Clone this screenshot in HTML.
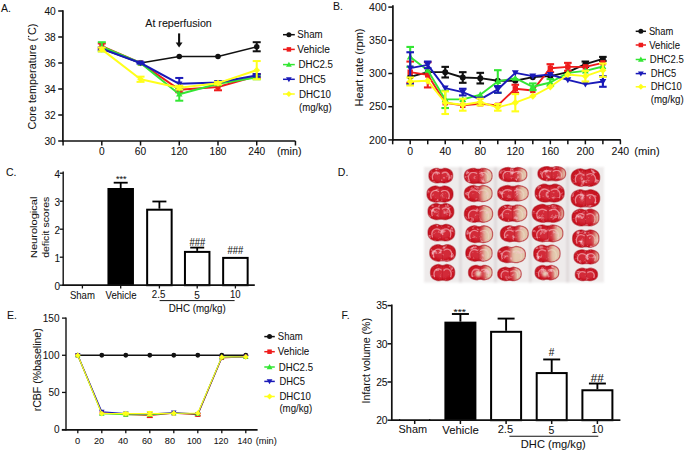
<!DOCTYPE html>
<html><head><meta charset="utf-8"><style>
html,body{margin:0;padding:0;background:#fff;}
body{width:685px;height:452px;overflow:hidden;}
svg{display:block;font-family:"Liberation Sans", sans-serif;}
text{stroke:#1a1a1a;stroke-width:0.06px;}
</style></head><body>
<svg width="685" height="452" viewBox="0 0 685 452">
<rect width="685" height="452" fill="#fff"/>
<text x="1.00" y="12.00" font-size="10.5" text-anchor="start" fill="#111">A.</text>
<line x1="62.90" y1="10.30" x2="62.90" y2="141.80" stroke="#111" stroke-width="1.7" stroke-linecap="butt"/>
<line x1="62.10" y1="141.00" x2="295.50" y2="141.00" stroke="#111" stroke-width="1.7" stroke-linecap="butt"/>
<line x1="58.20" y1="11.00" x2="62.90" y2="11.00" stroke="#111" stroke-width="1.5" stroke-linecap="butt"/>
<text x="55.80" y="14.70" font-size="10.2" text-anchor="end" fill="#111">40</text>
<line x1="58.20" y1="37.00" x2="62.90" y2="37.00" stroke="#111" stroke-width="1.5" stroke-linecap="butt"/>
<text x="55.80" y="40.70" font-size="10.2" text-anchor="end" fill="#111">38</text>
<line x1="58.20" y1="63.00" x2="62.90" y2="63.00" stroke="#111" stroke-width="1.5" stroke-linecap="butt"/>
<text x="55.80" y="66.70" font-size="10.2" text-anchor="end" fill="#111">36</text>
<line x1="58.20" y1="89.00" x2="62.90" y2="89.00" stroke="#111" stroke-width="1.5" stroke-linecap="butt"/>
<text x="55.80" y="92.70" font-size="10.2" text-anchor="end" fill="#111">34</text>
<line x1="58.20" y1="115.00" x2="62.90" y2="115.00" stroke="#111" stroke-width="1.5" stroke-linecap="butt"/>
<text x="55.80" y="118.70" font-size="10.2" text-anchor="end" fill="#111">32</text>
<line x1="58.20" y1="141.00" x2="62.90" y2="141.00" stroke="#111" stroke-width="1.5" stroke-linecap="butt"/>
<text x="55.80" y="144.70" font-size="10.2" text-anchor="end" fill="#111">30</text>
<line x1="63.07" y1="141.00" x2="63.07" y2="145.50" stroke="#111" stroke-width="1.5" stroke-linecap="butt"/>
<line x1="101.80" y1="141.00" x2="101.80" y2="145.50" stroke="#111" stroke-width="1.5" stroke-linecap="butt"/>
<line x1="140.53" y1="141.00" x2="140.53" y2="145.50" stroke="#111" stroke-width="1.5" stroke-linecap="butt"/>
<line x1="179.26" y1="141.00" x2="179.26" y2="145.50" stroke="#111" stroke-width="1.5" stroke-linecap="butt"/>
<line x1="217.99" y1="141.00" x2="217.99" y2="145.50" stroke="#111" stroke-width="1.5" stroke-linecap="butt"/>
<line x1="256.72" y1="141.00" x2="256.72" y2="145.50" stroke="#111" stroke-width="1.5" stroke-linecap="butt"/>
<line x1="295.45" y1="141.00" x2="295.45" y2="145.50" stroke="#111" stroke-width="1.5" stroke-linecap="butt"/>
<text x="101.80" y="155.30" font-size="10.2" text-anchor="middle" fill="#111">0</text>
<text x="140.53" y="155.30" font-size="10.2" text-anchor="middle" fill="#111">60</text>
<text x="179.26" y="155.30" font-size="10.2" text-anchor="middle" fill="#111">120</text>
<text x="217.99" y="155.30" font-size="10.2" text-anchor="middle" fill="#111">180</text>
<text x="256.72" y="155.30" font-size="10.2" text-anchor="middle" fill="#111">240</text>
<text x="277.00" y="155.00" font-size="10.2" text-anchor="start" fill="#111" textLength="24.50" lengthAdjust="spacingAndGlyphs">(min)</text>
<text x="36.20" y="129.50" font-size="10.5" text-anchor="start" fill="#111" textLength="106.00" lengthAdjust="spacingAndGlyphs" transform="rotate(-90 36.20 129.50)">Core temperature ( C)</text>
<circle cx="28.6" cy="36.4" r="0.75" fill="#222"/>
<text x="145.30" y="26.60" font-size="10.5" text-anchor="start" fill="#111" textLength="66.50" lengthAdjust="spacingAndGlyphs">At reperfusion</text>
<line x1="179.10" y1="33.40" x2="179.10" y2="43.50" stroke="#111" stroke-width="2.1" stroke-linecap="butt"/>
<polygon points="175.7,42.6 182.5,42.6 179.1,47.4" fill="#111"/>
<polyline points="101.80,48.70 140.53,63.00 179.26,56.50 217.99,56.50 256.72,46.75" fill="none" stroke="#111" stroke-width="1.5" stroke-linejoin="round"/>
<line x1="256.72" y1="42.20" x2="256.72" y2="51.30" stroke="#111" stroke-width="2.0" stroke-linecap="butt"/>
<line x1="252.72" y1="42.20" x2="260.72" y2="42.20" stroke="#111" stroke-width="2.0" stroke-linecap="butt"/>
<line x1="252.72" y1="51.30" x2="260.72" y2="51.30" stroke="#111" stroke-width="2.0" stroke-linecap="butt"/>
<circle cx="101.80" cy="48.70" r="2.8" fill="#111"/>
<circle cx="140.53" cy="63.00" r="2.8" fill="#111"/>
<circle cx="179.26" cy="56.50" r="2.8" fill="#111"/>
<circle cx="217.99" cy="56.50" r="2.8" fill="#111"/>
<circle cx="256.72" cy="46.75" r="2.8" fill="#111"/>
<polyline points="101.80,46.10 140.53,63.00 179.26,89.65 217.99,87.05 256.72,76.00" fill="none" stroke="#ee1c1c" stroke-width="2.0" stroke-linejoin="round"/>
<line x1="101.80" y1="43.50" x2="101.80" y2="48.70" stroke="#ee1c1c" stroke-width="2.0" stroke-linecap="butt"/>
<line x1="97.80" y1="43.50" x2="105.80" y2="43.50" stroke="#ee1c1c" stroke-width="2.0" stroke-linecap="butt"/>
<line x1="97.80" y1="48.70" x2="105.80" y2="48.70" stroke="#ee1c1c" stroke-width="2.0" stroke-linecap="butt"/>
<line x1="179.26" y1="87.05" x2="179.26" y2="92.25" stroke="#ee1c1c" stroke-width="2.0" stroke-linecap="butt"/>
<line x1="175.26" y1="87.05" x2="183.26" y2="87.05" stroke="#ee1c1c" stroke-width="2.0" stroke-linecap="butt"/>
<line x1="175.26" y1="92.25" x2="183.26" y2="92.25" stroke="#ee1c1c" stroke-width="2.0" stroke-linecap="butt"/>
<line x1="217.99" y1="83.80" x2="217.99" y2="90.30" stroke="#ee1c1c" stroke-width="2.0" stroke-linecap="butt"/>
<line x1="213.99" y1="83.80" x2="221.99" y2="83.80" stroke="#ee1c1c" stroke-width="2.0" stroke-linecap="butt"/>
<line x1="213.99" y1="90.30" x2="221.99" y2="90.30" stroke="#ee1c1c" stroke-width="2.0" stroke-linecap="butt"/>
<line x1="256.72" y1="74.05" x2="256.72" y2="77.95" stroke="#ee1c1c" stroke-width="2.0" stroke-linecap="butt"/>
<line x1="252.72" y1="74.05" x2="260.72" y2="74.05" stroke="#ee1c1c" stroke-width="2.0" stroke-linecap="butt"/>
<line x1="252.72" y1="77.95" x2="260.72" y2="77.95" stroke="#ee1c1c" stroke-width="2.0" stroke-linecap="butt"/>
<rect x="99.28" y="43.58" width="5.04" height="5.04" fill="#ee1c1c"/>
<rect x="138.01" y="60.48" width="5.04" height="5.04" fill="#ee1c1c"/>
<rect x="176.74" y="87.13" width="5.04" height="5.04" fill="#ee1c1c"/>
<rect x="215.47" y="84.53" width="5.04" height="5.04" fill="#ee1c1c"/>
<rect x="254.20" y="73.48" width="5.04" height="5.04" fill="#ee1c1c"/>
<polyline points="101.80,46.75 140.53,63.00 179.26,94.20 217.99,83.80 256.72,77.30" fill="none" stroke="#33e633" stroke-width="2.0" stroke-linejoin="round"/>
<line x1="101.80" y1="42.20" x2="101.80" y2="51.30" stroke="#33e633" stroke-width="2.0" stroke-linecap="butt"/>
<line x1="97.80" y1="42.20" x2="105.80" y2="42.20" stroke="#33e633" stroke-width="2.0" stroke-linecap="butt"/>
<line x1="97.80" y1="51.30" x2="105.80" y2="51.30" stroke="#33e633" stroke-width="2.0" stroke-linecap="butt"/>
<line x1="179.26" y1="87.70" x2="179.26" y2="100.70" stroke="#33e633" stroke-width="2.0" stroke-linecap="butt"/>
<line x1="175.26" y1="87.70" x2="183.26" y2="87.70" stroke="#33e633" stroke-width="2.0" stroke-linecap="butt"/>
<line x1="175.26" y1="100.70" x2="183.26" y2="100.70" stroke="#33e633" stroke-width="2.0" stroke-linecap="butt"/>
<line x1="217.99" y1="82.50" x2="217.99" y2="85.10" stroke="#33e633" stroke-width="2.0" stroke-linecap="butt"/>
<line x1="213.99" y1="82.50" x2="221.99" y2="82.50" stroke="#33e633" stroke-width="2.0" stroke-linecap="butt"/>
<line x1="213.99" y1="85.10" x2="221.99" y2="85.10" stroke="#33e633" stroke-width="2.0" stroke-linecap="butt"/>
<line x1="256.72" y1="75.35" x2="256.72" y2="79.25" stroke="#33e633" stroke-width="2.0" stroke-linecap="butt"/>
<line x1="252.72" y1="75.35" x2="260.72" y2="75.35" stroke="#33e633" stroke-width="2.0" stroke-linecap="butt"/>
<line x1="252.72" y1="79.25" x2="260.72" y2="79.25" stroke="#33e633" stroke-width="2.0" stroke-linecap="butt"/>
<polygon points="101.80,43.53 105.02,49.16 98.58,49.16" fill="#33e633"/>
<polygon points="140.53,59.78 143.75,65.42 137.31,65.42" fill="#33e633"/>
<polygon points="179.26,90.98 182.48,96.61 176.04,96.61" fill="#33e633"/>
<polygon points="217.99,80.58 221.21,86.22 214.77,86.22" fill="#33e633"/>
<polygon points="256.72,74.08 259.94,79.72 253.50,79.72" fill="#33e633"/>
<polyline points="101.80,48.70 140.53,63.00 179.26,83.80 217.99,82.50 256.72,75.35" fill="none" stroke="#1a1ab8" stroke-width="2.0" stroke-linejoin="round"/>
<line x1="101.80" y1="47.40" x2="101.80" y2="50.00" stroke="#1a1ab8" stroke-width="2.0" stroke-linecap="butt"/>
<line x1="97.80" y1="47.40" x2="105.80" y2="47.40" stroke="#1a1ab8" stroke-width="2.0" stroke-linecap="butt"/>
<line x1="97.80" y1="50.00" x2="105.80" y2="50.00" stroke="#1a1ab8" stroke-width="2.0" stroke-linecap="butt"/>
<line x1="140.53" y1="62.35" x2="140.53" y2="63.65" stroke="#1a1ab8" stroke-width="2.0" stroke-linecap="butt"/>
<line x1="136.53" y1="62.35" x2="144.53" y2="62.35" stroke="#1a1ab8" stroke-width="2.0" stroke-linecap="butt"/>
<line x1="136.53" y1="63.65" x2="144.53" y2="63.65" stroke="#1a1ab8" stroke-width="2.0" stroke-linecap="butt"/>
<line x1="179.26" y1="77.95" x2="179.26" y2="89.65" stroke="#1a1ab8" stroke-width="2.0" stroke-linecap="butt"/>
<line x1="175.26" y1="77.95" x2="183.26" y2="77.95" stroke="#1a1ab8" stroke-width="2.0" stroke-linecap="butt"/>
<line x1="175.26" y1="89.65" x2="183.26" y2="89.65" stroke="#1a1ab8" stroke-width="2.0" stroke-linecap="butt"/>
<line x1="217.99" y1="81.20" x2="217.99" y2="83.80" stroke="#1a1ab8" stroke-width="2.0" stroke-linecap="butt"/>
<line x1="213.99" y1="81.20" x2="221.99" y2="81.20" stroke="#1a1ab8" stroke-width="2.0" stroke-linecap="butt"/>
<line x1="213.99" y1="83.80" x2="221.99" y2="83.80" stroke="#1a1ab8" stroke-width="2.0" stroke-linecap="butt"/>
<line x1="256.72" y1="74.05" x2="256.72" y2="76.65" stroke="#1a1ab8" stroke-width="2.0" stroke-linecap="butt"/>
<line x1="252.72" y1="74.05" x2="260.72" y2="74.05" stroke="#1a1ab8" stroke-width="2.0" stroke-linecap="butt"/>
<line x1="252.72" y1="76.65" x2="260.72" y2="76.65" stroke="#1a1ab8" stroke-width="2.0" stroke-linecap="butt"/>
<polygon points="101.80,51.92 105.02,46.28 98.58,46.28" fill="#1a1ab8"/>
<polygon points="140.53,66.22 143.75,60.59 137.31,60.59" fill="#1a1ab8"/>
<polygon points="179.26,87.02 182.48,81.39 176.04,81.39" fill="#1a1ab8"/>
<polygon points="217.99,85.72 221.21,80.08 214.77,80.08" fill="#1a1ab8"/>
<polygon points="256.72,78.57 259.94,72.94 253.50,72.94" fill="#1a1ab8"/>
<polyline points="101.80,49.35 140.53,79.25 179.26,87.70 217.99,83.15 256.72,70.15" fill="none" stroke="#ffff1a" stroke-width="2.0" stroke-linejoin="round"/>
<line x1="101.80" y1="47.40" x2="101.80" y2="51.30" stroke="#ffff1a" stroke-width="2.0" stroke-linecap="butt"/>
<line x1="97.80" y1="47.40" x2="105.80" y2="47.40" stroke="#ffff1a" stroke-width="2.0" stroke-linecap="butt"/>
<line x1="97.80" y1="51.30" x2="105.80" y2="51.30" stroke="#ffff1a" stroke-width="2.0" stroke-linecap="butt"/>
<line x1="140.53" y1="76.65" x2="140.53" y2="81.85" stroke="#ffff1a" stroke-width="2.0" stroke-linecap="butt"/>
<line x1="136.53" y1="76.65" x2="144.53" y2="76.65" stroke="#ffff1a" stroke-width="2.0" stroke-linecap="butt"/>
<line x1="136.53" y1="81.85" x2="144.53" y2="81.85" stroke="#ffff1a" stroke-width="2.0" stroke-linecap="butt"/>
<line x1="179.26" y1="85.75" x2="179.26" y2="89.65" stroke="#ffff1a" stroke-width="2.0" stroke-linecap="butt"/>
<line x1="175.26" y1="85.75" x2="183.26" y2="85.75" stroke="#ffff1a" stroke-width="2.0" stroke-linecap="butt"/>
<line x1="175.26" y1="89.65" x2="183.26" y2="89.65" stroke="#ffff1a" stroke-width="2.0" stroke-linecap="butt"/>
<line x1="217.99" y1="81.85" x2="217.99" y2="84.45" stroke="#ffff1a" stroke-width="2.0" stroke-linecap="butt"/>
<line x1="213.99" y1="81.85" x2="221.99" y2="81.85" stroke="#ffff1a" stroke-width="2.0" stroke-linecap="butt"/>
<line x1="213.99" y1="84.45" x2="221.99" y2="84.45" stroke="#ffff1a" stroke-width="2.0" stroke-linecap="butt"/>
<line x1="256.72" y1="61.05" x2="256.72" y2="79.25" stroke="#ffff1a" stroke-width="2.0" stroke-linecap="butt"/>
<line x1="252.72" y1="61.05" x2="260.72" y2="61.05" stroke="#ffff1a" stroke-width="2.0" stroke-linecap="butt"/>
<line x1="252.72" y1="79.25" x2="260.72" y2="79.25" stroke="#ffff1a" stroke-width="2.0" stroke-linecap="butt"/>
<polygon points="101.80,45.99 105.16,49.35 101.80,52.71 98.44,49.35" fill="#ffff1a"/>
<polygon points="140.53,75.89 143.89,79.25 140.53,82.61 137.17,79.25" fill="#ffff1a"/>
<polygon points="179.26,84.34 182.62,87.70 179.26,91.06 175.90,87.70" fill="#ffff1a"/>
<polygon points="217.99,79.79 221.35,83.15 217.99,86.51 214.63,83.15" fill="#ffff1a"/>
<polygon points="256.72,66.79 260.08,70.15 256.72,73.51 253.36,70.15" fill="#ffff1a"/>
<line x1="283.00" y1="34.70" x2="294.80" y2="34.70" stroke="#111" stroke-width="1.5" stroke-linecap="butt"/>
<circle cx="288.90" cy="34.70" r="2.5" fill="#111"/>
<text x="297.30" y="38.20" font-size="10" text-anchor="start" fill="#111" textLength="25.30" lengthAdjust="spacingAndGlyphs">Sham</text>
<line x1="283.00" y1="49.40" x2="294.80" y2="49.40" stroke="#ee1c1c" stroke-width="1.5" stroke-linecap="butt"/>
<rect x="286.65" y="47.15" width="4.50" height="4.50" fill="#ee1c1c"/>
<text x="297.30" y="52.90" font-size="10" text-anchor="start" fill="#111" textLength="32.60" lengthAdjust="spacingAndGlyphs">Vehicle</text>
<line x1="283.00" y1="64.60" x2="294.80" y2="64.60" stroke="#33e633" stroke-width="1.5" stroke-linecap="butt"/>
<polygon points="288.90,61.72 291.77,66.76 286.02,66.76" fill="#33e633"/>
<text x="298.40" y="68.10" font-size="10" text-anchor="start" fill="#111" textLength="34.60" lengthAdjust="spacingAndGlyphs">DHC2.5</text>
<line x1="283.00" y1="79.30" x2="294.80" y2="79.30" stroke="#1a1ab8" stroke-width="1.5" stroke-linecap="butt"/>
<polygon points="288.90,82.17 291.77,77.14 286.02,77.14" fill="#1a1ab8"/>
<text x="299.00" y="82.80" font-size="10" text-anchor="start" fill="#111" textLength="26.70" lengthAdjust="spacingAndGlyphs">DHC5</text>
<line x1="283.00" y1="94.00" x2="294.80" y2="94.00" stroke="#ffff1a" stroke-width="1.5" stroke-linecap="butt"/>
<polygon points="288.90,91.00 291.90,94.00 288.90,97.00 285.90,94.00" fill="#ffff1a"/>
<text x="299.00" y="97.50" font-size="10" text-anchor="start" fill="#111" textLength="32.00" lengthAdjust="spacingAndGlyphs">DHC10</text>
<text x="299.00" y="110.50" font-size="10" text-anchor="start" fill="#111" textLength="32.60" lengthAdjust="spacingAndGlyphs">(mg/kg)</text>
<text x="333.00" y="10.00" font-size="10.5" text-anchor="start" fill="#111">B.</text>
<line x1="392.90" y1="5.30" x2="392.90" y2="140.70" stroke="#111" stroke-width="1.7" stroke-linecap="butt"/>
<line x1="392.10" y1="139.90" x2="620.80" y2="139.90" stroke="#111" stroke-width="1.7" stroke-linecap="butt"/>
<line x1="388.30" y1="7.10" x2="392.90" y2="7.10" stroke="#111" stroke-width="1.5" stroke-linecap="butt"/>
<text x="386.60" y="10.80" font-size="10.5" text-anchor="end" fill="#111">400</text>
<line x1="388.30" y1="40.30" x2="392.90" y2="40.30" stroke="#111" stroke-width="1.5" stroke-linecap="butt"/>
<text x="386.60" y="44.00" font-size="10.5" text-anchor="end" fill="#111">350</text>
<line x1="388.30" y1="73.50" x2="392.90" y2="73.50" stroke="#111" stroke-width="1.5" stroke-linecap="butt"/>
<text x="386.60" y="77.20" font-size="10.5" text-anchor="end" fill="#111">300</text>
<line x1="388.30" y1="106.70" x2="392.90" y2="106.70" stroke="#111" stroke-width="1.5" stroke-linecap="butt"/>
<text x="386.60" y="110.40" font-size="10.5" text-anchor="end" fill="#111">250</text>
<line x1="388.30" y1="139.90" x2="392.90" y2="139.90" stroke="#111" stroke-width="1.5" stroke-linecap="butt"/>
<text x="386.60" y="143.60" font-size="10.5" text-anchor="end" fill="#111">200</text>
<line x1="392.68" y1="139.90" x2="392.68" y2="144.30" stroke="#111" stroke-width="1.5" stroke-linecap="butt"/>
<line x1="410.20" y1="139.90" x2="410.20" y2="144.30" stroke="#111" stroke-width="1.5" stroke-linecap="butt"/>
<line x1="427.72" y1="139.90" x2="427.72" y2="144.30" stroke="#111" stroke-width="1.5" stroke-linecap="butt"/>
<line x1="445.23" y1="139.90" x2="445.23" y2="144.30" stroke="#111" stroke-width="1.5" stroke-linecap="butt"/>
<line x1="462.75" y1="139.90" x2="462.75" y2="144.30" stroke="#111" stroke-width="1.5" stroke-linecap="butt"/>
<line x1="480.26" y1="139.90" x2="480.26" y2="144.30" stroke="#111" stroke-width="1.5" stroke-linecap="butt"/>
<line x1="497.78" y1="139.90" x2="497.78" y2="144.30" stroke="#111" stroke-width="1.5" stroke-linecap="butt"/>
<line x1="515.30" y1="139.90" x2="515.30" y2="144.30" stroke="#111" stroke-width="1.5" stroke-linecap="butt"/>
<line x1="532.81" y1="139.90" x2="532.81" y2="144.30" stroke="#111" stroke-width="1.5" stroke-linecap="butt"/>
<line x1="550.33" y1="139.90" x2="550.33" y2="144.30" stroke="#111" stroke-width="1.5" stroke-linecap="butt"/>
<line x1="567.84" y1="139.90" x2="567.84" y2="144.30" stroke="#111" stroke-width="1.5" stroke-linecap="butt"/>
<line x1="585.36" y1="139.90" x2="585.36" y2="144.30" stroke="#111" stroke-width="1.5" stroke-linecap="butt"/>
<line x1="602.88" y1="139.90" x2="602.88" y2="144.30" stroke="#111" stroke-width="1.5" stroke-linecap="butt"/>
<line x1="620.39" y1="139.90" x2="620.39" y2="144.30" stroke="#111" stroke-width="1.5" stroke-linecap="butt"/>
<text x="410.20" y="154.80" font-size="10.5" text-anchor="middle" fill="#111">0</text>
<text x="445.23" y="154.80" font-size="10.5" text-anchor="middle" fill="#111">40</text>
<text x="480.26" y="154.80" font-size="10.5" text-anchor="middle" fill="#111">80</text>
<text x="515.30" y="154.80" font-size="10.5" text-anchor="middle" fill="#111">120</text>
<text x="550.33" y="154.80" font-size="10.5" text-anchor="middle" fill="#111">160</text>
<text x="585.36" y="154.80" font-size="10.5" text-anchor="middle" fill="#111">200</text>
<text x="620.39" y="154.80" font-size="10.5" text-anchor="middle" fill="#111">240</text>
<text x="634.20" y="154.50" font-size="10.5" text-anchor="start" fill="#111" textLength="25.50" lengthAdjust="spacingAndGlyphs">(min)</text>
<text x="362.50" y="106.50" font-size="10.8" text-anchor="start" fill="#111" textLength="78.00" lengthAdjust="spacingAndGlyphs" transform="rotate(-90 362.50 106.50)">Heart rate (rpm)</text>
<polyline points="410.20,76.82 427.72,72.17 445.23,72.17 462.75,77.48 480.26,78.15 497.78,80.80 515.30,80.80 532.81,77.15 550.33,76.16 567.84,72.17 585.36,64.20 602.88,58.89" fill="none" stroke="#111" stroke-width="1.9" stroke-linejoin="round"/>
<line x1="445.23" y1="66.86" x2="445.23" y2="77.48" stroke="#111" stroke-width="2.1" stroke-linecap="butt"/>
<line x1="441.43" y1="66.86" x2="449.03" y2="66.86" stroke="#111" stroke-width="2.1" stroke-linecap="butt"/>
<line x1="441.43" y1="77.48" x2="449.03" y2="77.48" stroke="#111" stroke-width="2.1" stroke-linecap="butt"/>
<line x1="462.75" y1="72.17" x2="462.75" y2="82.80" stroke="#111" stroke-width="2.1" stroke-linecap="butt"/>
<line x1="458.95" y1="72.17" x2="466.55" y2="72.17" stroke="#111" stroke-width="2.1" stroke-linecap="butt"/>
<line x1="458.95" y1="82.80" x2="466.55" y2="82.80" stroke="#111" stroke-width="2.1" stroke-linecap="butt"/>
<line x1="480.26" y1="72.84" x2="480.26" y2="83.46" stroke="#111" stroke-width="2.1" stroke-linecap="butt"/>
<line x1="476.46" y1="72.84" x2="484.06" y2="72.84" stroke="#111" stroke-width="2.1" stroke-linecap="butt"/>
<line x1="476.46" y1="83.46" x2="484.06" y2="83.46" stroke="#111" stroke-width="2.1" stroke-linecap="butt"/>
<line x1="585.36" y1="61.55" x2="585.36" y2="66.86" stroke="#111" stroke-width="2.1" stroke-linecap="butt"/>
<line x1="581.56" y1="61.55" x2="589.16" y2="61.55" stroke="#111" stroke-width="2.1" stroke-linecap="butt"/>
<line x1="581.56" y1="66.86" x2="589.16" y2="66.86" stroke="#111" stroke-width="2.1" stroke-linecap="butt"/>
<line x1="602.88" y1="56.90" x2="602.88" y2="60.88" stroke="#111" stroke-width="2.1" stroke-linecap="butt"/>
<line x1="599.08" y1="56.90" x2="606.68" y2="56.90" stroke="#111" stroke-width="2.1" stroke-linecap="butt"/>
<line x1="599.08" y1="60.88" x2="606.68" y2="60.88" stroke="#111" stroke-width="2.1" stroke-linecap="butt"/>
<circle cx="410.20" cy="76.82" r="3.0" fill="#111"/>
<circle cx="427.72" cy="72.17" r="3.0" fill="#111"/>
<circle cx="445.23" cy="72.17" r="3.0" fill="#111"/>
<circle cx="462.75" cy="77.48" r="3.0" fill="#111"/>
<circle cx="480.26" cy="78.15" r="3.0" fill="#111"/>
<circle cx="497.78" cy="80.80" r="3.0" fill="#111"/>
<circle cx="515.30" cy="80.80" r="3.0" fill="#111"/>
<circle cx="532.81" cy="77.15" r="3.0" fill="#111"/>
<circle cx="550.33" cy="76.16" r="3.0" fill="#111"/>
<circle cx="567.84" cy="72.17" r="3.0" fill="#111"/>
<circle cx="585.36" cy="64.20" r="3.0" fill="#111"/>
<circle cx="602.88" cy="58.89" r="3.0" fill="#111"/>
<polyline points="410.20,72.17 427.72,74.83 445.23,102.72 462.75,105.37 480.26,103.71 497.78,105.37 515.30,88.77 532.81,90.43 550.33,68.19 567.84,66.86 585.36,66.86 602.88,62.88" fill="none" stroke="#ee1c1c" stroke-width="1.9" stroke-linejoin="round"/>
<line x1="410.20" y1="61.55" x2="410.20" y2="82.80" stroke="#ee1c1c" stroke-width="2.1" stroke-linecap="butt"/>
<line x1="406.40" y1="61.55" x2="414.00" y2="61.55" stroke="#ee1c1c" stroke-width="2.1" stroke-linecap="butt"/>
<line x1="406.40" y1="82.80" x2="414.00" y2="82.80" stroke="#ee1c1c" stroke-width="2.1" stroke-linecap="butt"/>
<line x1="427.72" y1="62.21" x2="427.72" y2="87.44" stroke="#ee1c1c" stroke-width="2.1" stroke-linecap="butt"/>
<line x1="423.92" y1="62.21" x2="431.52" y2="62.21" stroke="#ee1c1c" stroke-width="2.1" stroke-linecap="butt"/>
<line x1="423.92" y1="87.44" x2="431.52" y2="87.44" stroke="#ee1c1c" stroke-width="2.1" stroke-linecap="butt"/>
<line x1="515.30" y1="84.79" x2="515.30" y2="92.76" stroke="#ee1c1c" stroke-width="2.1" stroke-linecap="butt"/>
<line x1="511.50" y1="84.79" x2="519.10" y2="84.79" stroke="#ee1c1c" stroke-width="2.1" stroke-linecap="butt"/>
<line x1="511.50" y1="92.76" x2="519.10" y2="92.76" stroke="#ee1c1c" stroke-width="2.1" stroke-linecap="butt"/>
<line x1="550.33" y1="64.20" x2="550.33" y2="72.17" stroke="#ee1c1c" stroke-width="2.1" stroke-linecap="butt"/>
<line x1="546.53" y1="64.20" x2="554.13" y2="64.20" stroke="#ee1c1c" stroke-width="2.1" stroke-linecap="butt"/>
<line x1="546.53" y1="72.17" x2="554.13" y2="72.17" stroke="#ee1c1c" stroke-width="2.1" stroke-linecap="butt"/>
<line x1="567.84" y1="62.88" x2="567.84" y2="70.84" stroke="#ee1c1c" stroke-width="2.1" stroke-linecap="butt"/>
<line x1="564.04" y1="62.88" x2="571.64" y2="62.88" stroke="#ee1c1c" stroke-width="2.1" stroke-linecap="butt"/>
<line x1="564.04" y1="70.84" x2="571.64" y2="70.84" stroke="#ee1c1c" stroke-width="2.1" stroke-linecap="butt"/>
<rect x="407.50" y="69.47" width="5.40" height="5.40" fill="#ee1c1c"/>
<rect x="425.02" y="72.13" width="5.40" height="5.40" fill="#ee1c1c"/>
<rect x="442.53" y="100.02" width="5.40" height="5.40" fill="#ee1c1c"/>
<rect x="460.05" y="102.67" width="5.40" height="5.40" fill="#ee1c1c"/>
<rect x="477.56" y="101.01" width="5.40" height="5.40" fill="#ee1c1c"/>
<rect x="495.08" y="102.67" width="5.40" height="5.40" fill="#ee1c1c"/>
<rect x="512.60" y="86.07" width="5.40" height="5.40" fill="#ee1c1c"/>
<rect x="530.11" y="87.73" width="5.40" height="5.40" fill="#ee1c1c"/>
<rect x="547.63" y="65.49" width="5.40" height="5.40" fill="#ee1c1c"/>
<rect x="565.14" y="64.16" width="5.40" height="5.40" fill="#ee1c1c"/>
<rect x="582.66" y="64.16" width="5.40" height="5.40" fill="#ee1c1c"/>
<rect x="600.18" y="60.18" width="5.40" height="5.40" fill="#ee1c1c"/>
<polyline points="410.20,56.90 427.72,70.18 445.23,99.40 462.75,99.40 480.26,94.75 497.78,81.47 515.30,78.15 532.81,86.78 550.33,82.46 567.84,72.84 585.36,70.84 602.88,66.53" fill="none" stroke="#33e633" stroke-width="1.9" stroke-linejoin="round"/>
<line x1="410.20" y1="46.94" x2="410.20" y2="66.86" stroke="#33e633" stroke-width="2.1" stroke-linecap="butt"/>
<line x1="406.40" y1="46.94" x2="414.00" y2="46.94" stroke="#33e633" stroke-width="2.1" stroke-linecap="butt"/>
<line x1="406.40" y1="66.86" x2="414.00" y2="66.86" stroke="#33e633" stroke-width="2.1" stroke-linecap="butt"/>
<line x1="445.23" y1="90.76" x2="445.23" y2="108.03" stroke="#33e633" stroke-width="2.1" stroke-linecap="butt"/>
<line x1="441.43" y1="90.76" x2="449.03" y2="90.76" stroke="#33e633" stroke-width="2.1" stroke-linecap="butt"/>
<line x1="441.43" y1="108.03" x2="449.03" y2="108.03" stroke="#33e633" stroke-width="2.1" stroke-linecap="butt"/>
<line x1="497.78" y1="70.18" x2="497.78" y2="92.76" stroke="#33e633" stroke-width="2.1" stroke-linecap="butt"/>
<line x1="493.98" y1="70.18" x2="501.58" y2="70.18" stroke="#33e633" stroke-width="2.1" stroke-linecap="butt"/>
<line x1="493.98" y1="92.76" x2="501.58" y2="92.76" stroke="#33e633" stroke-width="2.1" stroke-linecap="butt"/>
<line x1="532.81" y1="83.46" x2="532.81" y2="90.10" stroke="#33e633" stroke-width="2.1" stroke-linecap="butt"/>
<line x1="529.01" y1="83.46" x2="536.61" y2="83.46" stroke="#33e633" stroke-width="2.1" stroke-linecap="butt"/>
<line x1="529.01" y1="90.10" x2="536.61" y2="90.10" stroke="#33e633" stroke-width="2.1" stroke-linecap="butt"/>
<line x1="550.33" y1="79.14" x2="550.33" y2="85.78" stroke="#33e633" stroke-width="2.1" stroke-linecap="butt"/>
<line x1="546.53" y1="79.14" x2="554.13" y2="79.14" stroke="#33e633" stroke-width="2.1" stroke-linecap="butt"/>
<line x1="546.53" y1="85.78" x2="554.13" y2="85.78" stroke="#33e633" stroke-width="2.1" stroke-linecap="butt"/>
<polygon points="410.20,53.45 413.65,59.49 406.75,59.49" fill="#33e633"/>
<polygon points="427.72,66.73 431.17,72.77 424.27,72.77" fill="#33e633"/>
<polygon points="445.23,95.95 448.68,101.98 441.78,101.98" fill="#33e633"/>
<polygon points="462.75,95.95 466.20,101.98 459.30,101.98" fill="#33e633"/>
<polygon points="480.26,91.30 483.71,97.34 476.81,97.34" fill="#33e633"/>
<polygon points="497.78,78.02 501.23,84.06 494.33,84.06" fill="#33e633"/>
<polygon points="515.30,74.70 518.75,80.74 511.85,80.74" fill="#33e633"/>
<polygon points="532.81,83.33 536.26,89.37 529.36,89.37" fill="#33e633"/>
<polygon points="550.33,79.01 553.78,85.05 546.88,85.05" fill="#33e633"/>
<polygon points="567.84,69.39 571.29,75.42 564.39,75.42" fill="#33e633"/>
<polygon points="585.36,67.39 588.81,73.43 581.91,73.43" fill="#33e633"/>
<polygon points="602.88,63.08 606.33,69.12 599.43,69.12" fill="#33e633"/>
<polyline points="410.20,68.19 427.72,64.87 445.23,88.11 462.75,92.09 480.26,99.40 497.78,89.44 515.30,72.84 532.81,76.16 550.33,74.50 567.84,79.81 585.36,84.12 602.88,81.47" fill="none" stroke="#1a1ab8" stroke-width="1.9" stroke-linejoin="round"/>
<line x1="410.20" y1="52.25" x2="410.20" y2="84.12" stroke="#1a1ab8" stroke-width="2.1" stroke-linecap="butt"/>
<line x1="406.40" y1="52.25" x2="414.00" y2="52.25" stroke="#1a1ab8" stroke-width="2.1" stroke-linecap="butt"/>
<line x1="406.40" y1="84.12" x2="414.00" y2="84.12" stroke="#1a1ab8" stroke-width="2.1" stroke-linecap="butt"/>
<line x1="427.72" y1="61.55" x2="427.72" y2="68.19" stroke="#1a1ab8" stroke-width="2.1" stroke-linecap="butt"/>
<line x1="423.92" y1="61.55" x2="431.52" y2="61.55" stroke="#1a1ab8" stroke-width="2.1" stroke-linecap="butt"/>
<line x1="423.92" y1="68.19" x2="431.52" y2="68.19" stroke="#1a1ab8" stroke-width="2.1" stroke-linecap="butt"/>
<line x1="462.75" y1="88.77" x2="462.75" y2="95.41" stroke="#1a1ab8" stroke-width="2.1" stroke-linecap="butt"/>
<line x1="458.95" y1="88.77" x2="466.55" y2="88.77" stroke="#1a1ab8" stroke-width="2.1" stroke-linecap="butt"/>
<line x1="458.95" y1="95.41" x2="466.55" y2="95.41" stroke="#1a1ab8" stroke-width="2.1" stroke-linecap="butt"/>
<line x1="497.78" y1="86.12" x2="497.78" y2="92.76" stroke="#1a1ab8" stroke-width="2.1" stroke-linecap="butt"/>
<line x1="493.98" y1="86.12" x2="501.58" y2="86.12" stroke="#1a1ab8" stroke-width="2.1" stroke-linecap="butt"/>
<line x1="493.98" y1="92.76" x2="501.58" y2="92.76" stroke="#1a1ab8" stroke-width="2.1" stroke-linecap="butt"/>
<line x1="602.88" y1="76.16" x2="602.88" y2="86.78" stroke="#1a1ab8" stroke-width="2.1" stroke-linecap="butt"/>
<line x1="599.08" y1="76.16" x2="606.68" y2="76.16" stroke="#1a1ab8" stroke-width="2.1" stroke-linecap="butt"/>
<line x1="599.08" y1="86.78" x2="606.68" y2="86.78" stroke="#1a1ab8" stroke-width="2.1" stroke-linecap="butt"/>
<polygon points="410.20,71.64 413.65,65.60 406.75,65.60" fill="#1a1ab8"/>
<polygon points="427.72,68.32 431.17,62.28 424.27,62.28" fill="#1a1ab8"/>
<polygon points="445.23,91.56 448.68,85.52 441.78,85.52" fill="#1a1ab8"/>
<polygon points="462.75,95.54 466.20,89.50 459.30,89.50" fill="#1a1ab8"/>
<polygon points="480.26,102.85 483.71,96.81 476.81,96.81" fill="#1a1ab8"/>
<polygon points="497.78,92.89 501.23,86.85 494.33,86.85" fill="#1a1ab8"/>
<polygon points="515.30,76.29 518.75,70.25 511.85,70.25" fill="#1a1ab8"/>
<polygon points="532.81,79.61 536.26,73.57 529.36,73.57" fill="#1a1ab8"/>
<polygon points="550.33,77.95 553.78,71.91 546.88,71.91" fill="#1a1ab8"/>
<polygon points="567.84,83.26 571.29,77.22 564.39,77.22" fill="#1a1ab8"/>
<polygon points="585.36,87.57 588.81,81.54 581.91,81.54" fill="#1a1ab8"/>
<polygon points="602.88,84.92 606.33,78.88 599.43,78.88" fill="#1a1ab8"/>
<polyline points="410.20,81.47 427.72,80.80 445.23,102.72 462.75,104.71 480.26,102.05 497.78,107.36 515.30,102.72 532.81,96.08 550.33,86.78 567.84,74.50 585.36,76.16 602.88,70.18" fill="none" stroke="#ffff1a" stroke-width="1.9" stroke-linejoin="round"/>
<line x1="410.20" y1="77.48" x2="410.20" y2="85.45" stroke="#ffff1a" stroke-width="2.1" stroke-linecap="butt"/>
<line x1="406.40" y1="77.48" x2="414.00" y2="77.48" stroke="#ffff1a" stroke-width="2.1" stroke-linecap="butt"/>
<line x1="406.40" y1="85.45" x2="414.00" y2="85.45" stroke="#ffff1a" stroke-width="2.1" stroke-linecap="butt"/>
<line x1="445.23" y1="91.43" x2="445.23" y2="114.00" stroke="#ffff1a" stroke-width="2.1" stroke-linecap="butt"/>
<line x1="441.43" y1="91.43" x2="449.03" y2="91.43" stroke="#ffff1a" stroke-width="2.1" stroke-linecap="butt"/>
<line x1="441.43" y1="114.00" x2="449.03" y2="114.00" stroke="#ffff1a" stroke-width="2.1" stroke-linecap="butt"/>
<line x1="462.75" y1="98.73" x2="462.75" y2="110.68" stroke="#ffff1a" stroke-width="2.1" stroke-linecap="butt"/>
<line x1="458.95" y1="98.73" x2="466.55" y2="98.73" stroke="#ffff1a" stroke-width="2.1" stroke-linecap="butt"/>
<line x1="458.95" y1="110.68" x2="466.55" y2="110.68" stroke="#ffff1a" stroke-width="2.1" stroke-linecap="butt"/>
<line x1="480.26" y1="98.73" x2="480.26" y2="105.37" stroke="#ffff1a" stroke-width="2.1" stroke-linecap="butt"/>
<line x1="476.46" y1="98.73" x2="484.06" y2="98.73" stroke="#ffff1a" stroke-width="2.1" stroke-linecap="butt"/>
<line x1="476.46" y1="105.37" x2="484.06" y2="105.37" stroke="#ffff1a" stroke-width="2.1" stroke-linecap="butt"/>
<line x1="497.78" y1="104.04" x2="497.78" y2="110.68" stroke="#ffff1a" stroke-width="2.1" stroke-linecap="butt"/>
<line x1="493.98" y1="104.04" x2="501.58" y2="104.04" stroke="#ffff1a" stroke-width="2.1" stroke-linecap="butt"/>
<line x1="493.98" y1="110.68" x2="501.58" y2="110.68" stroke="#ffff1a" stroke-width="2.1" stroke-linecap="butt"/>
<line x1="515.30" y1="94.08" x2="515.30" y2="111.35" stroke="#ffff1a" stroke-width="2.1" stroke-linecap="butt"/>
<line x1="511.50" y1="94.08" x2="519.10" y2="94.08" stroke="#ffff1a" stroke-width="2.1" stroke-linecap="butt"/>
<line x1="511.50" y1="111.35" x2="519.10" y2="111.35" stroke="#ffff1a" stroke-width="2.1" stroke-linecap="butt"/>
<line x1="585.36" y1="70.84" x2="585.36" y2="81.47" stroke="#ffff1a" stroke-width="2.1" stroke-linecap="butt"/>
<line x1="581.56" y1="70.84" x2="589.16" y2="70.84" stroke="#ffff1a" stroke-width="2.1" stroke-linecap="butt"/>
<line x1="581.56" y1="81.47" x2="589.16" y2="81.47" stroke="#ffff1a" stroke-width="2.1" stroke-linecap="butt"/>
<line x1="602.88" y1="63.54" x2="602.88" y2="76.82" stroke="#ffff1a" stroke-width="2.1" stroke-linecap="butt"/>
<line x1="599.08" y1="63.54" x2="606.68" y2="63.54" stroke="#ffff1a" stroke-width="2.1" stroke-linecap="butt"/>
<line x1="599.08" y1="76.82" x2="606.68" y2="76.82" stroke="#ffff1a" stroke-width="2.1" stroke-linecap="butt"/>
<polygon points="410.20,77.87 413.80,81.47 410.20,85.07 406.60,81.47" fill="#ffff1a"/>
<polygon points="427.72,77.20 431.32,80.80 427.72,84.40 424.12,80.80" fill="#ffff1a"/>
<polygon points="445.23,99.12 448.83,102.72 445.23,106.32 441.63,102.72" fill="#ffff1a"/>
<polygon points="462.75,101.11 466.35,104.71 462.75,108.31 459.15,104.71" fill="#ffff1a"/>
<polygon points="480.26,98.45 483.86,102.05 480.26,105.65 476.66,102.05" fill="#ffff1a"/>
<polygon points="497.78,103.76 501.38,107.36 497.78,110.96 494.18,107.36" fill="#ffff1a"/>
<polygon points="515.30,99.12 518.90,102.72 515.30,106.32 511.70,102.72" fill="#ffff1a"/>
<polygon points="532.81,92.48 536.41,96.08 532.81,99.68 529.21,96.08" fill="#ffff1a"/>
<polygon points="550.33,83.18 553.93,86.78 550.33,90.38 546.73,86.78" fill="#ffff1a"/>
<polygon points="567.84,70.90 571.44,74.50 567.84,78.10 564.24,74.50" fill="#ffff1a"/>
<polygon points="585.36,72.56 588.96,76.16 585.36,79.76 581.76,76.16" fill="#ffff1a"/>
<polygon points="602.88,66.58 606.48,70.18 602.88,73.78 599.28,70.18" fill="#ffff1a"/>
<line x1="635.70" y1="31.30" x2="646.00" y2="31.30" stroke="#111" stroke-width="1.5" stroke-linecap="butt"/>
<circle cx="640.85" cy="31.30" r="2.5" fill="#111"/>
<text x="648.90" y="34.80" font-size="10" text-anchor="start" fill="#111" textLength="24.40" lengthAdjust="spacingAndGlyphs">Sham</text>
<line x1="635.70" y1="45.00" x2="646.00" y2="45.00" stroke="#ee1c1c" stroke-width="1.5" stroke-linecap="butt"/>
<rect x="638.60" y="42.75" width="4.50" height="4.50" fill="#ee1c1c"/>
<text x="649.30" y="48.50" font-size="10" text-anchor="start" fill="#111" textLength="30.70" lengthAdjust="spacingAndGlyphs">Vehicle</text>
<line x1="635.70" y1="59.50" x2="646.00" y2="59.50" stroke="#33e633" stroke-width="1.5" stroke-linecap="butt"/>
<polygon points="640.85,56.62 643.73,61.66 637.98,61.66" fill="#33e633"/>
<text x="649.80" y="63.00" font-size="10" text-anchor="start" fill="#111" textLength="33.90" lengthAdjust="spacingAndGlyphs">DHC2.5</text>
<line x1="635.70" y1="73.60" x2="646.00" y2="73.60" stroke="#1a1ab8" stroke-width="1.5" stroke-linecap="butt"/>
<polygon points="640.85,76.47 643.73,71.44 637.98,71.44" fill="#1a1ab8"/>
<text x="650.80" y="77.10" font-size="10" text-anchor="start" fill="#111" textLength="25.40" lengthAdjust="spacingAndGlyphs">DHC5</text>
<line x1="635.70" y1="86.80" x2="646.00" y2="86.80" stroke="#ffff1a" stroke-width="1.5" stroke-linecap="butt"/>
<polygon points="640.85,83.80 643.85,86.80 640.85,89.80 637.85,86.80" fill="#ffff1a"/>
<text x="650.80" y="90.30" font-size="10" text-anchor="start" fill="#111" textLength="31.00" lengthAdjust="spacingAndGlyphs">DHC10</text>
<text x="650.80" y="102.60" font-size="10" text-anchor="start" fill="#111" textLength="32.90" lengthAdjust="spacingAndGlyphs">(mg/kg)</text>
<text x="6.00" y="175.50" font-size="10.5" text-anchor="start" fill="#111">C.</text>
<rect x="107.45" y="188.00" width="26.50" height="97.20" fill="#000"/>
<line x1="120.70" y1="188.00" x2="120.70" y2="182.70" stroke="#000" stroke-width="1.8" stroke-linecap="butt"/>
<line x1="113.70" y1="182.70" x2="127.70" y2="182.70" stroke="#000" stroke-width="1.8" stroke-linecap="butt"/>
<rect x="147.15" y="209.70" width="24.50" height="75.50" fill="#fff" stroke="#000" stroke-width="2"/>
<line x1="159.40" y1="208.70" x2="159.40" y2="201.50" stroke="#000" stroke-width="1.8" stroke-linecap="butt"/>
<line x1="152.40" y1="201.50" x2="166.40" y2="201.50" stroke="#000" stroke-width="1.8" stroke-linecap="butt"/>
<rect x="184.95" y="251.90" width="24.50" height="33.30" fill="#fff" stroke="#000" stroke-width="2"/>
<line x1="197.20" y1="250.90" x2="197.20" y2="247.60" stroke="#000" stroke-width="1.8" stroke-linecap="butt"/>
<line x1="190.20" y1="247.60" x2="204.20" y2="247.60" stroke="#000" stroke-width="1.8" stroke-linecap="butt"/>
<rect x="223.15" y="257.90" width="24.50" height="27.30" fill="#fff" stroke="#000" stroke-width="2"/>
<line x1="63.20" y1="171.60" x2="63.20" y2="286.00" stroke="#111" stroke-width="1.4" stroke-linecap="butt"/>
<line x1="62.50" y1="285.20" x2="254.80" y2="285.20" stroke="#111" stroke-width="1.7" stroke-linecap="butt"/>
<line x1="59.80" y1="285.20" x2="63.20" y2="285.20" stroke="#111" stroke-width="1.3" stroke-linecap="butt"/>
<text x="60.00" y="289.50" font-size="10" text-anchor="end" fill="#111">0</text>
<line x1="59.80" y1="257.20" x2="63.20" y2="257.20" stroke="#111" stroke-width="1.3" stroke-linecap="butt"/>
<text x="60.00" y="261.50" font-size="10" text-anchor="end" fill="#111">1</text>
<line x1="59.80" y1="229.20" x2="63.20" y2="229.20" stroke="#111" stroke-width="1.3" stroke-linecap="butt"/>
<text x="60.00" y="233.50" font-size="10" text-anchor="end" fill="#111">2</text>
<line x1="59.80" y1="201.20" x2="63.20" y2="201.20" stroke="#111" stroke-width="1.3" stroke-linecap="butt"/>
<text x="60.00" y="205.50" font-size="10" text-anchor="end" fill="#111">3</text>
<line x1="59.80" y1="173.20" x2="63.20" y2="173.20" stroke="#111" stroke-width="1.3" stroke-linecap="butt"/>
<text x="60.00" y="177.50" font-size="10" text-anchor="end" fill="#111">4</text>
<line x1="82.40" y1="285.20" x2="82.40" y2="288.50" stroke="#111" stroke-width="1.3" stroke-linecap="butt"/>
<line x1="120.70" y1="285.20" x2="120.70" y2="288.50" stroke="#111" stroke-width="1.3" stroke-linecap="butt"/>
<line x1="159.40" y1="285.20" x2="159.40" y2="288.50" stroke="#111" stroke-width="1.3" stroke-linecap="butt"/>
<line x1="197.20" y1="285.20" x2="197.20" y2="288.50" stroke="#111" stroke-width="1.3" stroke-linecap="butt"/>
<line x1="235.40" y1="285.20" x2="235.40" y2="288.50" stroke="#111" stroke-width="1.3" stroke-linecap="butt"/>
<text x="82.40" y="298.60" font-size="10.3" text-anchor="middle" fill="#111" textLength="25.00" lengthAdjust="spacingAndGlyphs">Sham</text>
<text x="121.00" y="299.40" font-size="10.3" text-anchor="middle" fill="#111" textLength="31.00" lengthAdjust="spacingAndGlyphs">Vehicle</text>
<text x="158.60" y="298.40" font-size="10" text-anchor="middle" fill="#111" textLength="13.50" lengthAdjust="spacingAndGlyphs">2.5</text>
<text x="197.00" y="299.30" font-size="10" text-anchor="middle" fill="#111">5</text>
<text x="235.20" y="298.40" font-size="10" text-anchor="middle" fill="#111" textLength="10.60" lengthAdjust="spacingAndGlyphs">10</text>
<line x1="159.60" y1="300.60" x2="234.60" y2="300.60" stroke="#111" stroke-width="1.0" stroke-linecap="butt"/>
<text x="197.30" y="311.50" font-size="10.3" text-anchor="middle" fill="#111" textLength="57.00" lengthAdjust="spacingAndGlyphs">DHC (mg/kg)</text>
<text x="37.40" y="258.00" font-size="9.5" text-anchor="start" fill="#111" textLength="61.40" lengthAdjust="spacingAndGlyphs" transform="rotate(-90 37.40 258.00)">Neurological</text>
<text x="49.00" y="257.80" font-size="9.5" text-anchor="start" fill="#111" textLength="61.00" lengthAdjust="spacingAndGlyphs" transform="rotate(-90 49.00 257.80)">deficit scores</text>
<text x="121.30" y="182.00" font-size="8.5" text-anchor="middle" fill="#111" textLength="10.50" lengthAdjust="spacingAndGlyphs">***</text>
<text x="197.30" y="245.60" font-size="10" text-anchor="middle" fill="#111" textLength="15.80" lengthAdjust="spacingAndGlyphs">###</text>
<text x="235.40" y="254.20" font-size="10" text-anchor="middle" fill="#111" textLength="15.80" lengthAdjust="spacingAndGlyphs">###</text>
<text x="337.80" y="175.50" font-size="10.5" text-anchor="start" fill="#111">D.</text>
<defs><filter id="bl" x="-5%" y="-5%" width="110%" height="110%"><feGaussianBlur stdDeviation="0.5"/></filter><filter id="bl2" x="-50%" y="-50%" width="200%" height="200%"><feGaussianBlur stdDeviation="1.3"/></filter><filter id="bl4" x="-50%" y="-50%" width="200%" height="200%"><feGaussianBlur stdDeviation="2.0"/></filter><filter id="bl3" x="-5%" y="-5%" width="110%" height="110%"><feGaussianBlur stdDeviation="0.9"/></filter><filter id="tex" x="0" y="0" width="100%" height="100%" filterUnits="objectBoundingBox"><feTurbulence type="fractalNoise" baseFrequency="0.2" numOctaves="3" seed="11" result="n"/><feColorMatrix in="n" type="matrix" values="0 0 0 0 0.93  0 0 0 0 0.55  0 0 0 0 0.6  3.0 0 0 0 -1.7"/><feGaussianBlur stdDeviation="0.7"/></filter></defs>
<g filter="url(#bl3)">
<rect x="424" y="167" width="180" height="115.5" fill="#eeebeb"/>
<rect x="459.3" y="167" width="2.4" height="115.5" fill="#dcd6d7"/>
<rect x="494.3" y="167" width="2.4" height="115.5" fill="#dcd6d7"/>
<rect x="529.1" y="167" width="2.4" height="115.5" fill="#dcd6d7"/>
<rect x="566.4" y="167" width="2.4" height="115.5" fill="#dcd6d7"/>
</g>
<clipPath id="brains"><path d="M440.80,169.22 L442.49,168.93 L443.73,168.46 L444.84,168.29 L445.84,168.38 L446.77,168.58 L447.63,168.83 L448.43,169.12 L449.16,169.46 L449.82,169.84 L450.42,170.26 L450.94,170.73 L451.41,171.23 L451.80,171.78 L452.12,172.38 L452.37,173.02 L452.56,173.73 L452.66,174.52 L452.70,175.60 L452.66,176.68 L452.56,177.47 L452.37,178.18 L452.12,178.82 L451.80,179.42 L451.41,179.97 L450.94,180.47 L450.42,180.94 L449.82,181.36 L449.16,181.74 L448.43,182.08 L447.63,182.37 L446.77,182.62 L445.84,182.83 L444.84,182.97 L443.73,182.95 L442.49,182.66 L440.80,182.44 L439.11,182.66 L437.87,182.95 L436.76,182.97 L435.76,182.83 L434.83,182.62 L433.97,182.37 L433.17,182.08 L432.44,181.74 L431.78,181.36 L431.18,180.94 L430.66,180.47 L430.19,179.97 L429.80,179.42 L429.48,178.82 L429.23,178.18 L429.04,177.47 L428.94,176.68 L428.90,175.60 L428.94,174.52 L429.04,173.73 L429.23,173.02 L429.48,172.38 L429.80,171.78 L430.19,171.23 L430.66,170.73 L431.18,170.26 L431.78,169.84 L432.44,169.46 L433.17,169.12 L433.97,168.83 L434.83,168.58 L435.76,168.38 L436.76,168.29 L437.87,168.46 L439.11,168.93Z M440.00,187.04 L441.85,186.72 L443.20,186.21 L444.41,186.02 L445.51,186.12 L446.53,186.33 L447.47,186.61 L448.33,186.93 L449.13,187.30 L449.85,187.72 L450.50,188.19 L451.08,188.70 L451.59,189.25 L452.02,189.86 L452.37,190.51 L452.64,191.22 L452.84,191.99 L452.96,192.86 L453.00,194.05 L452.96,195.24 L452.84,196.11 L452.64,196.88 L452.37,197.59 L452.02,198.24 L451.59,198.85 L451.08,199.40 L450.50,199.91 L449.85,200.38 L449.13,200.80 L448.33,201.17 L447.47,201.49 L446.53,201.77 L445.51,201.99 L444.41,202.15 L443.20,202.12 L441.85,201.81 L440.00,201.57 L438.15,201.81 L436.80,202.12 L435.59,202.15 L434.49,201.99 L433.47,201.77 L432.53,201.49 L431.67,201.17 L430.87,200.80 L430.15,200.38 L429.50,199.91 L428.92,199.40 L428.41,198.85 L427.98,198.24 L427.63,197.59 L427.36,196.88 L427.16,196.11 L427.04,195.24 L427.00,194.05 L427.04,192.86 L427.16,191.99 L427.36,191.22 L427.63,190.51 L427.98,189.86 L428.41,189.25 L428.92,188.70 L429.50,188.19 L430.15,187.72 L430.87,187.30 L431.67,186.93 L432.53,186.61 L433.47,186.33 L434.49,186.12 L435.59,186.02 L436.80,186.21 L438.15,186.72Z M440.90,204.54 L442.73,204.22 L444.08,203.71 L445.28,203.52 L446.37,203.62 L447.38,203.83 L448.31,204.11 L449.17,204.43 L449.96,204.80 L450.68,205.22 L451.32,205.69 L451.90,206.20 L452.40,206.75 L452.82,207.36 L453.17,208.01 L453.45,208.72 L453.64,209.49 L453.76,210.36 L453.80,211.55 L453.76,212.74 L453.64,213.61 L453.45,214.38 L453.17,215.09 L452.82,215.74 L452.40,216.35 L451.90,216.90 L451.32,217.41 L450.68,217.88 L449.96,218.30 L449.17,218.67 L448.31,218.99 L447.38,219.27 L446.37,219.49 L445.28,219.65 L444.08,219.62 L442.73,219.31 L440.90,219.07 L439.07,219.31 L437.72,219.62 L436.52,219.65 L435.43,219.49 L434.42,219.27 L433.49,218.99 L432.63,218.67 L431.84,218.30 L431.12,217.88 L430.48,217.41 L429.90,216.90 L429.40,216.35 L428.98,215.74 L428.63,215.09 L428.35,214.38 L428.16,213.61 L428.04,212.74 L428.00,211.55 L428.04,210.36 L428.16,209.49 L428.35,208.72 L428.63,208.01 L428.98,207.36 L429.40,206.75 L429.90,206.20 L430.48,205.69 L431.12,205.22 L431.84,204.80 L432.63,204.43 L433.49,204.11 L434.42,203.83 L435.43,203.62 L436.52,203.52 L437.72,203.71 L439.07,204.22Z M441.35,225.38 L443.25,225.05 L444.64,224.52 L445.88,224.33 L447.01,224.43 L448.05,224.65 L449.02,224.93 L449.91,225.27 L450.72,225.65 L451.47,226.08 L452.14,226.56 L452.73,227.09 L453.25,227.66 L453.69,228.28 L454.05,228.95 L454.33,229.68 L454.54,230.48 L454.66,231.38 L454.70,232.60 L454.66,233.82 L454.54,234.72 L454.33,235.52 L454.05,236.25 L453.69,236.92 L453.25,237.54 L452.73,238.11 L452.14,238.64 L451.47,239.12 L450.72,239.55 L449.91,239.93 L449.02,240.27 L448.05,240.55 L447.01,240.78 L445.88,240.94 L444.64,240.91 L443.25,240.59 L441.35,240.34 L439.45,240.59 L438.06,240.91 L436.82,240.94 L435.69,240.78 L434.65,240.55 L433.68,240.27 L432.79,239.93 L431.98,239.55 L431.23,239.12 L430.56,238.64 L429.97,238.11 L429.45,237.54 L429.01,236.92 L428.65,236.25 L428.37,235.52 L428.16,234.72 L428.04,233.82 L428.00,232.60 L428.04,231.38 L428.16,230.48 L428.37,229.68 L428.65,228.95 L429.01,228.28 L429.45,227.66 L429.97,227.09 L430.56,226.56 L431.23,226.08 L431.98,225.65 L432.79,225.27 L433.68,224.93 L434.65,224.65 L435.69,224.43 L436.82,224.33 L438.06,224.52 L439.45,225.05Z M442.60,245.68 L444.43,245.35 L445.78,244.82 L446.98,244.63 L448.07,244.73 L449.08,244.95 L450.01,245.23 L450.87,245.57 L451.66,245.95 L452.38,246.38 L453.02,246.86 L453.60,247.39 L454.10,247.96 L454.52,248.58 L454.87,249.25 L455.15,249.98 L455.34,250.78 L455.46,251.68 L455.50,252.90 L455.46,254.12 L455.34,255.02 L455.15,255.82 L454.87,256.55 L454.52,257.22 L454.10,257.84 L453.60,258.41 L453.02,258.94 L452.38,259.42 L451.66,259.85 L450.87,260.23 L450.01,260.57 L449.08,260.85 L448.07,261.08 L446.98,261.24 L445.78,261.21 L444.43,260.89 L442.60,260.64 L440.77,260.89 L439.42,261.21 L438.22,261.24 L437.13,261.08 L436.12,260.85 L435.19,260.57 L434.33,260.23 L433.54,259.85 L432.82,259.42 L432.18,258.94 L431.60,258.41 L431.10,257.84 L430.68,257.22 L430.33,256.55 L430.05,255.82 L429.86,255.02 L429.74,254.12 L429.70,252.90 L429.74,251.68 L429.86,250.78 L430.05,249.98 L430.33,249.25 L430.68,248.58 L431.10,247.96 L431.60,247.39 L432.18,246.86 L432.82,246.38 L433.54,245.95 L434.33,245.57 L435.19,245.23 L436.12,244.95 L437.13,244.73 L438.22,244.63 L439.42,244.82 L440.77,245.35Z M442.60,265.54 L444.32,265.22 L445.58,264.71 L446.70,264.52 L447.73,264.62 L448.67,264.83 L449.55,265.11 L450.36,265.43 L451.10,265.80 L451.77,266.22 L452.38,266.69 L452.92,267.20 L453.38,267.75 L453.78,268.36 L454.11,269.01 L454.37,269.72 L454.55,270.49 L454.66,271.36 L454.70,272.55 L454.66,273.74 L454.55,274.61 L454.37,275.38 L454.11,276.09 L453.78,276.74 L453.38,277.35 L452.92,277.90 L452.38,278.41 L451.77,278.88 L451.10,279.30 L450.36,279.67 L449.55,279.99 L448.67,280.27 L447.73,280.49 L446.70,280.65 L445.58,280.62 L444.32,280.31 L442.60,280.06 L440.88,280.31 L439.62,280.62 L438.50,280.65 L437.47,280.49 L436.53,280.27 L435.65,279.99 L434.84,279.67 L434.10,279.30 L433.43,278.88 L432.82,278.41 L432.28,277.90 L431.82,277.35 L431.42,276.74 L431.09,276.09 L430.83,275.38 L430.65,274.61 L430.54,273.74 L430.50,272.55 L430.54,271.36 L430.65,270.49 L430.83,269.72 L431.09,269.01 L431.42,268.36 L431.82,267.75 L432.28,267.20 L432.82,266.69 L433.43,266.22 L434.10,265.80 L434.84,265.43 L435.65,265.11 L436.53,264.83 L437.47,264.62 L438.50,264.52 L439.62,264.71 L440.88,265.22Z M478.25,169.26 L480.22,168.96 L481.66,168.48 L482.95,168.30 L484.12,168.39 L485.20,168.60 L486.20,168.86 L487.13,169.17 L487.98,169.52 L488.75,169.91 L489.44,170.35 L490.06,170.84 L490.59,171.36 L491.05,171.93 L491.43,172.55 L491.72,173.22 L491.93,173.95 L492.06,174.78 L492.10,175.90 L492.06,177.02 L491.93,177.85 L491.72,178.58 L491.43,179.25 L491.05,179.87 L490.59,180.44 L490.06,180.96 L489.44,181.45 L488.75,181.89 L487.98,182.28 L487.13,182.63 L486.20,182.94 L485.20,183.20 L484.12,183.41 L482.95,183.56 L481.66,183.54 L480.22,183.24 L478.25,183.01 L476.28,183.24 L474.84,183.54 L473.55,183.56 L472.38,183.41 L471.30,183.20 L470.30,182.94 L469.37,182.63 L468.52,182.28 L467.75,181.89 L467.06,181.45 L466.44,180.96 L465.91,180.44 L465.45,179.87 L465.07,179.25 L464.78,178.58 L464.57,177.85 L464.44,177.02 L464.40,175.90 L464.44,174.78 L464.57,173.95 L464.78,173.22 L465.07,172.55 L465.45,171.93 L465.91,171.36 L466.44,170.84 L467.06,170.35 L467.75,169.91 L468.52,169.52 L469.37,169.17 L470.30,168.86 L471.30,168.60 L472.38,168.39 L473.55,168.30 L474.84,168.48 L476.28,168.96Z M478.25,186.53 L480.22,186.21 L481.66,185.71 L482.95,185.52 L484.12,185.61 L485.20,185.83 L486.20,186.10 L487.13,186.42 L487.98,186.79 L488.75,187.21 L489.44,187.67 L490.06,188.18 L490.59,188.73 L491.05,189.33 L491.43,189.98 L491.72,190.69 L491.93,191.45 L492.06,192.32 L492.10,193.50 L492.06,194.68 L491.93,195.55 L491.72,196.31 L491.43,197.02 L491.05,197.67 L490.59,198.27 L490.06,198.82 L489.44,199.33 L488.75,199.79 L487.98,200.21 L487.13,200.58 L486.20,200.90 L485.20,201.17 L484.12,201.40 L482.95,201.55 L481.66,201.52 L480.22,201.21 L478.25,200.97 L476.28,201.21 L474.84,201.52 L473.55,201.55 L472.38,201.40 L471.30,201.17 L470.30,200.90 L469.37,200.58 L468.52,200.21 L467.75,199.79 L467.06,199.33 L466.44,198.82 L465.91,198.27 L465.45,197.67 L465.07,197.02 L464.78,196.31 L464.57,195.55 L464.44,194.68 L464.40,193.50 L464.44,192.32 L464.57,191.45 L464.78,190.69 L465.07,189.98 L465.45,189.33 L465.91,188.73 L466.44,188.18 L467.06,187.67 L467.75,187.21 L468.52,186.79 L469.37,186.42 L470.30,186.10 L471.30,185.83 L472.38,185.61 L473.55,185.52 L474.84,185.71 L476.28,186.21Z M478.50,206.59 L480.50,206.26 L481.98,205.73 L483.28,205.53 L484.48,205.63 L485.58,205.86 L486.60,206.15 L487.54,206.48 L488.40,206.87 L489.19,207.31 L489.89,207.79 L490.52,208.32 L491.07,208.90 L491.53,209.53 L491.92,210.21 L492.21,210.95 L492.43,211.76 L492.56,212.66 L492.60,213.90 L492.56,215.14 L492.43,216.04 L492.21,216.85 L491.92,217.59 L491.53,218.27 L491.07,218.90 L490.52,219.48 L489.89,220.01 L489.19,220.49 L488.40,220.93 L487.54,221.32 L486.60,221.65 L485.58,221.94 L484.48,222.18 L483.28,222.34 L481.98,222.31 L480.50,221.98 L478.50,221.73 L476.50,221.98 L475.02,222.31 L473.72,222.34 L472.52,222.18 L471.42,221.94 L470.40,221.65 L469.46,221.32 L468.60,220.93 L467.81,220.49 L467.11,220.01 L466.48,219.48 L465.93,218.90 L465.47,218.27 L465.08,217.59 L464.79,216.85 L464.57,216.04 L464.44,215.14 L464.40,213.90 L464.44,212.66 L464.57,211.76 L464.79,210.95 L465.08,210.21 L465.47,209.53 L465.93,208.90 L466.48,208.32 L467.11,207.79 L467.81,207.31 L468.60,206.87 L469.46,206.48 L470.40,206.15 L471.42,205.86 L472.52,205.63 L473.72,205.53 L475.02,205.73 L476.50,206.26Z M479.20,226.80 L481.10,226.47 L482.50,225.93 L483.74,225.74 L484.88,225.84 L485.93,226.06 L486.90,226.35 L487.79,226.69 L488.61,227.08 L489.36,227.52 L490.03,228.01 L490.62,228.54 L491.14,229.12 L491.59,229.76 L491.95,230.44 L492.23,231.18 L492.44,231.99 L492.56,232.91 L492.60,234.15 L492.56,235.39 L492.44,236.31 L492.23,237.12 L491.95,237.86 L491.59,238.54 L491.14,239.18 L490.62,239.76 L490.03,240.29 L489.36,240.78 L488.61,241.22 L487.79,241.61 L486.90,241.95 L485.93,242.24 L484.88,242.47 L483.74,242.63 L482.50,242.61 L481.10,242.28 L479.20,242.03 L477.30,242.28 L475.90,242.61 L474.66,242.63 L473.52,242.47 L472.47,242.24 L471.50,241.95 L470.61,241.61 L469.79,241.22 L469.04,240.78 L468.37,240.29 L467.78,239.76 L467.26,239.18 L466.81,238.54 L466.45,237.86 L466.17,237.12 L465.96,236.31 L465.84,235.39 L465.80,234.15 L465.84,232.91 L465.96,231.99 L466.17,231.18 L466.45,230.44 L466.81,229.76 L467.26,229.12 L467.78,228.54 L468.37,228.01 L469.04,227.52 L469.79,227.08 L470.61,226.69 L471.50,226.35 L472.47,226.06 L473.52,225.84 L474.66,225.74 L475.90,225.93 L477.30,226.47Z M478.95,246.14 L480.82,245.82 L482.19,245.31 L483.41,245.12 L484.52,245.22 L485.55,245.43 L486.50,245.71 L487.38,246.03 L488.18,246.40 L488.92,246.82 L489.57,247.29 L490.16,247.80 L490.67,248.35 L491.10,248.96 L491.46,249.61 L491.74,250.32 L491.94,251.09 L492.06,251.96 L492.10,253.15 L492.06,254.34 L491.94,255.21 L491.74,255.98 L491.46,256.69 L491.10,257.34 L490.67,257.95 L490.16,258.50 L489.57,259.01 L488.92,259.48 L488.18,259.90 L487.38,260.27 L486.50,260.59 L485.55,260.87 L484.52,261.09 L483.41,261.25 L482.19,261.22 L480.82,260.91 L478.95,260.67 L477.08,260.91 L475.71,261.22 L474.49,261.25 L473.38,261.09 L472.35,260.87 L471.40,260.59 L470.52,260.27 L469.72,259.90 L468.98,259.48 L468.33,259.01 L467.74,258.50 L467.23,257.95 L466.80,257.34 L466.44,256.69 L466.16,255.98 L465.96,255.21 L465.84,254.34 L465.80,253.15 L465.84,251.96 L465.96,251.09 L466.16,250.32 L466.44,249.61 L466.80,248.96 L467.23,248.35 L467.74,247.80 L468.33,247.29 L468.98,246.82 L469.72,246.40 L470.52,246.03 L471.40,245.71 L472.35,245.43 L473.38,245.22 L474.49,245.12 L475.71,245.31 L477.08,245.82Z M480.30,266.20 L481.98,265.91 L483.21,265.46 L484.30,265.29 L485.30,265.37 L486.22,265.57 L487.08,265.82 L487.86,266.11 L488.59,266.44 L489.24,266.82 L489.83,267.23 L490.36,267.69 L490.82,268.19 L491.21,268.73 L491.53,269.32 L491.78,269.96 L491.96,270.65 L492.06,271.44 L492.10,272.50 L492.06,273.56 L491.96,274.35 L491.78,275.04 L491.53,275.68 L491.21,276.27 L490.82,276.81 L490.36,277.31 L489.83,277.77 L489.24,278.18 L488.59,278.56 L487.86,278.89 L487.08,279.18 L486.22,279.43 L485.30,279.63 L484.30,279.77 L483.21,279.75 L481.98,279.47 L480.30,279.25 L478.62,279.47 L477.39,279.75 L476.30,279.77 L475.30,279.63 L474.38,279.43 L473.52,279.18 L472.74,278.89 L472.01,278.56 L471.36,278.18 L470.77,277.77 L470.24,277.31 L469.78,276.81 L469.39,276.27 L469.07,275.68 L468.82,275.04 L468.64,274.35 L468.54,273.56 L468.50,272.50 L468.54,271.44 L468.64,270.65 L468.82,269.96 L469.07,269.32 L469.39,268.73 L469.78,268.19 L470.24,267.69 L470.77,267.23 L471.36,266.82 L472.01,266.44 L472.74,266.11 L473.52,265.82 L474.38,265.57 L475.30,265.37 L476.30,265.29 L477.39,265.46 L478.62,265.91Z M512.90,168.38 L514.87,168.10 L516.33,167.65 L517.61,167.48 L518.79,167.57 L519.88,167.76 L520.88,168.00 L521.81,168.28 L522.66,168.61 L523.43,168.98 L524.13,169.39 L524.75,169.84 L525.29,170.33 L525.75,170.86 L526.13,171.43 L526.42,172.06 L526.63,172.74 L526.76,173.51 L526.80,174.55 L526.76,175.59 L526.63,176.36 L526.42,177.04 L526.13,177.67 L525.75,178.24 L525.29,178.77 L524.75,179.26 L524.13,179.71 L523.43,180.12 L522.66,180.49 L521.81,180.82 L520.88,181.10 L519.88,181.34 L518.79,181.54 L517.61,181.68 L516.33,181.66 L514.87,181.38 L512.90,181.17 L510.93,181.38 L509.47,181.66 L508.19,181.68 L507.01,181.54 L505.92,181.34 L504.92,181.10 L503.99,180.82 L503.14,180.49 L502.37,180.12 L501.67,179.71 L501.05,179.26 L500.51,178.77 L500.05,178.24 L499.67,177.67 L499.38,177.04 L499.17,176.36 L499.04,175.59 L499.00,174.55 L499.04,173.51 L499.17,172.74 L499.38,172.06 L499.67,171.43 L500.05,170.86 L500.51,170.33 L501.05,169.84 L501.67,169.39 L502.37,168.98 L503.14,168.61 L503.99,168.28 L504.92,168.00 L505.92,167.76 L507.01,167.57 L508.19,167.48 L509.47,167.65 L510.93,168.10Z M512.95,186.49 L515.12,186.18 L516.71,185.69 L518.12,185.51 L519.41,185.60 L520.61,185.81 L521.71,186.08 L522.73,186.39 L523.66,186.75 L524.51,187.15 L525.27,187.60 L525.95,188.09 L526.54,188.63 L527.05,189.21 L527.46,189.84 L527.78,190.52 L528.01,191.27 L528.15,192.11 L528.20,193.25 L528.15,194.39 L528.01,195.23 L527.78,195.98 L527.46,196.66 L527.05,197.29 L526.54,197.87 L525.95,198.41 L525.27,198.90 L524.51,199.35 L523.66,199.75 L522.73,200.11 L521.71,200.42 L520.61,200.69 L519.41,200.91 L518.12,201.06 L516.71,201.03 L515.12,200.73 L512.95,200.50 L510.78,200.73 L509.19,201.03 L507.78,201.06 L506.49,200.91 L505.29,200.69 L504.19,200.42 L503.17,200.11 L502.24,199.75 L501.39,199.35 L500.63,198.90 L499.95,198.41 L499.36,197.87 L498.85,197.29 L498.44,196.66 L498.12,195.98 L497.89,195.23 L497.75,194.39 L497.70,193.25 L497.75,192.11 L497.89,191.27 L498.12,190.52 L498.44,189.84 L498.85,189.21 L499.36,188.63 L499.95,188.09 L500.63,187.60 L501.39,187.15 L502.24,186.75 L503.17,186.39 L504.19,186.08 L505.29,185.81 L506.49,185.60 L507.78,185.51 L509.19,185.69 L510.78,186.18Z M512.50,205.98 L514.53,205.65 L516.02,205.12 L517.35,204.93 L518.56,205.03 L519.68,205.25 L520.71,205.53 L521.67,205.87 L522.54,206.25 L523.34,206.68 L524.05,207.16 L524.69,207.69 L525.25,208.26 L525.72,208.88 L526.11,209.55 L526.41,210.28 L526.63,211.08 L526.76,211.98 L526.80,213.20 L526.76,214.42 L526.63,215.32 L526.41,216.12 L526.11,216.85 L525.72,217.52 L525.25,218.14 L524.69,218.71 L524.05,219.24 L523.34,219.72 L522.54,220.15 L521.67,220.53 L520.71,220.87 L519.68,221.15 L518.56,221.38 L517.35,221.54 L516.02,221.51 L514.53,221.19 L512.50,220.94 L510.47,221.19 L508.98,221.51 L507.65,221.54 L506.44,221.38 L505.32,221.15 L504.29,220.87 L503.33,220.53 L502.46,220.15 L501.66,219.72 L500.95,219.24 L500.31,218.71 L499.75,218.14 L499.28,217.52 L498.89,216.85 L498.59,216.12 L498.37,215.32 L498.24,214.42 L498.20,213.20 L498.24,211.98 L498.37,211.08 L498.59,210.28 L498.89,209.55 L499.28,208.88 L499.75,208.26 L500.31,207.69 L500.95,207.16 L501.66,206.68 L502.46,206.25 L503.33,205.87 L504.29,205.53 L505.32,205.25 L506.44,205.03 L507.65,204.93 L508.98,205.12 L510.47,205.65Z M514.30,226.73 L516.27,226.41 L517.73,225.91 L519.01,225.72 L520.19,225.81 L521.28,226.03 L522.28,226.30 L523.21,226.62 L524.06,226.99 L524.83,227.41 L525.53,227.87 L526.15,228.38 L526.69,228.93 L527.15,229.53 L527.53,230.18 L527.82,230.89 L528.03,231.65 L528.16,232.52 L528.20,233.70 L528.16,234.88 L528.03,235.75 L527.82,236.51 L527.53,237.22 L527.15,237.87 L526.69,238.47 L526.15,239.02 L525.53,239.53 L524.83,239.99 L524.06,240.41 L523.21,240.78 L522.28,241.10 L521.28,241.37 L520.19,241.60 L519.01,241.75 L517.73,241.72 L516.27,241.41 L514.30,241.17 L512.33,241.41 L510.87,241.72 L509.59,241.75 L508.41,241.60 L507.32,241.37 L506.32,241.10 L505.39,240.78 L504.54,240.41 L503.77,239.99 L503.07,239.53 L502.45,239.02 L501.91,238.47 L501.45,237.87 L501.07,237.22 L500.78,236.51 L500.57,235.75 L500.44,234.88 L500.40,233.70 L500.44,232.52 L500.57,231.65 L500.78,230.89 L501.07,230.18 L501.45,229.53 L501.91,228.93 L502.45,228.38 L503.07,227.87 L503.77,227.41 L504.54,226.99 L505.39,226.62 L506.32,226.30 L507.32,226.03 L508.41,225.81 L509.59,225.72 L510.87,225.91 L512.33,226.41Z M511.55,247.54 L513.52,247.22 L514.96,246.71 L516.25,246.52 L517.42,246.62 L518.50,246.83 L519.50,247.11 L520.43,247.43 L521.28,247.80 L522.05,248.22 L522.74,248.69 L523.36,249.20 L523.89,249.75 L524.35,250.36 L524.73,251.01 L525.02,251.72 L525.23,252.49 L525.36,253.36 L525.40,254.55 L525.36,255.74 L525.23,256.61 L525.02,257.38 L524.73,258.09 L524.35,258.74 L523.89,259.35 L523.36,259.90 L522.74,260.41 L522.05,260.88 L521.28,261.30 L520.43,261.67 L519.50,261.99 L518.50,262.27 L517.42,262.49 L516.25,262.65 L514.96,262.62 L513.52,262.31 L511.55,262.06 L509.58,262.31 L508.14,262.62 L506.85,262.65 L505.68,262.49 L504.60,262.27 L503.60,261.99 L502.67,261.67 L501.82,261.30 L501.05,260.88 L500.36,260.41 L499.74,259.90 L499.21,259.35 L498.75,258.74 L498.37,258.09 L498.08,257.38 L497.87,256.61 L497.74,255.74 L497.70,254.55 L497.74,253.36 L497.87,252.49 L498.08,251.72 L498.37,251.01 L498.75,250.36 L499.21,249.75 L499.74,249.20 L500.36,248.69 L501.05,248.22 L501.82,247.80 L502.67,247.43 L503.60,247.11 L504.60,246.83 L505.68,246.62 L506.85,246.52 L508.14,246.71 L509.58,247.22Z M509.45,268.11 L511.12,267.85 L512.35,267.42 L513.44,267.27 L514.43,267.35 L515.35,267.53 L516.20,267.76 L516.98,268.03 L517.70,268.33 L518.35,268.68 L518.94,269.07 L519.47,269.49 L519.92,269.96 L520.31,270.46 L520.63,271.00 L520.88,271.59 L521.06,272.24 L521.16,272.96 L521.20,273.95 L521.16,274.94 L521.06,275.66 L520.88,276.31 L520.63,276.90 L520.31,277.44 L519.92,277.94 L519.47,278.41 L518.94,278.83 L518.35,279.22 L517.70,279.57 L516.98,279.87 L516.20,280.14 L515.35,280.37 L514.43,280.56 L513.44,280.69 L512.35,280.67 L511.12,280.41 L509.45,280.20 L507.78,280.41 L506.55,280.67 L505.46,280.69 L504.47,280.56 L503.55,280.37 L502.70,280.14 L501.92,279.87 L501.20,279.57 L500.55,279.22 L499.96,278.83 L499.43,278.41 L498.98,277.94 L498.59,277.44 L498.27,276.90 L498.02,276.31 L497.84,275.66 L497.74,274.94 L497.70,273.95 L497.74,272.96 L497.84,272.24 L498.02,271.59 L498.27,271.00 L498.59,270.46 L498.98,269.96 L499.43,269.49 L499.96,269.07 L500.55,268.68 L501.20,268.33 L501.92,268.03 L502.70,267.76 L503.55,267.53 L504.47,267.35 L505.46,267.27 L506.55,267.42 L507.78,267.85Z M551.75,167.48 L553.72,167.20 L555.16,166.75 L556.45,166.58 L557.62,166.67 L558.70,166.86 L559.70,167.10 L560.63,167.38 L561.48,167.71 L562.25,168.08 L562.94,168.49 L563.56,168.94 L564.09,169.43 L564.55,169.96 L564.93,170.53 L565.22,171.16 L565.43,171.84 L565.56,172.61 L565.60,173.65 L565.56,174.69 L565.43,175.46 L565.22,176.14 L564.93,176.77 L564.55,177.34 L564.09,177.87 L563.56,178.36 L562.94,178.81 L562.25,179.22 L561.48,179.59 L560.63,179.92 L559.70,180.20 L558.70,180.44 L557.62,180.64 L556.45,180.78 L555.16,180.76 L553.72,180.48 L551.75,180.26 L549.78,180.48 L548.34,180.76 L547.05,180.78 L545.88,180.64 L544.80,180.44 L543.80,180.20 L542.87,179.92 L542.02,179.59 L541.25,179.22 L540.56,178.81 L539.94,178.36 L539.41,177.87 L538.95,177.34 L538.57,176.77 L538.28,176.14 L538.07,175.46 L537.94,174.69 L537.90,173.65 L537.94,172.61 L538.07,171.84 L538.28,171.16 L538.57,170.53 L538.95,169.96 L539.41,169.43 L539.94,168.94 L540.56,168.49 L541.25,168.08 L542.02,167.71 L542.87,167.38 L543.80,167.10 L544.80,166.86 L545.88,166.67 L547.05,166.58 L548.34,166.75 L549.78,167.20Z M549.65,185.29 L551.72,184.93 L553.24,184.37 L554.58,184.16 L555.82,184.26 L556.96,184.50 L558.01,184.81 L558.98,185.17 L559.87,185.59 L560.68,186.05 L561.41,186.57 L562.05,187.14 L562.62,187.76 L563.10,188.43 L563.49,189.16 L563.80,189.95 L564.02,190.81 L564.16,191.78 L564.20,193.10 L564.16,194.42 L564.02,195.39 L563.80,196.25 L563.49,197.04 L563.10,197.77 L562.62,198.44 L562.05,199.06 L561.41,199.63 L560.68,200.15 L559.87,200.61 L558.98,201.03 L558.01,201.39 L556.96,201.70 L555.82,201.95 L554.58,202.12 L553.24,202.09 L551.72,201.74 L549.65,201.47 L547.58,201.74 L546.06,202.09 L544.72,202.12 L543.48,201.95 L542.34,201.70 L541.29,201.39 L540.32,201.03 L539.43,200.61 L538.62,200.15 L537.89,199.63 L537.25,199.06 L536.68,198.44 L536.20,197.77 L535.81,197.04 L535.50,196.25 L535.28,195.39 L535.14,194.42 L535.10,193.10 L535.14,191.78 L535.28,190.81 L535.50,189.95 L535.81,189.16 L536.20,188.43 L536.68,187.76 L537.25,187.14 L537.89,186.57 L538.62,186.05 L539.43,185.59 L540.32,185.17 L541.29,184.81 L542.34,184.50 L543.48,184.26 L544.72,184.16 L546.06,184.37 L547.58,184.93Z M548.00,205.49 L550.23,205.13 L551.87,204.57 L553.32,204.36 L554.65,204.46 L555.88,204.70 L557.02,205.01 L558.06,205.37 L559.02,205.79 L559.90,206.25 L560.69,206.77 L561.38,207.34 L561.99,207.96 L562.51,208.63 L562.94,209.36 L563.27,210.15 L563.51,211.01 L563.65,211.98 L563.70,213.30 L563.65,214.62 L563.51,215.59 L563.27,216.45 L562.94,217.24 L562.51,217.97 L561.99,218.64 L561.38,219.26 L560.69,219.83 L559.90,220.35 L559.02,220.81 L558.06,221.23 L557.02,221.59 L555.88,221.90 L554.65,222.15 L553.32,222.32 L551.87,222.29 L550.23,221.94 L548.00,221.67 L545.77,221.94 L544.13,222.29 L542.68,222.32 L541.35,222.15 L540.12,221.90 L538.98,221.59 L537.94,221.23 L536.98,220.81 L536.10,220.35 L535.31,219.83 L534.62,219.26 L534.01,218.64 L533.49,217.97 L533.06,217.24 L532.73,216.45 L532.49,215.59 L532.35,214.62 L532.30,213.30 L532.35,211.98 L532.49,211.01 L532.73,210.15 L533.06,209.36 L533.49,208.63 L534.01,207.96 L534.62,207.34 L535.31,206.77 L536.10,206.25 L536.98,205.79 L537.94,205.37 L538.98,205.01 L540.12,204.70 L541.35,204.46 L542.68,204.36 L544.13,204.57 L545.77,205.13Z M547.60,225.99 L549.77,225.66 L551.37,225.13 L552.79,224.93 L554.09,225.03 L555.28,225.26 L556.39,225.55 L557.41,225.88 L558.34,226.27 L559.20,226.71 L559.96,227.19 L560.64,227.72 L561.24,228.30 L561.74,228.93 L562.16,229.61 L562.48,230.35 L562.71,231.16 L562.85,232.06 L562.90,233.30 L562.85,234.54 L562.71,235.44 L562.48,236.25 L562.16,236.99 L561.74,237.67 L561.24,238.30 L560.64,238.88 L559.96,239.41 L559.20,239.89 L558.34,240.33 L557.41,240.72 L556.39,241.05 L555.28,241.34 L554.09,241.58 L552.79,241.74 L551.37,241.71 L549.77,241.38 L547.60,241.13 L545.43,241.38 L543.83,241.71 L542.41,241.74 L541.11,241.58 L539.92,241.34 L538.81,241.05 L537.79,240.72 L536.86,240.33 L536.00,239.89 L535.24,239.41 L534.56,238.88 L533.96,238.30 L533.46,237.67 L533.04,236.99 L532.72,236.25 L532.49,235.44 L532.35,234.54 L532.30,233.30 L532.35,232.06 L532.49,231.16 L532.72,230.35 L533.04,229.61 L533.46,228.93 L533.96,228.30 L534.56,227.72 L535.24,227.19 L536.00,226.71 L536.86,226.27 L537.79,225.88 L538.81,225.55 L539.92,225.26 L541.11,225.03 L542.41,224.93 L543.83,225.13 L545.43,225.66Z M546.90,246.20 L548.77,245.87 L550.15,245.33 L551.38,245.14 L552.50,245.24 L553.53,245.46 L554.48,245.75 L555.36,246.09 L556.17,246.48 L556.90,246.92 L557.57,247.41 L558.15,247.94 L558.67,248.52 L559.10,249.16 L559.46,249.84 L559.74,250.58 L559.94,251.39 L560.06,252.31 L560.10,253.55 L560.06,254.79 L559.94,255.71 L559.74,256.52 L559.46,257.26 L559.10,257.94 L558.67,258.58 L558.15,259.16 L557.57,259.69 L556.90,260.18 L556.17,260.62 L555.36,261.01 L554.48,261.35 L553.53,261.64 L552.50,261.87 L551.38,262.03 L550.15,262.01 L548.77,261.68 L546.90,261.43 L545.03,261.68 L543.65,262.01 L542.42,262.03 L541.30,261.87 L540.27,261.64 L539.32,261.35 L538.44,261.01 L537.63,260.62 L536.90,260.18 L536.23,259.69 L535.65,259.16 L535.13,258.58 L534.70,257.94 L534.34,257.26 L534.06,256.52 L533.86,255.71 L533.74,254.79 L533.70,253.55 L533.74,252.31 L533.86,251.39 L534.06,250.58 L534.34,249.84 L534.70,249.16 L535.13,248.52 L535.65,247.94 L536.23,247.41 L536.90,246.92 L537.63,246.48 L538.44,246.09 L539.32,245.75 L540.27,245.46 L541.30,245.24 L542.42,245.14 L543.65,245.33 L545.03,245.87Z M546.90,266.29 L548.58,266.01 L549.81,265.55 L550.90,265.39 L551.90,265.47 L552.82,265.66 L553.68,265.91 L554.46,266.20 L555.19,266.53 L555.84,266.90 L556.43,267.32 L556.96,267.77 L557.42,268.27 L557.81,268.81 L558.13,269.39 L558.38,270.02 L558.56,270.71 L558.66,271.49 L558.70,272.55 L558.66,273.61 L558.56,274.39 L558.38,275.08 L558.13,275.71 L557.81,276.29 L557.42,276.83 L556.96,277.33 L556.43,277.78 L555.84,278.20 L555.19,278.57 L554.46,278.90 L553.68,279.19 L552.82,279.44 L551.90,279.64 L550.90,279.77 L549.81,279.75 L548.58,279.47 L546.90,279.25 L545.22,279.47 L543.99,279.75 L542.90,279.77 L541.90,279.64 L540.98,279.44 L540.12,279.19 L539.34,278.90 L538.61,278.57 L537.96,278.20 L537.37,277.78 L536.84,277.33 L536.38,276.83 L535.99,276.29 L535.67,275.71 L535.42,275.08 L535.24,274.39 L535.14,273.61 L535.10,272.55 L535.14,271.49 L535.24,270.71 L535.42,270.02 L535.67,269.39 L535.99,268.81 L536.38,268.27 L536.84,267.77 L537.37,267.32 L537.96,266.90 L538.61,266.53 L539.34,266.20 L540.12,265.91 L540.98,265.66 L541.90,265.47 L542.90,265.39 L543.99,265.55 L545.22,266.01Z M585.45,169.95 L587.47,169.60 L588.96,169.05 L590.28,168.85 L591.49,168.95 L592.60,169.19 L593.63,169.48 L594.58,169.83 L595.46,170.24 L596.25,170.69 L596.96,171.20 L597.60,171.75 L598.15,172.35 L598.62,173.01 L599.01,173.71 L599.31,174.48 L599.53,175.32 L599.66,176.27 L599.70,177.55 L599.66,178.83 L599.53,179.78 L599.31,180.62 L599.01,181.39 L598.62,182.09 L598.15,182.75 L597.60,183.35 L596.96,183.90 L596.25,184.41 L595.46,184.86 L594.58,185.27 L593.63,185.62 L592.60,185.92 L591.49,186.16 L590.28,186.33 L588.96,186.30 L587.47,185.96 L585.45,185.70 L583.43,185.96 L581.94,186.30 L580.62,186.33 L579.41,186.16 L578.30,185.92 L577.27,185.62 L576.32,185.27 L575.44,184.86 L574.65,184.41 L573.94,183.90 L573.30,183.35 L572.75,182.75 L572.28,182.09 L571.89,181.39 L571.59,180.62 L571.37,179.78 L571.24,178.83 L571.20,177.55 L571.24,176.27 L571.37,175.32 L571.59,174.48 L571.89,173.71 L572.28,173.01 L572.75,172.35 L573.30,171.75 L573.94,171.20 L574.65,170.69 L575.44,170.24 L576.32,169.83 L577.27,169.48 L578.30,169.19 L579.41,168.95 L580.62,168.85 L581.94,169.05 L583.43,169.60Z M585.45,190.84 L587.47,190.50 L588.96,189.95 L590.28,189.75 L591.49,189.85 L592.60,190.08 L593.63,190.38 L594.58,190.73 L595.46,191.13 L596.25,191.58 L596.96,192.08 L597.60,192.63 L598.15,193.23 L598.62,193.88 L599.01,194.59 L599.31,195.35 L599.53,196.18 L599.66,197.12 L599.70,198.40 L599.66,199.68 L599.53,200.62 L599.31,201.45 L599.01,202.21 L598.62,202.92 L598.15,203.57 L597.60,204.17 L596.96,204.72 L596.25,205.22 L595.46,205.67 L594.58,206.07 L593.63,206.42 L592.60,206.72 L591.49,206.96 L590.28,207.13 L588.96,207.10 L587.47,206.76 L585.45,206.50 L583.43,206.76 L581.94,207.10 L580.62,207.13 L579.41,206.96 L578.30,206.72 L577.27,206.42 L576.32,206.07 L575.44,205.67 L574.65,205.22 L573.94,204.72 L573.30,204.17 L572.75,203.57 L572.28,202.92 L571.89,202.21 L571.59,201.45 L571.37,200.62 L571.24,199.68 L571.20,198.40 L571.24,197.12 L571.37,196.18 L571.59,195.35 L571.89,194.59 L572.28,193.88 L572.75,193.23 L573.30,192.63 L573.94,192.08 L574.65,191.58 L575.44,191.13 L576.32,190.73 L577.27,190.38 L578.30,190.08 L579.41,189.85 L580.62,189.75 L581.94,189.95 L583.43,190.50Z M585.45,210.19 L587.36,209.86 L588.76,209.33 L590.01,209.13 L591.15,209.23 L592.20,209.46 L593.17,209.75 L594.07,210.08 L594.89,210.47 L595.64,210.91 L596.32,211.39 L596.92,211.92 L597.44,212.50 L597.88,213.13 L598.25,213.81 L598.53,214.55 L598.74,215.36 L598.86,216.26 L598.90,217.50 L598.86,218.74 L598.74,219.64 L598.53,220.45 L598.25,221.19 L597.88,221.87 L597.44,222.50 L596.92,223.08 L596.32,223.61 L595.64,224.09 L594.89,224.53 L594.07,224.92 L593.17,225.25 L592.20,225.54 L591.15,225.78 L590.01,225.94 L588.76,225.91 L587.36,225.58 L585.45,225.33 L583.54,225.58 L582.14,225.91 L580.89,225.94 L579.75,225.78 L578.70,225.54 L577.73,225.25 L576.83,224.92 L576.01,224.53 L575.26,224.09 L574.58,223.61 L573.98,223.08 L573.46,222.50 L573.02,221.87 L572.65,221.19 L572.37,220.45 L572.16,219.64 L572.04,218.74 L572.00,217.50 L572.04,216.26 L572.16,215.36 L572.37,214.55 L572.65,213.81 L573.02,213.13 L573.46,212.50 L573.98,211.92 L574.58,211.39 L575.26,210.91 L576.01,210.47 L576.83,210.08 L577.73,209.75 L578.70,209.46 L579.75,209.23 L580.89,209.13 L582.14,209.33 L583.54,209.86Z M585.75,231.04 L587.62,230.70 L588.99,230.15 L590.21,229.95 L591.32,230.05 L592.35,230.28 L593.30,230.58 L594.18,230.93 L594.98,231.33 L595.72,231.78 L596.37,232.28 L596.96,232.83 L597.47,233.43 L597.90,234.08 L598.26,234.79 L598.54,235.55 L598.74,236.38 L598.86,237.32 L598.90,238.60 L598.86,239.88 L598.74,240.82 L598.54,241.65 L598.26,242.41 L597.90,243.12 L597.47,243.77 L596.96,244.37 L596.37,244.92 L595.72,245.42 L594.98,245.87 L594.18,246.27 L593.30,246.62 L592.35,246.92 L591.32,247.16 L590.21,247.33 L588.99,247.30 L587.62,246.96 L585.75,246.70 L583.88,246.96 L582.51,247.30 L581.29,247.33 L580.18,247.16 L579.15,246.92 L578.20,246.62 L577.32,246.27 L576.52,245.87 L575.78,245.42 L575.13,244.92 L574.54,244.37 L574.03,243.77 L573.60,243.12 L573.24,242.41 L572.96,241.65 L572.76,240.82 L572.64,239.88 L572.60,238.60 L572.64,237.32 L572.76,236.38 L572.96,235.55 L573.24,234.79 L573.60,234.08 L574.03,233.43 L574.54,232.83 L575.13,232.28 L575.78,231.78 L576.52,231.33 L577.32,230.93 L578.20,230.58 L579.15,230.28 L580.18,230.05 L581.29,229.95 L582.51,230.15 L583.88,230.70Z M586.45,250.68 L588.22,250.40 L589.52,249.95 L590.67,249.78 L591.73,249.87 L592.70,250.06 L593.60,250.30 L594.43,250.58 L595.19,250.91 L595.89,251.28 L596.51,251.69 L597.06,252.14 L597.55,252.63 L597.96,253.16 L598.30,253.73 L598.56,254.36 L598.75,255.04 L598.86,255.81 L598.90,256.85 L598.86,257.89 L598.75,258.66 L598.56,259.34 L598.30,259.97 L597.96,260.54 L597.55,261.07 L597.06,261.56 L596.51,262.01 L595.89,262.42 L595.19,262.79 L594.43,263.12 L593.60,263.40 L592.70,263.64 L591.73,263.84 L590.67,263.98 L589.52,263.96 L588.22,263.68 L586.45,263.47 L584.68,263.68 L583.38,263.96 L582.23,263.98 L581.17,263.84 L580.20,263.64 L579.30,263.40 L578.47,263.12 L577.71,262.79 L577.01,262.42 L576.39,262.01 L575.84,261.56 L575.35,261.07 L574.94,260.54 L574.60,259.97 L574.34,259.34 L574.15,258.66 L574.04,257.89 L574.00,256.85 L574.04,255.81 L574.15,255.04 L574.34,254.36 L574.60,253.73 L574.94,253.16 L575.35,252.63 L575.84,252.14 L576.39,251.69 L577.01,251.28 L577.71,250.91 L578.47,250.58 L579.30,250.30 L580.20,250.06 L581.17,249.87 L582.23,249.78 L583.38,249.95 L584.68,250.40Z M586.40,268.94 L587.98,268.69 L589.14,268.30 L590.16,268.15 L591.11,268.22 L591.97,268.39 L592.78,268.61 L593.52,268.86 L594.19,269.15 L594.81,269.47 L595.37,269.84 L595.86,270.23 L596.29,270.67 L596.66,271.14 L596.96,271.64 L597.20,272.20 L597.36,272.80 L597.47,273.48 L597.50,274.40 L597.47,275.32 L597.36,276.00 L597.20,276.60 L596.96,277.16 L596.66,277.66 L596.29,278.13 L595.86,278.57 L595.37,278.96 L594.81,279.33 L594.19,279.65 L593.52,279.94 L592.78,280.19 L591.97,280.41 L591.11,280.58 L590.16,280.70 L589.14,280.68 L587.98,280.44 L586.40,280.25 L584.82,280.44 L583.66,280.68 L582.64,280.70 L581.69,280.58 L580.83,280.41 L580.02,280.19 L579.28,279.94 L578.61,279.65 L577.99,279.33 L577.43,278.96 L576.94,278.57 L576.51,278.13 L576.14,277.66 L575.84,277.16 L575.60,276.60 L575.44,276.00 L575.33,275.32 L575.30,274.40 L575.33,273.48 L575.44,272.80 L575.60,272.20 L575.84,271.64 L576.14,271.14 L576.51,270.67 L576.94,270.23 L577.43,269.84 L577.99,269.47 L578.61,269.15 L579.28,268.86 L580.02,268.61 L580.83,268.39 L581.69,268.22 L582.64,268.15 L583.66,268.30 L584.82,268.69Z"/></clipPath>
<g filter="url(#bl)">
<path d="M440.80,169.22 L442.49,168.93 L443.73,168.46 L444.84,168.29 L445.84,168.38 L446.77,168.58 L447.63,168.83 L448.43,169.12 L449.16,169.46 L449.82,169.84 L450.42,170.26 L450.94,170.73 L451.41,171.23 L451.80,171.78 L452.12,172.38 L452.37,173.02 L452.56,173.73 L452.66,174.52 L452.70,175.60 L452.66,176.68 L452.56,177.47 L452.37,178.18 L452.12,178.82 L451.80,179.42 L451.41,179.97 L450.94,180.47 L450.42,180.94 L449.82,181.36 L449.16,181.74 L448.43,182.08 L447.63,182.37 L446.77,182.62 L445.84,182.83 L444.84,182.97 L443.73,182.95 L442.49,182.66 L440.80,182.44 L439.11,182.66 L437.87,182.95 L436.76,182.97 L435.76,182.83 L434.83,182.62 L433.97,182.37 L433.17,182.08 L432.44,181.74 L431.78,181.36 L431.18,180.94 L430.66,180.47 L430.19,179.97 L429.80,179.42 L429.48,178.82 L429.23,178.18 L429.04,177.47 L428.94,176.68 L428.90,175.60 L428.94,174.52 L429.04,173.73 L429.23,173.02 L429.48,172.38 L429.80,171.78 L430.19,171.23 L430.66,170.73 L431.18,170.26 L431.78,169.84 L432.44,169.46 L433.17,169.12 L433.97,168.83 L434.83,168.58 L435.76,168.38 L436.76,168.29 L437.87,168.46 L439.11,168.93Z M440.00,187.04 L441.85,186.72 L443.20,186.21 L444.41,186.02 L445.51,186.12 L446.53,186.33 L447.47,186.61 L448.33,186.93 L449.13,187.30 L449.85,187.72 L450.50,188.19 L451.08,188.70 L451.59,189.25 L452.02,189.86 L452.37,190.51 L452.64,191.22 L452.84,191.99 L452.96,192.86 L453.00,194.05 L452.96,195.24 L452.84,196.11 L452.64,196.88 L452.37,197.59 L452.02,198.24 L451.59,198.85 L451.08,199.40 L450.50,199.91 L449.85,200.38 L449.13,200.80 L448.33,201.17 L447.47,201.49 L446.53,201.77 L445.51,201.99 L444.41,202.15 L443.20,202.12 L441.85,201.81 L440.00,201.57 L438.15,201.81 L436.80,202.12 L435.59,202.15 L434.49,201.99 L433.47,201.77 L432.53,201.49 L431.67,201.17 L430.87,200.80 L430.15,200.38 L429.50,199.91 L428.92,199.40 L428.41,198.85 L427.98,198.24 L427.63,197.59 L427.36,196.88 L427.16,196.11 L427.04,195.24 L427.00,194.05 L427.04,192.86 L427.16,191.99 L427.36,191.22 L427.63,190.51 L427.98,189.86 L428.41,189.25 L428.92,188.70 L429.50,188.19 L430.15,187.72 L430.87,187.30 L431.67,186.93 L432.53,186.61 L433.47,186.33 L434.49,186.12 L435.59,186.02 L436.80,186.21 L438.15,186.72Z M440.90,204.54 L442.73,204.22 L444.08,203.71 L445.28,203.52 L446.37,203.62 L447.38,203.83 L448.31,204.11 L449.17,204.43 L449.96,204.80 L450.68,205.22 L451.32,205.69 L451.90,206.20 L452.40,206.75 L452.82,207.36 L453.17,208.01 L453.45,208.72 L453.64,209.49 L453.76,210.36 L453.80,211.55 L453.76,212.74 L453.64,213.61 L453.45,214.38 L453.17,215.09 L452.82,215.74 L452.40,216.35 L451.90,216.90 L451.32,217.41 L450.68,217.88 L449.96,218.30 L449.17,218.67 L448.31,218.99 L447.38,219.27 L446.37,219.49 L445.28,219.65 L444.08,219.62 L442.73,219.31 L440.90,219.07 L439.07,219.31 L437.72,219.62 L436.52,219.65 L435.43,219.49 L434.42,219.27 L433.49,218.99 L432.63,218.67 L431.84,218.30 L431.12,217.88 L430.48,217.41 L429.90,216.90 L429.40,216.35 L428.98,215.74 L428.63,215.09 L428.35,214.38 L428.16,213.61 L428.04,212.74 L428.00,211.55 L428.04,210.36 L428.16,209.49 L428.35,208.72 L428.63,208.01 L428.98,207.36 L429.40,206.75 L429.90,206.20 L430.48,205.69 L431.12,205.22 L431.84,204.80 L432.63,204.43 L433.49,204.11 L434.42,203.83 L435.43,203.62 L436.52,203.52 L437.72,203.71 L439.07,204.22Z M441.35,225.38 L443.25,225.05 L444.64,224.52 L445.88,224.33 L447.01,224.43 L448.05,224.65 L449.02,224.93 L449.91,225.27 L450.72,225.65 L451.47,226.08 L452.14,226.56 L452.73,227.09 L453.25,227.66 L453.69,228.28 L454.05,228.95 L454.33,229.68 L454.54,230.48 L454.66,231.38 L454.70,232.60 L454.66,233.82 L454.54,234.72 L454.33,235.52 L454.05,236.25 L453.69,236.92 L453.25,237.54 L452.73,238.11 L452.14,238.64 L451.47,239.12 L450.72,239.55 L449.91,239.93 L449.02,240.27 L448.05,240.55 L447.01,240.78 L445.88,240.94 L444.64,240.91 L443.25,240.59 L441.35,240.34 L439.45,240.59 L438.06,240.91 L436.82,240.94 L435.69,240.78 L434.65,240.55 L433.68,240.27 L432.79,239.93 L431.98,239.55 L431.23,239.12 L430.56,238.64 L429.97,238.11 L429.45,237.54 L429.01,236.92 L428.65,236.25 L428.37,235.52 L428.16,234.72 L428.04,233.82 L428.00,232.60 L428.04,231.38 L428.16,230.48 L428.37,229.68 L428.65,228.95 L429.01,228.28 L429.45,227.66 L429.97,227.09 L430.56,226.56 L431.23,226.08 L431.98,225.65 L432.79,225.27 L433.68,224.93 L434.65,224.65 L435.69,224.43 L436.82,224.33 L438.06,224.52 L439.45,225.05Z M442.60,245.68 L444.43,245.35 L445.78,244.82 L446.98,244.63 L448.07,244.73 L449.08,244.95 L450.01,245.23 L450.87,245.57 L451.66,245.95 L452.38,246.38 L453.02,246.86 L453.60,247.39 L454.10,247.96 L454.52,248.58 L454.87,249.25 L455.15,249.98 L455.34,250.78 L455.46,251.68 L455.50,252.90 L455.46,254.12 L455.34,255.02 L455.15,255.82 L454.87,256.55 L454.52,257.22 L454.10,257.84 L453.60,258.41 L453.02,258.94 L452.38,259.42 L451.66,259.85 L450.87,260.23 L450.01,260.57 L449.08,260.85 L448.07,261.08 L446.98,261.24 L445.78,261.21 L444.43,260.89 L442.60,260.64 L440.77,260.89 L439.42,261.21 L438.22,261.24 L437.13,261.08 L436.12,260.85 L435.19,260.57 L434.33,260.23 L433.54,259.85 L432.82,259.42 L432.18,258.94 L431.60,258.41 L431.10,257.84 L430.68,257.22 L430.33,256.55 L430.05,255.82 L429.86,255.02 L429.74,254.12 L429.70,252.90 L429.74,251.68 L429.86,250.78 L430.05,249.98 L430.33,249.25 L430.68,248.58 L431.10,247.96 L431.60,247.39 L432.18,246.86 L432.82,246.38 L433.54,245.95 L434.33,245.57 L435.19,245.23 L436.12,244.95 L437.13,244.73 L438.22,244.63 L439.42,244.82 L440.77,245.35Z M442.60,265.54 L444.32,265.22 L445.58,264.71 L446.70,264.52 L447.73,264.62 L448.67,264.83 L449.55,265.11 L450.36,265.43 L451.10,265.80 L451.77,266.22 L452.38,266.69 L452.92,267.20 L453.38,267.75 L453.78,268.36 L454.11,269.01 L454.37,269.72 L454.55,270.49 L454.66,271.36 L454.70,272.55 L454.66,273.74 L454.55,274.61 L454.37,275.38 L454.11,276.09 L453.78,276.74 L453.38,277.35 L452.92,277.90 L452.38,278.41 L451.77,278.88 L451.10,279.30 L450.36,279.67 L449.55,279.99 L448.67,280.27 L447.73,280.49 L446.70,280.65 L445.58,280.62 L444.32,280.31 L442.60,280.06 L440.88,280.31 L439.62,280.62 L438.50,280.65 L437.47,280.49 L436.53,280.27 L435.65,279.99 L434.84,279.67 L434.10,279.30 L433.43,278.88 L432.82,278.41 L432.28,277.90 L431.82,277.35 L431.42,276.74 L431.09,276.09 L430.83,275.38 L430.65,274.61 L430.54,273.74 L430.50,272.55 L430.54,271.36 L430.65,270.49 L430.83,269.72 L431.09,269.01 L431.42,268.36 L431.82,267.75 L432.28,267.20 L432.82,266.69 L433.43,266.22 L434.10,265.80 L434.84,265.43 L435.65,265.11 L436.53,264.83 L437.47,264.62 L438.50,264.52 L439.62,264.71 L440.88,265.22Z M478.25,169.26 L480.22,168.96 L481.66,168.48 L482.95,168.30 L484.12,168.39 L485.20,168.60 L486.20,168.86 L487.13,169.17 L487.98,169.52 L488.75,169.91 L489.44,170.35 L490.06,170.84 L490.59,171.36 L491.05,171.93 L491.43,172.55 L491.72,173.22 L491.93,173.95 L492.06,174.78 L492.10,175.90 L492.06,177.02 L491.93,177.85 L491.72,178.58 L491.43,179.25 L491.05,179.87 L490.59,180.44 L490.06,180.96 L489.44,181.45 L488.75,181.89 L487.98,182.28 L487.13,182.63 L486.20,182.94 L485.20,183.20 L484.12,183.41 L482.95,183.56 L481.66,183.54 L480.22,183.24 L478.25,183.01 L476.28,183.24 L474.84,183.54 L473.55,183.56 L472.38,183.41 L471.30,183.20 L470.30,182.94 L469.37,182.63 L468.52,182.28 L467.75,181.89 L467.06,181.45 L466.44,180.96 L465.91,180.44 L465.45,179.87 L465.07,179.25 L464.78,178.58 L464.57,177.85 L464.44,177.02 L464.40,175.90 L464.44,174.78 L464.57,173.95 L464.78,173.22 L465.07,172.55 L465.45,171.93 L465.91,171.36 L466.44,170.84 L467.06,170.35 L467.75,169.91 L468.52,169.52 L469.37,169.17 L470.30,168.86 L471.30,168.60 L472.38,168.39 L473.55,168.30 L474.84,168.48 L476.28,168.96Z M478.25,186.53 L480.22,186.21 L481.66,185.71 L482.95,185.52 L484.12,185.61 L485.20,185.83 L486.20,186.10 L487.13,186.42 L487.98,186.79 L488.75,187.21 L489.44,187.67 L490.06,188.18 L490.59,188.73 L491.05,189.33 L491.43,189.98 L491.72,190.69 L491.93,191.45 L492.06,192.32 L492.10,193.50 L492.06,194.68 L491.93,195.55 L491.72,196.31 L491.43,197.02 L491.05,197.67 L490.59,198.27 L490.06,198.82 L489.44,199.33 L488.75,199.79 L487.98,200.21 L487.13,200.58 L486.20,200.90 L485.20,201.17 L484.12,201.40 L482.95,201.55 L481.66,201.52 L480.22,201.21 L478.25,200.97 L476.28,201.21 L474.84,201.52 L473.55,201.55 L472.38,201.40 L471.30,201.17 L470.30,200.90 L469.37,200.58 L468.52,200.21 L467.75,199.79 L467.06,199.33 L466.44,198.82 L465.91,198.27 L465.45,197.67 L465.07,197.02 L464.78,196.31 L464.57,195.55 L464.44,194.68 L464.40,193.50 L464.44,192.32 L464.57,191.45 L464.78,190.69 L465.07,189.98 L465.45,189.33 L465.91,188.73 L466.44,188.18 L467.06,187.67 L467.75,187.21 L468.52,186.79 L469.37,186.42 L470.30,186.10 L471.30,185.83 L472.38,185.61 L473.55,185.52 L474.84,185.71 L476.28,186.21Z M478.50,206.59 L480.50,206.26 L481.98,205.73 L483.28,205.53 L484.48,205.63 L485.58,205.86 L486.60,206.15 L487.54,206.48 L488.40,206.87 L489.19,207.31 L489.89,207.79 L490.52,208.32 L491.07,208.90 L491.53,209.53 L491.92,210.21 L492.21,210.95 L492.43,211.76 L492.56,212.66 L492.60,213.90 L492.56,215.14 L492.43,216.04 L492.21,216.85 L491.92,217.59 L491.53,218.27 L491.07,218.90 L490.52,219.48 L489.89,220.01 L489.19,220.49 L488.40,220.93 L487.54,221.32 L486.60,221.65 L485.58,221.94 L484.48,222.18 L483.28,222.34 L481.98,222.31 L480.50,221.98 L478.50,221.73 L476.50,221.98 L475.02,222.31 L473.72,222.34 L472.52,222.18 L471.42,221.94 L470.40,221.65 L469.46,221.32 L468.60,220.93 L467.81,220.49 L467.11,220.01 L466.48,219.48 L465.93,218.90 L465.47,218.27 L465.08,217.59 L464.79,216.85 L464.57,216.04 L464.44,215.14 L464.40,213.90 L464.44,212.66 L464.57,211.76 L464.79,210.95 L465.08,210.21 L465.47,209.53 L465.93,208.90 L466.48,208.32 L467.11,207.79 L467.81,207.31 L468.60,206.87 L469.46,206.48 L470.40,206.15 L471.42,205.86 L472.52,205.63 L473.72,205.53 L475.02,205.73 L476.50,206.26Z M479.20,226.80 L481.10,226.47 L482.50,225.93 L483.74,225.74 L484.88,225.84 L485.93,226.06 L486.90,226.35 L487.79,226.69 L488.61,227.08 L489.36,227.52 L490.03,228.01 L490.62,228.54 L491.14,229.12 L491.59,229.76 L491.95,230.44 L492.23,231.18 L492.44,231.99 L492.56,232.91 L492.60,234.15 L492.56,235.39 L492.44,236.31 L492.23,237.12 L491.95,237.86 L491.59,238.54 L491.14,239.18 L490.62,239.76 L490.03,240.29 L489.36,240.78 L488.61,241.22 L487.79,241.61 L486.90,241.95 L485.93,242.24 L484.88,242.47 L483.74,242.63 L482.50,242.61 L481.10,242.28 L479.20,242.03 L477.30,242.28 L475.90,242.61 L474.66,242.63 L473.52,242.47 L472.47,242.24 L471.50,241.95 L470.61,241.61 L469.79,241.22 L469.04,240.78 L468.37,240.29 L467.78,239.76 L467.26,239.18 L466.81,238.54 L466.45,237.86 L466.17,237.12 L465.96,236.31 L465.84,235.39 L465.80,234.15 L465.84,232.91 L465.96,231.99 L466.17,231.18 L466.45,230.44 L466.81,229.76 L467.26,229.12 L467.78,228.54 L468.37,228.01 L469.04,227.52 L469.79,227.08 L470.61,226.69 L471.50,226.35 L472.47,226.06 L473.52,225.84 L474.66,225.74 L475.90,225.93 L477.30,226.47Z M478.95,246.14 L480.82,245.82 L482.19,245.31 L483.41,245.12 L484.52,245.22 L485.55,245.43 L486.50,245.71 L487.38,246.03 L488.18,246.40 L488.92,246.82 L489.57,247.29 L490.16,247.80 L490.67,248.35 L491.10,248.96 L491.46,249.61 L491.74,250.32 L491.94,251.09 L492.06,251.96 L492.10,253.15 L492.06,254.34 L491.94,255.21 L491.74,255.98 L491.46,256.69 L491.10,257.34 L490.67,257.95 L490.16,258.50 L489.57,259.01 L488.92,259.48 L488.18,259.90 L487.38,260.27 L486.50,260.59 L485.55,260.87 L484.52,261.09 L483.41,261.25 L482.19,261.22 L480.82,260.91 L478.95,260.67 L477.08,260.91 L475.71,261.22 L474.49,261.25 L473.38,261.09 L472.35,260.87 L471.40,260.59 L470.52,260.27 L469.72,259.90 L468.98,259.48 L468.33,259.01 L467.74,258.50 L467.23,257.95 L466.80,257.34 L466.44,256.69 L466.16,255.98 L465.96,255.21 L465.84,254.34 L465.80,253.15 L465.84,251.96 L465.96,251.09 L466.16,250.32 L466.44,249.61 L466.80,248.96 L467.23,248.35 L467.74,247.80 L468.33,247.29 L468.98,246.82 L469.72,246.40 L470.52,246.03 L471.40,245.71 L472.35,245.43 L473.38,245.22 L474.49,245.12 L475.71,245.31 L477.08,245.82Z M480.30,266.20 L481.98,265.91 L483.21,265.46 L484.30,265.29 L485.30,265.37 L486.22,265.57 L487.08,265.82 L487.86,266.11 L488.59,266.44 L489.24,266.82 L489.83,267.23 L490.36,267.69 L490.82,268.19 L491.21,268.73 L491.53,269.32 L491.78,269.96 L491.96,270.65 L492.06,271.44 L492.10,272.50 L492.06,273.56 L491.96,274.35 L491.78,275.04 L491.53,275.68 L491.21,276.27 L490.82,276.81 L490.36,277.31 L489.83,277.77 L489.24,278.18 L488.59,278.56 L487.86,278.89 L487.08,279.18 L486.22,279.43 L485.30,279.63 L484.30,279.77 L483.21,279.75 L481.98,279.47 L480.30,279.25 L478.62,279.47 L477.39,279.75 L476.30,279.77 L475.30,279.63 L474.38,279.43 L473.52,279.18 L472.74,278.89 L472.01,278.56 L471.36,278.18 L470.77,277.77 L470.24,277.31 L469.78,276.81 L469.39,276.27 L469.07,275.68 L468.82,275.04 L468.64,274.35 L468.54,273.56 L468.50,272.50 L468.54,271.44 L468.64,270.65 L468.82,269.96 L469.07,269.32 L469.39,268.73 L469.78,268.19 L470.24,267.69 L470.77,267.23 L471.36,266.82 L472.01,266.44 L472.74,266.11 L473.52,265.82 L474.38,265.57 L475.30,265.37 L476.30,265.29 L477.39,265.46 L478.62,265.91Z M512.90,168.38 L514.87,168.10 L516.33,167.65 L517.61,167.48 L518.79,167.57 L519.88,167.76 L520.88,168.00 L521.81,168.28 L522.66,168.61 L523.43,168.98 L524.13,169.39 L524.75,169.84 L525.29,170.33 L525.75,170.86 L526.13,171.43 L526.42,172.06 L526.63,172.74 L526.76,173.51 L526.80,174.55 L526.76,175.59 L526.63,176.36 L526.42,177.04 L526.13,177.67 L525.75,178.24 L525.29,178.77 L524.75,179.26 L524.13,179.71 L523.43,180.12 L522.66,180.49 L521.81,180.82 L520.88,181.10 L519.88,181.34 L518.79,181.54 L517.61,181.68 L516.33,181.66 L514.87,181.38 L512.90,181.17 L510.93,181.38 L509.47,181.66 L508.19,181.68 L507.01,181.54 L505.92,181.34 L504.92,181.10 L503.99,180.82 L503.14,180.49 L502.37,180.12 L501.67,179.71 L501.05,179.26 L500.51,178.77 L500.05,178.24 L499.67,177.67 L499.38,177.04 L499.17,176.36 L499.04,175.59 L499.00,174.55 L499.04,173.51 L499.17,172.74 L499.38,172.06 L499.67,171.43 L500.05,170.86 L500.51,170.33 L501.05,169.84 L501.67,169.39 L502.37,168.98 L503.14,168.61 L503.99,168.28 L504.92,168.00 L505.92,167.76 L507.01,167.57 L508.19,167.48 L509.47,167.65 L510.93,168.10Z M512.95,186.49 L515.12,186.18 L516.71,185.69 L518.12,185.51 L519.41,185.60 L520.61,185.81 L521.71,186.08 L522.73,186.39 L523.66,186.75 L524.51,187.15 L525.27,187.60 L525.95,188.09 L526.54,188.63 L527.05,189.21 L527.46,189.84 L527.78,190.52 L528.01,191.27 L528.15,192.11 L528.20,193.25 L528.15,194.39 L528.01,195.23 L527.78,195.98 L527.46,196.66 L527.05,197.29 L526.54,197.87 L525.95,198.41 L525.27,198.90 L524.51,199.35 L523.66,199.75 L522.73,200.11 L521.71,200.42 L520.61,200.69 L519.41,200.91 L518.12,201.06 L516.71,201.03 L515.12,200.73 L512.95,200.50 L510.78,200.73 L509.19,201.03 L507.78,201.06 L506.49,200.91 L505.29,200.69 L504.19,200.42 L503.17,200.11 L502.24,199.75 L501.39,199.35 L500.63,198.90 L499.95,198.41 L499.36,197.87 L498.85,197.29 L498.44,196.66 L498.12,195.98 L497.89,195.23 L497.75,194.39 L497.70,193.25 L497.75,192.11 L497.89,191.27 L498.12,190.52 L498.44,189.84 L498.85,189.21 L499.36,188.63 L499.95,188.09 L500.63,187.60 L501.39,187.15 L502.24,186.75 L503.17,186.39 L504.19,186.08 L505.29,185.81 L506.49,185.60 L507.78,185.51 L509.19,185.69 L510.78,186.18Z M512.50,205.98 L514.53,205.65 L516.02,205.12 L517.35,204.93 L518.56,205.03 L519.68,205.25 L520.71,205.53 L521.67,205.87 L522.54,206.25 L523.34,206.68 L524.05,207.16 L524.69,207.69 L525.25,208.26 L525.72,208.88 L526.11,209.55 L526.41,210.28 L526.63,211.08 L526.76,211.98 L526.80,213.20 L526.76,214.42 L526.63,215.32 L526.41,216.12 L526.11,216.85 L525.72,217.52 L525.25,218.14 L524.69,218.71 L524.05,219.24 L523.34,219.72 L522.54,220.15 L521.67,220.53 L520.71,220.87 L519.68,221.15 L518.56,221.38 L517.35,221.54 L516.02,221.51 L514.53,221.19 L512.50,220.94 L510.47,221.19 L508.98,221.51 L507.65,221.54 L506.44,221.38 L505.32,221.15 L504.29,220.87 L503.33,220.53 L502.46,220.15 L501.66,219.72 L500.95,219.24 L500.31,218.71 L499.75,218.14 L499.28,217.52 L498.89,216.85 L498.59,216.12 L498.37,215.32 L498.24,214.42 L498.20,213.20 L498.24,211.98 L498.37,211.08 L498.59,210.28 L498.89,209.55 L499.28,208.88 L499.75,208.26 L500.31,207.69 L500.95,207.16 L501.66,206.68 L502.46,206.25 L503.33,205.87 L504.29,205.53 L505.32,205.25 L506.44,205.03 L507.65,204.93 L508.98,205.12 L510.47,205.65Z M514.30,226.73 L516.27,226.41 L517.73,225.91 L519.01,225.72 L520.19,225.81 L521.28,226.03 L522.28,226.30 L523.21,226.62 L524.06,226.99 L524.83,227.41 L525.53,227.87 L526.15,228.38 L526.69,228.93 L527.15,229.53 L527.53,230.18 L527.82,230.89 L528.03,231.65 L528.16,232.52 L528.20,233.70 L528.16,234.88 L528.03,235.75 L527.82,236.51 L527.53,237.22 L527.15,237.87 L526.69,238.47 L526.15,239.02 L525.53,239.53 L524.83,239.99 L524.06,240.41 L523.21,240.78 L522.28,241.10 L521.28,241.37 L520.19,241.60 L519.01,241.75 L517.73,241.72 L516.27,241.41 L514.30,241.17 L512.33,241.41 L510.87,241.72 L509.59,241.75 L508.41,241.60 L507.32,241.37 L506.32,241.10 L505.39,240.78 L504.54,240.41 L503.77,239.99 L503.07,239.53 L502.45,239.02 L501.91,238.47 L501.45,237.87 L501.07,237.22 L500.78,236.51 L500.57,235.75 L500.44,234.88 L500.40,233.70 L500.44,232.52 L500.57,231.65 L500.78,230.89 L501.07,230.18 L501.45,229.53 L501.91,228.93 L502.45,228.38 L503.07,227.87 L503.77,227.41 L504.54,226.99 L505.39,226.62 L506.32,226.30 L507.32,226.03 L508.41,225.81 L509.59,225.72 L510.87,225.91 L512.33,226.41Z M511.55,247.54 L513.52,247.22 L514.96,246.71 L516.25,246.52 L517.42,246.62 L518.50,246.83 L519.50,247.11 L520.43,247.43 L521.28,247.80 L522.05,248.22 L522.74,248.69 L523.36,249.20 L523.89,249.75 L524.35,250.36 L524.73,251.01 L525.02,251.72 L525.23,252.49 L525.36,253.36 L525.40,254.55 L525.36,255.74 L525.23,256.61 L525.02,257.38 L524.73,258.09 L524.35,258.74 L523.89,259.35 L523.36,259.90 L522.74,260.41 L522.05,260.88 L521.28,261.30 L520.43,261.67 L519.50,261.99 L518.50,262.27 L517.42,262.49 L516.25,262.65 L514.96,262.62 L513.52,262.31 L511.55,262.06 L509.58,262.31 L508.14,262.62 L506.85,262.65 L505.68,262.49 L504.60,262.27 L503.60,261.99 L502.67,261.67 L501.82,261.30 L501.05,260.88 L500.36,260.41 L499.74,259.90 L499.21,259.35 L498.75,258.74 L498.37,258.09 L498.08,257.38 L497.87,256.61 L497.74,255.74 L497.70,254.55 L497.74,253.36 L497.87,252.49 L498.08,251.72 L498.37,251.01 L498.75,250.36 L499.21,249.75 L499.74,249.20 L500.36,248.69 L501.05,248.22 L501.82,247.80 L502.67,247.43 L503.60,247.11 L504.60,246.83 L505.68,246.62 L506.85,246.52 L508.14,246.71 L509.58,247.22Z M509.45,268.11 L511.12,267.85 L512.35,267.42 L513.44,267.27 L514.43,267.35 L515.35,267.53 L516.20,267.76 L516.98,268.03 L517.70,268.33 L518.35,268.68 L518.94,269.07 L519.47,269.49 L519.92,269.96 L520.31,270.46 L520.63,271.00 L520.88,271.59 L521.06,272.24 L521.16,272.96 L521.20,273.95 L521.16,274.94 L521.06,275.66 L520.88,276.31 L520.63,276.90 L520.31,277.44 L519.92,277.94 L519.47,278.41 L518.94,278.83 L518.35,279.22 L517.70,279.57 L516.98,279.87 L516.20,280.14 L515.35,280.37 L514.43,280.56 L513.44,280.69 L512.35,280.67 L511.12,280.41 L509.45,280.20 L507.78,280.41 L506.55,280.67 L505.46,280.69 L504.47,280.56 L503.55,280.37 L502.70,280.14 L501.92,279.87 L501.20,279.57 L500.55,279.22 L499.96,278.83 L499.43,278.41 L498.98,277.94 L498.59,277.44 L498.27,276.90 L498.02,276.31 L497.84,275.66 L497.74,274.94 L497.70,273.95 L497.74,272.96 L497.84,272.24 L498.02,271.59 L498.27,271.00 L498.59,270.46 L498.98,269.96 L499.43,269.49 L499.96,269.07 L500.55,268.68 L501.20,268.33 L501.92,268.03 L502.70,267.76 L503.55,267.53 L504.47,267.35 L505.46,267.27 L506.55,267.42 L507.78,267.85Z M551.75,167.48 L553.72,167.20 L555.16,166.75 L556.45,166.58 L557.62,166.67 L558.70,166.86 L559.70,167.10 L560.63,167.38 L561.48,167.71 L562.25,168.08 L562.94,168.49 L563.56,168.94 L564.09,169.43 L564.55,169.96 L564.93,170.53 L565.22,171.16 L565.43,171.84 L565.56,172.61 L565.60,173.65 L565.56,174.69 L565.43,175.46 L565.22,176.14 L564.93,176.77 L564.55,177.34 L564.09,177.87 L563.56,178.36 L562.94,178.81 L562.25,179.22 L561.48,179.59 L560.63,179.92 L559.70,180.20 L558.70,180.44 L557.62,180.64 L556.45,180.78 L555.16,180.76 L553.72,180.48 L551.75,180.26 L549.78,180.48 L548.34,180.76 L547.05,180.78 L545.88,180.64 L544.80,180.44 L543.80,180.20 L542.87,179.92 L542.02,179.59 L541.25,179.22 L540.56,178.81 L539.94,178.36 L539.41,177.87 L538.95,177.34 L538.57,176.77 L538.28,176.14 L538.07,175.46 L537.94,174.69 L537.90,173.65 L537.94,172.61 L538.07,171.84 L538.28,171.16 L538.57,170.53 L538.95,169.96 L539.41,169.43 L539.94,168.94 L540.56,168.49 L541.25,168.08 L542.02,167.71 L542.87,167.38 L543.80,167.10 L544.80,166.86 L545.88,166.67 L547.05,166.58 L548.34,166.75 L549.78,167.20Z M549.65,185.29 L551.72,184.93 L553.24,184.37 L554.58,184.16 L555.82,184.26 L556.96,184.50 L558.01,184.81 L558.98,185.17 L559.87,185.59 L560.68,186.05 L561.41,186.57 L562.05,187.14 L562.62,187.76 L563.10,188.43 L563.49,189.16 L563.80,189.95 L564.02,190.81 L564.16,191.78 L564.20,193.10 L564.16,194.42 L564.02,195.39 L563.80,196.25 L563.49,197.04 L563.10,197.77 L562.62,198.44 L562.05,199.06 L561.41,199.63 L560.68,200.15 L559.87,200.61 L558.98,201.03 L558.01,201.39 L556.96,201.70 L555.82,201.95 L554.58,202.12 L553.24,202.09 L551.72,201.74 L549.65,201.47 L547.58,201.74 L546.06,202.09 L544.72,202.12 L543.48,201.95 L542.34,201.70 L541.29,201.39 L540.32,201.03 L539.43,200.61 L538.62,200.15 L537.89,199.63 L537.25,199.06 L536.68,198.44 L536.20,197.77 L535.81,197.04 L535.50,196.25 L535.28,195.39 L535.14,194.42 L535.10,193.10 L535.14,191.78 L535.28,190.81 L535.50,189.95 L535.81,189.16 L536.20,188.43 L536.68,187.76 L537.25,187.14 L537.89,186.57 L538.62,186.05 L539.43,185.59 L540.32,185.17 L541.29,184.81 L542.34,184.50 L543.48,184.26 L544.72,184.16 L546.06,184.37 L547.58,184.93Z M548.00,205.49 L550.23,205.13 L551.87,204.57 L553.32,204.36 L554.65,204.46 L555.88,204.70 L557.02,205.01 L558.06,205.37 L559.02,205.79 L559.90,206.25 L560.69,206.77 L561.38,207.34 L561.99,207.96 L562.51,208.63 L562.94,209.36 L563.27,210.15 L563.51,211.01 L563.65,211.98 L563.70,213.30 L563.65,214.62 L563.51,215.59 L563.27,216.45 L562.94,217.24 L562.51,217.97 L561.99,218.64 L561.38,219.26 L560.69,219.83 L559.90,220.35 L559.02,220.81 L558.06,221.23 L557.02,221.59 L555.88,221.90 L554.65,222.15 L553.32,222.32 L551.87,222.29 L550.23,221.94 L548.00,221.67 L545.77,221.94 L544.13,222.29 L542.68,222.32 L541.35,222.15 L540.12,221.90 L538.98,221.59 L537.94,221.23 L536.98,220.81 L536.10,220.35 L535.31,219.83 L534.62,219.26 L534.01,218.64 L533.49,217.97 L533.06,217.24 L532.73,216.45 L532.49,215.59 L532.35,214.62 L532.30,213.30 L532.35,211.98 L532.49,211.01 L532.73,210.15 L533.06,209.36 L533.49,208.63 L534.01,207.96 L534.62,207.34 L535.31,206.77 L536.10,206.25 L536.98,205.79 L537.94,205.37 L538.98,205.01 L540.12,204.70 L541.35,204.46 L542.68,204.36 L544.13,204.57 L545.77,205.13Z M547.60,225.99 L549.77,225.66 L551.37,225.13 L552.79,224.93 L554.09,225.03 L555.28,225.26 L556.39,225.55 L557.41,225.88 L558.34,226.27 L559.20,226.71 L559.96,227.19 L560.64,227.72 L561.24,228.30 L561.74,228.93 L562.16,229.61 L562.48,230.35 L562.71,231.16 L562.85,232.06 L562.90,233.30 L562.85,234.54 L562.71,235.44 L562.48,236.25 L562.16,236.99 L561.74,237.67 L561.24,238.30 L560.64,238.88 L559.96,239.41 L559.20,239.89 L558.34,240.33 L557.41,240.72 L556.39,241.05 L555.28,241.34 L554.09,241.58 L552.79,241.74 L551.37,241.71 L549.77,241.38 L547.60,241.13 L545.43,241.38 L543.83,241.71 L542.41,241.74 L541.11,241.58 L539.92,241.34 L538.81,241.05 L537.79,240.72 L536.86,240.33 L536.00,239.89 L535.24,239.41 L534.56,238.88 L533.96,238.30 L533.46,237.67 L533.04,236.99 L532.72,236.25 L532.49,235.44 L532.35,234.54 L532.30,233.30 L532.35,232.06 L532.49,231.16 L532.72,230.35 L533.04,229.61 L533.46,228.93 L533.96,228.30 L534.56,227.72 L535.24,227.19 L536.00,226.71 L536.86,226.27 L537.79,225.88 L538.81,225.55 L539.92,225.26 L541.11,225.03 L542.41,224.93 L543.83,225.13 L545.43,225.66Z M546.90,246.20 L548.77,245.87 L550.15,245.33 L551.38,245.14 L552.50,245.24 L553.53,245.46 L554.48,245.75 L555.36,246.09 L556.17,246.48 L556.90,246.92 L557.57,247.41 L558.15,247.94 L558.67,248.52 L559.10,249.16 L559.46,249.84 L559.74,250.58 L559.94,251.39 L560.06,252.31 L560.10,253.55 L560.06,254.79 L559.94,255.71 L559.74,256.52 L559.46,257.26 L559.10,257.94 L558.67,258.58 L558.15,259.16 L557.57,259.69 L556.90,260.18 L556.17,260.62 L555.36,261.01 L554.48,261.35 L553.53,261.64 L552.50,261.87 L551.38,262.03 L550.15,262.01 L548.77,261.68 L546.90,261.43 L545.03,261.68 L543.65,262.01 L542.42,262.03 L541.30,261.87 L540.27,261.64 L539.32,261.35 L538.44,261.01 L537.63,260.62 L536.90,260.18 L536.23,259.69 L535.65,259.16 L535.13,258.58 L534.70,257.94 L534.34,257.26 L534.06,256.52 L533.86,255.71 L533.74,254.79 L533.70,253.55 L533.74,252.31 L533.86,251.39 L534.06,250.58 L534.34,249.84 L534.70,249.16 L535.13,248.52 L535.65,247.94 L536.23,247.41 L536.90,246.92 L537.63,246.48 L538.44,246.09 L539.32,245.75 L540.27,245.46 L541.30,245.24 L542.42,245.14 L543.65,245.33 L545.03,245.87Z M546.90,266.29 L548.58,266.01 L549.81,265.55 L550.90,265.39 L551.90,265.47 L552.82,265.66 L553.68,265.91 L554.46,266.20 L555.19,266.53 L555.84,266.90 L556.43,267.32 L556.96,267.77 L557.42,268.27 L557.81,268.81 L558.13,269.39 L558.38,270.02 L558.56,270.71 L558.66,271.49 L558.70,272.55 L558.66,273.61 L558.56,274.39 L558.38,275.08 L558.13,275.71 L557.81,276.29 L557.42,276.83 L556.96,277.33 L556.43,277.78 L555.84,278.20 L555.19,278.57 L554.46,278.90 L553.68,279.19 L552.82,279.44 L551.90,279.64 L550.90,279.77 L549.81,279.75 L548.58,279.47 L546.90,279.25 L545.22,279.47 L543.99,279.75 L542.90,279.77 L541.90,279.64 L540.98,279.44 L540.12,279.19 L539.34,278.90 L538.61,278.57 L537.96,278.20 L537.37,277.78 L536.84,277.33 L536.38,276.83 L535.99,276.29 L535.67,275.71 L535.42,275.08 L535.24,274.39 L535.14,273.61 L535.10,272.55 L535.14,271.49 L535.24,270.71 L535.42,270.02 L535.67,269.39 L535.99,268.81 L536.38,268.27 L536.84,267.77 L537.37,267.32 L537.96,266.90 L538.61,266.53 L539.34,266.20 L540.12,265.91 L540.98,265.66 L541.90,265.47 L542.90,265.39 L543.99,265.55 L545.22,266.01Z M585.45,169.95 L587.47,169.60 L588.96,169.05 L590.28,168.85 L591.49,168.95 L592.60,169.19 L593.63,169.48 L594.58,169.83 L595.46,170.24 L596.25,170.69 L596.96,171.20 L597.60,171.75 L598.15,172.35 L598.62,173.01 L599.01,173.71 L599.31,174.48 L599.53,175.32 L599.66,176.27 L599.70,177.55 L599.66,178.83 L599.53,179.78 L599.31,180.62 L599.01,181.39 L598.62,182.09 L598.15,182.75 L597.60,183.35 L596.96,183.90 L596.25,184.41 L595.46,184.86 L594.58,185.27 L593.63,185.62 L592.60,185.92 L591.49,186.16 L590.28,186.33 L588.96,186.30 L587.47,185.96 L585.45,185.70 L583.43,185.96 L581.94,186.30 L580.62,186.33 L579.41,186.16 L578.30,185.92 L577.27,185.62 L576.32,185.27 L575.44,184.86 L574.65,184.41 L573.94,183.90 L573.30,183.35 L572.75,182.75 L572.28,182.09 L571.89,181.39 L571.59,180.62 L571.37,179.78 L571.24,178.83 L571.20,177.55 L571.24,176.27 L571.37,175.32 L571.59,174.48 L571.89,173.71 L572.28,173.01 L572.75,172.35 L573.30,171.75 L573.94,171.20 L574.65,170.69 L575.44,170.24 L576.32,169.83 L577.27,169.48 L578.30,169.19 L579.41,168.95 L580.62,168.85 L581.94,169.05 L583.43,169.60Z M585.45,190.84 L587.47,190.50 L588.96,189.95 L590.28,189.75 L591.49,189.85 L592.60,190.08 L593.63,190.38 L594.58,190.73 L595.46,191.13 L596.25,191.58 L596.96,192.08 L597.60,192.63 L598.15,193.23 L598.62,193.88 L599.01,194.59 L599.31,195.35 L599.53,196.18 L599.66,197.12 L599.70,198.40 L599.66,199.68 L599.53,200.62 L599.31,201.45 L599.01,202.21 L598.62,202.92 L598.15,203.57 L597.60,204.17 L596.96,204.72 L596.25,205.22 L595.46,205.67 L594.58,206.07 L593.63,206.42 L592.60,206.72 L591.49,206.96 L590.28,207.13 L588.96,207.10 L587.47,206.76 L585.45,206.50 L583.43,206.76 L581.94,207.10 L580.62,207.13 L579.41,206.96 L578.30,206.72 L577.27,206.42 L576.32,206.07 L575.44,205.67 L574.65,205.22 L573.94,204.72 L573.30,204.17 L572.75,203.57 L572.28,202.92 L571.89,202.21 L571.59,201.45 L571.37,200.62 L571.24,199.68 L571.20,198.40 L571.24,197.12 L571.37,196.18 L571.59,195.35 L571.89,194.59 L572.28,193.88 L572.75,193.23 L573.30,192.63 L573.94,192.08 L574.65,191.58 L575.44,191.13 L576.32,190.73 L577.27,190.38 L578.30,190.08 L579.41,189.85 L580.62,189.75 L581.94,189.95 L583.43,190.50Z M585.45,210.19 L587.36,209.86 L588.76,209.33 L590.01,209.13 L591.15,209.23 L592.20,209.46 L593.17,209.75 L594.07,210.08 L594.89,210.47 L595.64,210.91 L596.32,211.39 L596.92,211.92 L597.44,212.50 L597.88,213.13 L598.25,213.81 L598.53,214.55 L598.74,215.36 L598.86,216.26 L598.90,217.50 L598.86,218.74 L598.74,219.64 L598.53,220.45 L598.25,221.19 L597.88,221.87 L597.44,222.50 L596.92,223.08 L596.32,223.61 L595.64,224.09 L594.89,224.53 L594.07,224.92 L593.17,225.25 L592.20,225.54 L591.15,225.78 L590.01,225.94 L588.76,225.91 L587.36,225.58 L585.45,225.33 L583.54,225.58 L582.14,225.91 L580.89,225.94 L579.75,225.78 L578.70,225.54 L577.73,225.25 L576.83,224.92 L576.01,224.53 L575.26,224.09 L574.58,223.61 L573.98,223.08 L573.46,222.50 L573.02,221.87 L572.65,221.19 L572.37,220.45 L572.16,219.64 L572.04,218.74 L572.00,217.50 L572.04,216.26 L572.16,215.36 L572.37,214.55 L572.65,213.81 L573.02,213.13 L573.46,212.50 L573.98,211.92 L574.58,211.39 L575.26,210.91 L576.01,210.47 L576.83,210.08 L577.73,209.75 L578.70,209.46 L579.75,209.23 L580.89,209.13 L582.14,209.33 L583.54,209.86Z M585.75,231.04 L587.62,230.70 L588.99,230.15 L590.21,229.95 L591.32,230.05 L592.35,230.28 L593.30,230.58 L594.18,230.93 L594.98,231.33 L595.72,231.78 L596.37,232.28 L596.96,232.83 L597.47,233.43 L597.90,234.08 L598.26,234.79 L598.54,235.55 L598.74,236.38 L598.86,237.32 L598.90,238.60 L598.86,239.88 L598.74,240.82 L598.54,241.65 L598.26,242.41 L597.90,243.12 L597.47,243.77 L596.96,244.37 L596.37,244.92 L595.72,245.42 L594.98,245.87 L594.18,246.27 L593.30,246.62 L592.35,246.92 L591.32,247.16 L590.21,247.33 L588.99,247.30 L587.62,246.96 L585.75,246.70 L583.88,246.96 L582.51,247.30 L581.29,247.33 L580.18,247.16 L579.15,246.92 L578.20,246.62 L577.32,246.27 L576.52,245.87 L575.78,245.42 L575.13,244.92 L574.54,244.37 L574.03,243.77 L573.60,243.12 L573.24,242.41 L572.96,241.65 L572.76,240.82 L572.64,239.88 L572.60,238.60 L572.64,237.32 L572.76,236.38 L572.96,235.55 L573.24,234.79 L573.60,234.08 L574.03,233.43 L574.54,232.83 L575.13,232.28 L575.78,231.78 L576.52,231.33 L577.32,230.93 L578.20,230.58 L579.15,230.28 L580.18,230.05 L581.29,229.95 L582.51,230.15 L583.88,230.70Z M586.45,250.68 L588.22,250.40 L589.52,249.95 L590.67,249.78 L591.73,249.87 L592.70,250.06 L593.60,250.30 L594.43,250.58 L595.19,250.91 L595.89,251.28 L596.51,251.69 L597.06,252.14 L597.55,252.63 L597.96,253.16 L598.30,253.73 L598.56,254.36 L598.75,255.04 L598.86,255.81 L598.90,256.85 L598.86,257.89 L598.75,258.66 L598.56,259.34 L598.30,259.97 L597.96,260.54 L597.55,261.07 L597.06,261.56 L596.51,262.01 L595.89,262.42 L595.19,262.79 L594.43,263.12 L593.60,263.40 L592.70,263.64 L591.73,263.84 L590.67,263.98 L589.52,263.96 L588.22,263.68 L586.45,263.47 L584.68,263.68 L583.38,263.96 L582.23,263.98 L581.17,263.84 L580.20,263.64 L579.30,263.40 L578.47,263.12 L577.71,262.79 L577.01,262.42 L576.39,262.01 L575.84,261.56 L575.35,261.07 L574.94,260.54 L574.60,259.97 L574.34,259.34 L574.15,258.66 L574.04,257.89 L574.00,256.85 L574.04,255.81 L574.15,255.04 L574.34,254.36 L574.60,253.73 L574.94,253.16 L575.35,252.63 L575.84,252.14 L576.39,251.69 L577.01,251.28 L577.71,250.91 L578.47,250.58 L579.30,250.30 L580.20,250.06 L581.17,249.87 L582.23,249.78 L583.38,249.95 L584.68,250.40Z M586.40,268.94 L587.98,268.69 L589.14,268.30 L590.16,268.15 L591.11,268.22 L591.97,268.39 L592.78,268.61 L593.52,268.86 L594.19,269.15 L594.81,269.47 L595.37,269.84 L595.86,270.23 L596.29,270.67 L596.66,271.14 L596.96,271.64 L597.20,272.20 L597.36,272.80 L597.47,273.48 L597.50,274.40 L597.47,275.32 L597.36,276.00 L597.20,276.60 L596.96,277.16 L596.66,277.66 L596.29,278.13 L595.86,278.57 L595.37,278.96 L594.81,279.33 L594.19,279.65 L593.52,279.94 L592.78,280.19 L591.97,280.41 L591.11,280.58 L590.16,280.70 L589.14,280.68 L587.98,280.44 L586.40,280.25 L584.82,280.44 L583.66,280.68 L582.64,280.70 L581.69,280.58 L580.83,280.41 L580.02,280.19 L579.28,279.94 L578.61,279.65 L577.99,279.33 L577.43,278.96 L576.94,278.57 L576.51,278.13 L576.14,277.66 L575.84,277.16 L575.60,276.60 L575.44,276.00 L575.33,275.32 L575.30,274.40 L575.33,273.48 L575.44,272.80 L575.60,272.20 L575.84,271.64 L576.14,271.14 L576.51,270.67 L576.94,270.23 L577.43,269.84 L577.99,269.47 L578.61,269.15 L579.28,268.86 L580.02,268.61 L580.83,268.39 L581.69,268.22 L582.64,268.15 L583.66,268.30 L584.82,268.69Z" fill="#c81422"/>
<g clip-path="url(#brains)">
<ellipse cx="440.80" cy="175.90" rx="8.57" ry="5.02" fill="#e04a58" opacity="0.45" filter="url(#bl2)"/>
<path d="M432.95,179.86 C430.98,174.84 434.52,170.13 439.85,173.47 M448.65,179.86 C450.62,174.84 447.08,170.13 441.75,173.47" fill="none" stroke="#f2a4ac" stroke-width="1.3" opacity="0.75" filter="url(#bl)"/>
<path d="M440.80,169.22 L440.80,181.98" stroke="#a00a16" stroke-width="0.8" opacity="0.3"/>
<ellipse cx="440.00" cy="194.38" rx="9.36" ry="5.51" fill="#e04a58" opacity="0.45" filter="url(#bl2)"/>
<path d="M431.42,198.73 C429.27,193.22 433.14,188.04 438.96,191.71 M448.58,198.73 C450.73,193.22 446.86,188.04 441.04,191.71" fill="none" stroke="#f2a4ac" stroke-width="1.3" opacity="0.75" filter="url(#bl)"/>
<path d="M440.00,187.04 L440.00,201.06" stroke="#a00a16" stroke-width="0.8" opacity="0.3"/>
<ellipse cx="440.90" cy="211.88" rx="9.29" ry="5.51" fill="#e04a58" opacity="0.45" filter="url(#bl2)"/>
<path d="M432.39,216.23 C430.26,210.72 434.09,205.54 439.87,209.21 M449.41,216.23 C451.54,210.72 447.71,205.54 441.93,209.21" fill="none" stroke="#f2a4ac" stroke-width="1.3" opacity="0.75" filter="url(#bl)"/>
<path d="M440.90,204.54 L440.90,218.56" stroke="#a00a16" stroke-width="0.8" opacity="0.3"/>
<ellipse cx="441.35" cy="232.94" rx="9.61" ry="5.68" fill="#e04a58" opacity="0.45" filter="url(#bl2)"/>
<path d="M432.54,237.42 C430.34,231.74 434.30,226.41 440.28,230.19 M450.16,237.42 C452.36,231.74 448.40,226.41 442.42,230.19" fill="none" stroke="#f2a4ac" stroke-width="1.3" opacity="0.75" filter="url(#bl)"/>
<path d="M441.35,225.38 L441.35,239.82" stroke="#a00a16" stroke-width="0.8" opacity="0.3"/>
<ellipse cx="442.60" cy="253.24" rx="9.29" ry="5.68" fill="#e04a58" opacity="0.45" filter="url(#bl2)"/>
<path d="M434.09,257.72 C431.96,252.04 435.79,246.71 441.57,250.49 M451.11,257.72 C453.24,252.04 449.41,246.71 443.63,250.49" fill="none" stroke="#f2a4ac" stroke-width="1.3" opacity="0.75" filter="url(#bl)"/>
<path d="M442.60,245.68 L442.60,260.12" stroke="#a00a16" stroke-width="0.8" opacity="0.3"/>
<ellipse cx="442.60" cy="272.88" rx="8.71" ry="5.51" fill="#e04a58" opacity="0.45" filter="url(#bl2)"/>
<path d="M434.61,277.23 C432.62,271.71 436.21,266.54 441.63,270.21 M450.59,277.23 C452.58,271.71 448.99,266.54 443.57,270.21" fill="none" stroke="#f2a4ac" stroke-width="1.3" opacity="0.75" filter="url(#bl)"/>
<path d="M442.60,265.54 L442.60,279.56" stroke="#a00a16" stroke-width="0.8" opacity="0.3"/>
<ellipse cx="478.25" cy="176.22" rx="9.97" ry="5.21" fill="#e04a58" opacity="0.45" filter="url(#bl2)"/>
<path d="M469.11,180.32 C466.82,175.11 470.94,170.21 477.14,173.69 M487.39,180.32 C489.68,175.11 485.56,170.21 479.36,173.69" fill="none" stroke="#f2a4ac" stroke-width="1.3" opacity="0.75" filter="url(#bl)"/>
<path d="M478.25,169.26 L478.25,182.54" stroke="#a00a16" stroke-width="0.8" opacity="0.3"/>
<ellipse cx="478.25" cy="193.83" rx="9.97" ry="5.48" fill="#e04a58" opacity="0.45" filter="url(#bl2)"/>
<path d="M469.11,198.15 C466.82,192.67 470.94,187.52 477.14,191.18 M487.39,198.15 C489.68,192.67 485.56,187.52 479.36,191.18" fill="none" stroke="#f2a4ac" stroke-width="1.3" opacity="0.75" filter="url(#bl)"/>
<path d="M478.25,186.53 L478.25,200.47" stroke="#a00a16" stroke-width="0.8" opacity="0.3"/>
<ellipse cx="478.50" cy="214.25" rx="10.15" ry="5.74" fill="#e04a58" opacity="0.45" filter="url(#bl2)"/>
<path d="M469.19,218.77 C466.87,213.03 471.06,207.64 477.37,211.46 M487.81,218.77 C490.13,213.03 485.94,207.64 479.63,211.46" fill="none" stroke="#f2a4ac" stroke-width="1.3" opacity="0.75" filter="url(#bl)"/>
<path d="M478.50,206.59 L478.50,221.21" stroke="#a00a16" stroke-width="0.8" opacity="0.3"/>
<ellipse cx="479.20" cy="234.50" rx="9.65" ry="5.78" fill="#e04a58" opacity="0.45" filter="url(#bl2)"/>
<path d="M470.36,239.05 C468.15,233.28 472.12,227.85 478.13,231.70 M488.04,239.05 C490.26,233.28 486.28,227.85 480.27,231.70" fill="none" stroke="#f2a4ac" stroke-width="1.3" opacity="0.75" filter="url(#bl)"/>
<path d="M479.20,226.80 L479.20,241.50" stroke="#a00a16" stroke-width="0.8" opacity="0.3"/>
<ellipse cx="478.95" cy="253.48" rx="9.47" ry="5.51" fill="#e04a58" opacity="0.45" filter="url(#bl2)"/>
<path d="M470.27,257.83 C468.10,252.31 472.01,247.14 477.90,250.81 M487.63,257.83 C489.80,252.31 485.89,247.14 480.00,250.81" fill="none" stroke="#f2a4ac" stroke-width="1.3" opacity="0.75" filter="url(#bl)"/>
<path d="M478.95,246.14 L478.95,260.16" stroke="#a00a16" stroke-width="0.8" opacity="0.3"/>
<ellipse cx="480.30" cy="272.80" rx="8.50" ry="4.95" fill="#e04a58" opacity="0.45" filter="url(#bl2)"/>
<path d="M472.51,276.70 C470.56,271.75 474.07,267.10 479.36,270.40 M488.09,276.70 C490.04,271.75 486.53,267.10 481.24,270.40" fill="none" stroke="#f2a4ac" stroke-width="1.3" opacity="0.75" filter="url(#bl)"/>
<path d="M480.30,266.20 L480.30,278.80" stroke="#a00a16" stroke-width="0.8" opacity="0.3"/>
<ellipse cx="512.90" cy="174.84" rx="10.01" ry="4.85" fill="#e04a58" opacity="0.45" filter="url(#bl2)"/>
<path d="M503.73,178.67 C501.43,173.81 505.56,169.26 511.79,172.49 M522.07,178.67 C524.37,173.81 520.24,169.26 514.01,172.49" fill="none" stroke="#f2a4ac" stroke-width="1.3" opacity="0.75" filter="url(#bl)"/>
<path d="M512.90,168.38 L512.90,180.72" stroke="#a00a16" stroke-width="0.8" opacity="0.3"/>
<ellipse cx="512.95" cy="193.57" rx="10.98" ry="5.31" fill="#e04a58" opacity="0.45" filter="url(#bl2)"/>
<path d="M502.89,197.76 C500.37,192.44 504.90,187.45 511.73,191.00 M523.02,197.76 C525.53,192.44 521.00,187.45 514.17,191.00" fill="none" stroke="#f2a4ac" stroke-width="1.3" opacity="0.75" filter="url(#bl)"/>
<path d="M512.95,186.49 L512.95,200.01" stroke="#a00a16" stroke-width="0.8" opacity="0.3"/>
<ellipse cx="512.50" cy="213.54" rx="10.30" ry="5.68" fill="#e04a58" opacity="0.45" filter="url(#bl2)"/>
<path d="M503.06,218.02 C500.70,212.34 504.95,207.01 511.36,210.79 M521.94,218.02 C524.30,212.34 520.05,207.01 513.64,210.79" fill="none" stroke="#f2a4ac" stroke-width="1.3" opacity="0.75" filter="url(#bl)"/>
<path d="M512.50,205.98 L512.50,220.42" stroke="#a00a16" stroke-width="0.8" opacity="0.3"/>
<ellipse cx="514.30" cy="234.03" rx="10.01" ry="5.48" fill="#e04a58" opacity="0.45" filter="url(#bl2)"/>
<path d="M505.13,238.35 C502.83,232.87 506.96,227.72 513.19,231.38 M523.47,238.35 C525.77,232.87 521.64,227.72 515.41,231.38" fill="none" stroke="#f2a4ac" stroke-width="1.3" opacity="0.75" filter="url(#bl)"/>
<path d="M514.30,226.73 L514.30,240.67" stroke="#a00a16" stroke-width="0.8" opacity="0.3"/>
<ellipse cx="511.55" cy="254.88" rx="9.97" ry="5.51" fill="#e04a58" opacity="0.45" filter="url(#bl2)"/>
<path d="M502.41,259.23 C500.12,253.71 504.24,248.54 510.44,252.21 M520.69,259.23 C522.98,253.71 518.86,248.54 512.66,252.21" fill="none" stroke="#f2a4ac" stroke-width="1.3" opacity="0.75" filter="url(#bl)"/>
<path d="M511.55,247.54 L511.55,261.56" stroke="#a00a16" stroke-width="0.8" opacity="0.3"/>
<ellipse cx="509.45" cy="274.23" rx="8.46" ry="4.59" fill="#e04a58" opacity="0.45" filter="url(#bl2)"/>
<path d="M501.70,277.84 C499.76,273.25 503.25,268.95 508.51,272.00 M517.21,277.84 C519.14,273.25 515.65,268.95 510.39,272.00" fill="none" stroke="#f2a4ac" stroke-width="1.3" opacity="0.75" filter="url(#bl)"/>
<path d="M509.45,268.11 L509.45,279.79" stroke="#a00a16" stroke-width="0.8" opacity="0.3"/>
<ellipse cx="551.75" cy="173.94" rx="9.97" ry="4.85" fill="#e04a58" opacity="0.45" filter="url(#bl2)"/>
<path d="M542.61,177.77 C540.32,172.92 544.44,168.36 550.64,171.59 M560.89,177.77 C563.18,172.92 559.06,168.36 552.86,171.59" fill="none" stroke="#f2a4ac" stroke-width="1.3" opacity="0.75" filter="url(#bl)"/>
<path d="M551.75,167.48 L551.75,179.82" stroke="#a00a16" stroke-width="0.8" opacity="0.3"/>
<ellipse cx="549.65" cy="193.47" rx="10.48" ry="6.14" fill="#e04a58" opacity="0.45" filter="url(#bl2)"/>
<path d="M540.05,198.31 C537.65,192.17 541.97,186.40 548.49,190.50 M559.25,198.31 C561.65,192.17 557.33,186.40 550.81,190.50" fill="none" stroke="#f2a4ac" stroke-width="1.3" opacity="0.75" filter="url(#bl)"/>
<path d="M549.65,185.29 L549.65,200.91" stroke="#a00a16" stroke-width="0.8" opacity="0.3"/>
<ellipse cx="548.00" cy="213.67" rx="11.30" ry="6.14" fill="#e04a58" opacity="0.45" filter="url(#bl2)"/>
<path d="M537.64,218.51 C535.05,212.37 539.71,206.60 546.74,210.70 M558.36,218.51 C560.95,212.37 556.29,206.60 549.26,210.70" fill="none" stroke="#f2a4ac" stroke-width="1.3" opacity="0.75" filter="url(#bl)"/>
<path d="M548.00,205.49 L548.00,221.11" stroke="#a00a16" stroke-width="0.8" opacity="0.3"/>
<ellipse cx="547.60" cy="233.65" rx="11.02" ry="5.74" fill="#e04a58" opacity="0.45" filter="url(#bl2)"/>
<path d="M537.50,238.17 C534.98,232.43 539.52,227.04 546.38,230.86 M557.70,238.17 C560.22,232.43 555.68,227.04 548.82,230.86" fill="none" stroke="#f2a4ac" stroke-width="1.3" opacity="0.75" filter="url(#bl)"/>
<path d="M547.60,225.99 L547.60,240.61" stroke="#a00a16" stroke-width="0.8" opacity="0.3"/>
<ellipse cx="546.90" cy="253.90" rx="9.50" ry="5.78" fill="#e04a58" opacity="0.45" filter="url(#bl2)"/>
<path d="M538.19,258.45 C536.01,252.68 539.93,247.25 545.84,251.10 M555.61,258.45 C557.79,252.68 553.87,247.25 547.96,251.10" fill="none" stroke="#f2a4ac" stroke-width="1.3" opacity="0.75" filter="url(#bl)"/>
<path d="M546.90,246.20 L546.90,260.90" stroke="#a00a16" stroke-width="0.8" opacity="0.3"/>
<ellipse cx="546.90" cy="272.85" rx="8.50" ry="4.92" fill="#e04a58" opacity="0.45" filter="url(#bl2)"/>
<path d="M539.11,276.72 C537.17,271.81 540.67,267.19 545.96,270.46 M554.69,276.72 C556.64,271.81 553.13,267.19 547.84,270.46" fill="none" stroke="#f2a4ac" stroke-width="1.3" opacity="0.75" filter="url(#bl)"/>
<path d="M546.90,266.29 L546.90,278.81" stroke="#a00a16" stroke-width="0.8" opacity="0.3"/>
<ellipse cx="585.45" cy="177.91" rx="10.26" ry="5.97" fill="#e04a58" opacity="0.45" filter="url(#bl2)"/>
<path d="M576.05,182.62 C573.69,176.65 577.93,171.03 584.31,175.02 M594.86,182.62 C597.21,176.65 592.97,171.03 586.59,175.02" fill="none" stroke="#f2a4ac" stroke-width="1.3" opacity="0.75" filter="url(#bl)"/>
<path d="M585.45,169.95 L585.45,185.15" stroke="#a00a16" stroke-width="0.8" opacity="0.3"/>
<ellipse cx="585.45" cy="198.76" rx="10.26" ry="5.94" fill="#e04a58" opacity="0.45" filter="url(#bl2)"/>
<path d="M576.05,203.44 C573.69,197.50 577.93,191.92 584.31,195.88 M594.86,203.44 C597.21,197.50 592.97,191.92 586.59,195.88" fill="none" stroke="#f2a4ac" stroke-width="1.3" opacity="0.75" filter="url(#bl)"/>
<path d="M585.45,190.84 L585.45,205.96" stroke="#a00a16" stroke-width="0.8" opacity="0.3"/>
<ellipse cx="585.45" cy="217.85" rx="9.68" ry="5.74" fill="#e04a58" opacity="0.45" filter="url(#bl2)"/>
<path d="M576.57,222.37 C574.35,216.63 578.35,211.24 584.37,215.06 M594.33,222.37 C596.55,216.63 592.55,211.24 586.53,215.06" fill="none" stroke="#f2a4ac" stroke-width="1.3" opacity="0.75" filter="url(#bl)"/>
<path d="M585.45,210.19 L585.45,224.81" stroke="#a00a16" stroke-width="0.8" opacity="0.3"/>
<ellipse cx="585.75" cy="238.96" rx="9.47" ry="5.94" fill="#e04a58" opacity="0.45" filter="url(#bl2)"/>
<path d="M577.07,243.64 C574.90,237.70 578.81,232.12 584.70,236.08 M594.43,243.64 C596.60,237.70 592.69,232.12 586.80,236.08" fill="none" stroke="#f2a4ac" stroke-width="1.3" opacity="0.75" filter="url(#bl)"/>
<path d="M585.75,231.04 L585.75,246.16" stroke="#a00a16" stroke-width="0.8" opacity="0.3"/>
<ellipse cx="586.45" cy="257.14" rx="8.96" ry="4.85" fill="#e04a58" opacity="0.45" filter="url(#bl2)"/>
<path d="M578.23,260.97 C576.18,256.12 579.88,251.56 585.45,254.79 M594.67,260.97 C596.72,256.12 593.02,251.56 587.45,254.79" fill="none" stroke="#f2a4ac" stroke-width="1.3" opacity="0.75" filter="url(#bl)"/>
<path d="M586.45,250.68 L586.45,263.02" stroke="#a00a16" stroke-width="0.8" opacity="0.3"/>
<ellipse cx="586.40" cy="274.66" rx="7.99" ry="4.29" fill="#e04a58" opacity="0.45" filter="url(#bl2)"/>
<path d="M579.07,278.04 C577.24,273.75 580.54,269.72 585.51,272.58 M593.73,278.04 C595.56,273.75 592.26,269.72 587.29,272.58" fill="none" stroke="#f2a4ac" stroke-width="1.3" opacity="0.75" filter="url(#bl)"/>
<path d="M586.40,268.94 L586.40,279.86" stroke="#a00a16" stroke-width="0.8" opacity="0.3"/>
</g>
<clipPath id="bc7"><path d="M478.25,169.26 L480.22,168.96 L481.66,168.48 L482.95,168.30 L484.12,168.39 L485.20,168.60 L486.20,168.86 L487.13,169.17 L487.98,169.52 L488.75,169.91 L489.44,170.35 L490.06,170.84 L490.59,171.36 L491.05,171.93 L491.43,172.55 L491.72,173.22 L491.93,173.95 L492.06,174.78 L492.10,175.90 L492.06,177.02 L491.93,177.85 L491.72,178.58 L491.43,179.25 L491.05,179.87 L490.59,180.44 L490.06,180.96 L489.44,181.45 L488.75,181.89 L487.98,182.28 L487.13,182.63 L486.20,182.94 L485.20,183.20 L484.12,183.41 L482.95,183.56 L481.66,183.54 L480.22,183.24 L478.25,183.01 L476.28,183.24 L474.84,183.54 L473.55,183.56 L472.38,183.41 L471.30,183.20 L470.30,182.94 L469.37,182.63 L468.52,182.28 L467.75,181.89 L467.06,181.45 L466.44,180.96 L465.91,180.44 L465.45,179.87 L465.07,179.25 L464.78,178.58 L464.57,177.85 L464.44,177.02 L464.40,175.90 L464.44,174.78 L464.57,173.95 L464.78,173.22 L465.07,172.55 L465.45,171.93 L465.91,171.36 L466.44,170.84 L467.06,170.35 L467.75,169.91 L468.52,169.52 L469.37,169.17 L470.30,168.86 L471.30,168.60 L472.38,168.39 L473.55,168.30 L474.84,168.48 L476.28,168.96Z"/></clipPath><g clip-path="url(#bc7)">
<path d="M486.01,164.84 Q482.96,175.90 485.45,186.96 L505.95,186.96 L505.95,164.84Z" fill="#e6dfc0" filter="url(#bl4)" opacity="0.88"/>
</g>
<clipPath id="bc8"><path d="M478.25,186.53 L480.22,186.21 L481.66,185.71 L482.95,185.52 L484.12,185.61 L485.20,185.83 L486.20,186.10 L487.13,186.42 L487.98,186.79 L488.75,187.21 L489.44,187.67 L490.06,188.18 L490.59,188.73 L491.05,189.33 L491.43,189.98 L491.72,190.69 L491.93,191.45 L492.06,192.32 L492.10,193.50 L492.06,194.68 L491.93,195.55 L491.72,196.31 L491.43,197.02 L491.05,197.67 L490.59,198.27 L490.06,198.82 L489.44,199.33 L488.75,199.79 L487.98,200.21 L487.13,200.58 L486.20,200.90 L485.20,201.17 L484.12,201.40 L482.95,201.55 L481.66,201.52 L480.22,201.21 L478.25,200.97 L476.28,201.21 L474.84,201.52 L473.55,201.55 L472.38,201.40 L471.30,201.17 L470.30,200.90 L469.37,200.58 L468.52,200.21 L467.75,199.79 L467.06,199.33 L466.44,198.82 L465.91,198.27 L465.45,197.67 L465.07,197.02 L464.78,196.31 L464.57,195.55 L464.44,194.68 L464.40,193.50 L464.44,192.32 L464.57,191.45 L464.78,190.69 L465.07,189.98 L465.45,189.33 L465.91,188.73 L466.44,188.18 L467.06,187.67 L467.75,187.21 L468.52,186.79 L469.37,186.42 L470.30,186.10 L471.30,185.83 L472.38,185.61 L473.55,185.52 L474.84,185.71 L476.28,186.21Z"/></clipPath><g clip-path="url(#bc8)">
<path d="M482.68,181.88 Q479.63,193.50 482.13,205.12 L505.95,205.12 L505.95,181.88Z" fill="#e6dfc0" filter="url(#bl4)" opacity="0.88"/>
</g>
<clipPath id="bc9"><path d="M478.50,206.59 L480.50,206.26 L481.98,205.73 L483.28,205.53 L484.48,205.63 L485.58,205.86 L486.60,206.15 L487.54,206.48 L488.40,206.87 L489.19,207.31 L489.89,207.79 L490.52,208.32 L491.07,208.90 L491.53,209.53 L491.92,210.21 L492.21,210.95 L492.43,211.76 L492.56,212.66 L492.60,213.90 L492.56,215.14 L492.43,216.04 L492.21,216.85 L491.92,217.59 L491.53,218.27 L491.07,218.90 L490.52,219.48 L489.89,220.01 L489.19,220.49 L488.40,220.93 L487.54,221.32 L486.60,221.65 L485.58,221.94 L484.48,222.18 L483.28,222.34 L481.98,222.31 L480.50,221.98 L478.50,221.73 L476.50,221.98 L475.02,222.31 L473.72,222.34 L472.52,222.18 L471.42,221.94 L470.40,221.65 L469.46,221.32 L468.60,220.93 L467.81,220.49 L467.11,220.01 L466.48,219.48 L465.93,218.90 L465.47,218.27 L465.08,217.59 L464.79,216.85 L464.57,216.04 L464.44,215.14 L464.40,213.90 L464.44,212.66 L464.57,211.76 L464.79,210.95 L465.08,210.21 L465.47,209.53 L465.93,208.90 L466.48,208.32 L467.11,207.79 L467.81,207.31 L468.60,206.87 L469.46,206.48 L470.40,206.15 L471.42,205.86 L472.52,205.63 L473.72,205.53 L475.02,205.73 L476.50,206.26Z"/></clipPath><g clip-path="url(#bc9)">
<path d="M483.86,201.72 Q480.76,213.90 483.29,226.08 L506.70,226.08 L506.70,201.72Z" fill="#e6dfc0" filter="url(#bl4)" opacity="0.88"/>
</g>
<clipPath id="bc10"><path d="M479.20,226.80 L481.10,226.47 L482.50,225.93 L483.74,225.74 L484.88,225.84 L485.93,226.06 L486.90,226.35 L487.79,226.69 L488.61,227.08 L489.36,227.52 L490.03,228.01 L490.62,228.54 L491.14,229.12 L491.59,229.76 L491.95,230.44 L492.23,231.18 L492.44,231.99 L492.56,232.91 L492.60,234.15 L492.56,235.39 L492.44,236.31 L492.23,237.12 L491.95,237.86 L491.59,238.54 L491.14,239.18 L490.62,239.76 L490.03,240.29 L489.36,240.78 L488.61,241.22 L487.79,241.61 L486.90,241.95 L485.93,242.24 L484.88,242.47 L483.74,242.63 L482.50,242.61 L481.10,242.28 L479.20,242.03 L477.30,242.28 L475.90,242.61 L474.66,242.63 L473.52,242.47 L472.47,242.24 L471.50,241.95 L470.61,241.61 L469.79,241.22 L469.04,240.78 L468.37,240.29 L467.78,239.76 L467.26,239.18 L466.81,238.54 L466.45,237.86 L466.17,237.12 L465.96,236.31 L465.84,235.39 L465.80,234.15 L465.84,232.91 L465.96,231.99 L466.17,231.18 L466.45,230.44 L466.81,229.76 L467.26,229.12 L467.78,228.54 L468.37,228.01 L469.04,227.52 L469.79,227.08 L470.61,226.69 L471.50,226.35 L472.47,226.06 L473.52,225.84 L474.66,225.74 L475.90,225.93 L477.30,226.47Z"/></clipPath><g clip-path="url(#bc10)">
<path d="M484.29,221.90 Q481.34,234.15 483.76,246.40 L506.00,246.40 L506.00,221.90Z" fill="#e6dfc0" filter="url(#bl4)" opacity="0.88"/>
</g>
<clipPath id="bc11"><path d="M478.95,246.14 L480.82,245.82 L482.19,245.31 L483.41,245.12 L484.52,245.22 L485.55,245.43 L486.50,245.71 L487.38,246.03 L488.18,246.40 L488.92,246.82 L489.57,247.29 L490.16,247.80 L490.67,248.35 L491.10,248.96 L491.46,249.61 L491.74,250.32 L491.94,251.09 L492.06,251.96 L492.10,253.15 L492.06,254.34 L491.94,255.21 L491.74,255.98 L491.46,256.69 L491.10,257.34 L490.67,257.95 L490.16,258.50 L489.57,259.01 L488.92,259.48 L488.18,259.90 L487.38,260.27 L486.50,260.59 L485.55,260.87 L484.52,261.09 L483.41,261.25 L482.19,261.22 L480.82,260.91 L478.95,260.67 L477.08,260.91 L475.71,261.22 L474.49,261.25 L473.38,261.09 L472.35,260.87 L471.40,260.59 L470.52,260.27 L469.72,259.90 L468.98,259.48 L468.33,259.01 L467.74,258.50 L467.23,257.95 L466.80,257.34 L466.44,256.69 L466.16,255.98 L465.96,255.21 L465.84,254.34 L465.80,253.15 L465.84,251.96 L465.96,251.09 L466.16,250.32 L466.44,249.61 L466.80,248.96 L467.23,248.35 L467.74,247.80 L468.33,247.29 L468.98,246.82 L469.72,246.40 L470.52,246.03 L471.40,245.71 L472.35,245.43 L473.38,245.22 L474.49,245.12 L475.71,245.31 L477.08,245.82Z"/></clipPath><g clip-path="url(#bc11)">
<path d="M483.95,241.46 Q481.05,253.15 483.42,264.84 L505.25,264.84 L505.25,241.46Z" fill="#e6dfc0" filter="url(#bl4)" opacity="0.88"/>
</g>
<clipPath id="bc12"><path d="M480.30,266.20 L481.98,265.91 L483.21,265.46 L484.30,265.29 L485.30,265.37 L486.22,265.57 L487.08,265.82 L487.86,266.11 L488.59,266.44 L489.24,266.82 L489.83,267.23 L490.36,267.69 L490.82,268.19 L491.21,268.73 L491.53,269.32 L491.78,269.96 L491.96,270.65 L492.06,271.44 L492.10,272.50 L492.06,273.56 L491.96,274.35 L491.78,275.04 L491.53,275.68 L491.21,276.27 L490.82,276.81 L490.36,277.31 L489.83,277.77 L489.24,278.18 L488.59,278.56 L487.86,278.89 L487.08,279.18 L486.22,279.43 L485.30,279.63 L484.30,279.77 L483.21,279.75 L481.98,279.47 L480.30,279.25 L478.62,279.47 L477.39,279.75 L476.30,279.77 L475.30,279.63 L474.38,279.43 L473.52,279.18 L472.74,278.89 L472.01,278.56 L471.36,278.18 L470.77,277.77 L470.24,277.31 L469.78,276.81 L469.39,276.27 L469.07,275.68 L468.82,275.04 L468.64,274.35 L468.54,273.56 L468.50,272.50 L468.54,271.44 L468.64,270.65 L468.82,269.96 L469.07,269.32 L469.39,268.73 L469.78,268.19 L470.24,267.69 L470.77,267.23 L471.36,266.82 L472.01,266.44 L472.74,266.11 L473.52,265.82 L474.38,265.57 L475.30,265.37 L476.30,265.29 L477.39,265.46 L478.62,265.91Z"/></clipPath><g clip-path="url(#bc12)">
<path d="M486.44,262.00 Q483.84,272.50 485.96,283.00 L503.90,283.00 L503.90,262.00Z" fill="#e6dfc0" filter="url(#bl4)" opacity="0.88"/>
<ellipse cx="478.41" cy="273.70" rx="2.83" ry="3.00" fill="#e6cdb8" filter="url(#bl2)"/>
</g>
<clipPath id="bc13"><path d="M512.90,168.38 L514.87,168.10 L516.33,167.65 L517.61,167.48 L518.79,167.57 L519.88,167.76 L520.88,168.00 L521.81,168.28 L522.66,168.61 L523.43,168.98 L524.13,169.39 L524.75,169.84 L525.29,170.33 L525.75,170.86 L526.13,171.43 L526.42,172.06 L526.63,172.74 L526.76,173.51 L526.80,174.55 L526.76,175.59 L526.63,176.36 L526.42,177.04 L526.13,177.67 L525.75,178.24 L525.29,178.77 L524.75,179.26 L524.13,179.71 L523.43,180.12 L522.66,180.49 L521.81,180.82 L520.88,181.10 L519.88,181.34 L518.79,181.54 L517.61,181.68 L516.33,181.66 L514.87,181.38 L512.90,181.17 L510.93,181.38 L509.47,181.66 L508.19,181.68 L507.01,181.54 L505.92,181.34 L504.92,181.10 L503.99,180.82 L503.14,180.49 L502.37,180.12 L501.67,179.71 L501.05,179.26 L500.51,178.77 L500.05,178.24 L499.67,177.67 L499.38,177.04 L499.17,176.36 L499.04,175.59 L499.00,174.55 L499.04,173.51 L499.17,172.74 L499.38,172.06 L499.67,171.43 L500.05,170.86 L500.51,170.33 L501.05,169.84 L501.67,169.39 L502.37,168.98 L503.14,168.61 L503.99,168.28 L504.92,168.00 L505.92,167.76 L507.01,167.57 L508.19,167.48 L509.47,167.65 L510.93,168.10Z"/></clipPath><g clip-path="url(#bc13)">
<path d="M521.24,164.26 Q518.18,174.55 520.68,184.84 L540.70,184.84 L540.70,164.26Z" fill="#e6dfc0" filter="url(#bl4)" opacity="0.88"/>
</g>
<clipPath id="bc14"><path d="M512.95,186.49 L515.12,186.18 L516.71,185.69 L518.12,185.51 L519.41,185.60 L520.61,185.81 L521.71,186.08 L522.73,186.39 L523.66,186.75 L524.51,187.15 L525.27,187.60 L525.95,188.09 L526.54,188.63 L527.05,189.21 L527.46,189.84 L527.78,190.52 L528.01,191.27 L528.15,192.11 L528.20,193.25 L528.15,194.39 L528.01,195.23 L527.78,195.98 L527.46,196.66 L527.05,197.29 L526.54,197.87 L525.95,198.41 L525.27,198.90 L524.51,199.35 L523.66,199.75 L522.73,200.11 L521.71,200.42 L520.61,200.69 L519.41,200.91 L518.12,201.06 L516.71,201.03 L515.12,200.73 L512.95,200.50 L510.78,200.73 L509.19,201.03 L507.78,201.06 L506.49,200.91 L505.29,200.69 L504.19,200.42 L503.17,200.11 L502.24,199.75 L501.39,199.35 L500.63,198.90 L499.95,198.41 L499.36,197.87 L498.85,197.29 L498.44,196.66 L498.12,195.98 L497.89,195.23 L497.75,194.39 L497.70,193.25 L497.75,192.11 L497.89,191.27 L498.12,190.52 L498.44,189.84 L498.85,189.21 L499.36,188.63 L499.95,188.09 L500.63,187.60 L501.39,187.15 L502.24,186.75 L503.17,186.39 L504.19,186.08 L505.29,185.81 L506.49,185.60 L507.78,185.51 L509.19,185.69 L510.78,186.18Z"/></clipPath><g clip-path="url(#bc14)">
<path d="M520.27,181.98 Q516.92,193.25 519.66,204.52 L543.45,204.52 L543.45,181.98Z" fill="#e6dfc0" filter="url(#bl4)" opacity="0.88"/>
</g>
<clipPath id="bc15"><path d="M512.50,205.98 L514.53,205.65 L516.02,205.12 L517.35,204.93 L518.56,205.03 L519.68,205.25 L520.71,205.53 L521.67,205.87 L522.54,206.25 L523.34,206.68 L524.05,207.16 L524.69,207.69 L525.25,208.26 L525.72,208.88 L526.11,209.55 L526.41,210.28 L526.63,211.08 L526.76,211.98 L526.80,213.20 L526.76,214.42 L526.63,215.32 L526.41,216.12 L526.11,216.85 L525.72,217.52 L525.25,218.14 L524.69,218.71 L524.05,219.24 L523.34,219.72 L522.54,220.15 L521.67,220.53 L520.71,220.87 L519.68,221.15 L518.56,221.38 L517.35,221.54 L516.02,221.51 L514.53,221.19 L512.50,220.94 L510.47,221.19 L508.98,221.51 L507.65,221.54 L506.44,221.38 L505.32,221.15 L504.29,220.87 L503.33,220.53 L502.46,220.15 L501.66,219.72 L500.95,219.24 L500.31,218.71 L499.75,218.14 L499.28,217.52 L498.89,216.85 L498.59,216.12 L498.37,215.32 L498.24,214.42 L498.20,213.20 L498.24,211.98 L498.37,211.08 L498.59,210.28 L498.89,209.55 L499.28,208.88 L499.75,208.26 L500.31,207.69 L500.95,207.16 L501.66,206.68 L502.46,206.25 L503.33,205.87 L504.29,205.53 L505.32,205.25 L506.44,205.03 L507.65,204.93 L508.98,205.12 L510.47,205.65Z"/></clipPath><g clip-path="url(#bc15)">
<path d="M518.22,201.16 Q515.07,213.20 517.65,225.24 L541.10,225.24 L541.10,201.16Z" fill="#e6dfc0" filter="url(#bl4)" opacity="0.88"/>
</g>
<clipPath id="bc16"><path d="M514.30,226.73 L516.27,226.41 L517.73,225.91 L519.01,225.72 L520.19,225.81 L521.28,226.03 L522.28,226.30 L523.21,226.62 L524.06,226.99 L524.83,227.41 L525.53,227.87 L526.15,228.38 L526.69,228.93 L527.15,229.53 L527.53,230.18 L527.82,230.89 L528.03,231.65 L528.16,232.52 L528.20,233.70 L528.16,234.88 L528.03,235.75 L527.82,236.51 L527.53,237.22 L527.15,237.87 L526.69,238.47 L526.15,239.02 L525.53,239.53 L524.83,239.99 L524.06,240.41 L523.21,240.78 L522.28,241.10 L521.28,241.37 L520.19,241.60 L519.01,241.75 L517.73,241.72 L516.27,241.41 L514.30,241.17 L512.33,241.41 L510.87,241.72 L509.59,241.75 L508.41,241.60 L507.32,241.37 L506.32,241.10 L505.39,240.78 L504.54,240.41 L503.77,239.99 L503.07,239.53 L502.45,239.02 L501.91,238.47 L501.45,237.87 L501.07,237.22 L500.78,236.51 L500.57,235.75 L500.44,234.88 L500.40,233.70 L500.44,232.52 L500.57,231.65 L500.78,230.89 L501.07,230.18 L501.45,229.53 L501.91,228.93 L502.45,228.38 L503.07,227.87 L503.77,227.41 L504.54,226.99 L505.39,226.62 L506.32,226.30 L507.32,226.03 L508.41,225.81 L509.59,225.72 L510.87,225.91 L512.33,226.41Z"/></clipPath><g clip-path="url(#bc16)">
<path d="M520.42,222.08 Q517.36,233.70 519.86,245.32 L542.10,245.32 L542.10,222.08Z" fill="#e6dfc0" filter="url(#bl4)" opacity="0.88"/>
</g>
<clipPath id="bc17"><path d="M511.55,247.54 L513.52,247.22 L514.96,246.71 L516.25,246.52 L517.42,246.62 L518.50,246.83 L519.50,247.11 L520.43,247.43 L521.28,247.80 L522.05,248.22 L522.74,248.69 L523.36,249.20 L523.89,249.75 L524.35,250.36 L524.73,251.01 L525.02,251.72 L525.23,252.49 L525.36,253.36 L525.40,254.55 L525.36,255.74 L525.23,256.61 L525.02,257.38 L524.73,258.09 L524.35,258.74 L523.89,259.35 L523.36,259.90 L522.74,260.41 L522.05,260.88 L521.28,261.30 L520.43,261.67 L519.50,261.99 L518.50,262.27 L517.42,262.49 L516.25,262.65 L514.96,262.62 L513.52,262.31 L511.55,262.06 L509.58,262.31 L508.14,262.62 L506.85,262.65 L505.68,262.49 L504.60,262.27 L503.60,261.99 L502.67,261.67 L501.82,261.30 L501.05,260.88 L500.36,260.41 L499.74,259.90 L499.21,259.35 L498.75,258.74 L498.37,258.09 L498.08,257.38 L497.87,256.61 L497.74,255.74 L497.70,254.55 L497.74,253.36 L497.87,252.49 L498.08,251.72 L498.37,251.01 L498.75,250.36 L499.21,249.75 L499.74,249.20 L500.36,248.69 L501.05,248.22 L501.82,247.80 L502.67,247.43 L503.60,247.11 L504.60,246.83 L505.68,246.62 L506.85,246.52 L508.14,246.71 L509.58,247.22Z"/></clipPath><g clip-path="url(#bc17)">
<path d="M512.10,242.86 Q509.06,254.55 511.55,266.24 L539.25,266.24 L539.25,242.86Z" fill="#e6dfc0" filter="url(#bl4)" opacity="0.88"/>
</g>
<clipPath id="bc18"><path d="M509.45,268.11 L511.12,267.85 L512.35,267.42 L513.44,267.27 L514.43,267.35 L515.35,267.53 L516.20,267.76 L516.98,268.03 L517.70,268.33 L518.35,268.68 L518.94,269.07 L519.47,269.49 L519.92,269.96 L520.31,270.46 L520.63,271.00 L520.88,271.59 L521.06,272.24 L521.16,272.96 L521.20,273.95 L521.16,274.94 L521.06,275.66 L520.88,276.31 L520.63,276.90 L520.31,277.44 L519.92,277.94 L519.47,278.41 L518.94,278.83 L518.35,279.22 L517.70,279.57 L516.98,279.87 L516.20,280.14 L515.35,280.37 L514.43,280.56 L513.44,280.69 L512.35,280.67 L511.12,280.41 L509.45,280.20 L507.78,280.41 L506.55,280.67 L505.46,280.69 L504.47,280.56 L503.55,280.37 L502.70,280.14 L501.92,279.87 L501.20,279.57 L500.55,279.22 L499.96,278.83 L499.43,278.41 L498.98,277.94 L498.59,277.44 L498.27,276.90 L498.02,276.31 L497.84,275.66 L497.74,274.94 L497.70,273.95 L497.74,272.96 L497.84,272.24 L498.02,271.59 L498.27,271.00 L498.59,270.46 L498.98,269.96 L499.43,269.49 L499.96,269.07 L500.55,268.68 L501.20,268.33 L501.92,268.03 L502.70,267.76 L503.55,267.53 L504.47,267.35 L505.46,267.27 L506.55,267.42 L507.78,267.85Z"/></clipPath><g clip-path="url(#bc18)">
<path d="M515.80,264.22 Q513.21,273.95 515.33,283.68 L532.95,283.68 L532.95,264.22Z" fill="#e6dfc0" filter="url(#bl4)" opacity="0.88"/>
</g>
<clipPath id="bc19"><path d="M551.75,167.48 L553.72,167.20 L555.16,166.75 L556.45,166.58 L557.62,166.67 L558.70,166.86 L559.70,167.10 L560.63,167.38 L561.48,167.71 L562.25,168.08 L562.94,168.49 L563.56,168.94 L564.09,169.43 L564.55,169.96 L564.93,170.53 L565.22,171.16 L565.43,171.84 L565.56,172.61 L565.60,173.65 L565.56,174.69 L565.43,175.46 L565.22,176.14 L564.93,176.77 L564.55,177.34 L564.09,177.87 L563.56,178.36 L562.94,178.81 L562.25,179.22 L561.48,179.59 L560.63,179.92 L559.70,180.20 L558.70,180.44 L557.62,180.64 L556.45,180.78 L555.16,180.76 L553.72,180.48 L551.75,180.26 L549.78,180.48 L548.34,180.76 L547.05,180.78 L545.88,180.64 L544.80,180.44 L543.80,180.20 L542.87,179.92 L542.02,179.59 L541.25,179.22 L540.56,178.81 L539.94,178.36 L539.41,177.87 L538.95,177.34 L538.57,176.77 L538.28,176.14 L538.07,175.46 L537.94,174.69 L537.90,173.65 L537.94,172.61 L538.07,171.84 L538.28,171.16 L538.57,170.53 L538.95,169.96 L539.41,169.43 L539.94,168.94 L540.56,168.49 L541.25,168.08 L542.02,167.71 L542.87,167.38 L543.80,167.10 L544.80,166.86 L545.88,166.67 L547.05,166.58 L548.34,166.75 L549.78,167.20Z"/></clipPath><g clip-path="url(#bc19)">
<path d="M562.83,163.36 Q559.78,173.65 562.28,183.94 L579.45,183.94 L579.45,163.36Z" fill="#e6dfc0" filter="url(#bl4)" opacity="0.88"/>
</g>
<clipPath id="bc21"><path d="M548.00,205.49 L550.23,205.13 L551.87,204.57 L553.32,204.36 L554.65,204.46 L555.88,204.70 L557.02,205.01 L558.06,205.37 L559.02,205.79 L559.90,206.25 L560.69,206.77 L561.38,207.34 L561.99,207.96 L562.51,208.63 L562.94,209.36 L563.27,210.15 L563.51,211.01 L563.65,211.98 L563.70,213.30 L563.65,214.62 L563.51,215.59 L563.27,216.45 L562.94,217.24 L562.51,217.97 L561.99,218.64 L561.38,219.26 L560.69,219.83 L559.90,220.35 L559.02,220.81 L558.06,221.23 L557.02,221.59 L555.88,221.90 L554.65,222.15 L553.32,222.32 L551.87,222.29 L550.23,221.94 L548.00,221.67 L545.77,221.94 L544.13,222.29 L542.68,222.32 L541.35,222.15 L540.12,221.90 L538.98,221.59 L537.94,221.23 L536.98,220.81 L536.10,220.35 L535.31,219.83 L534.62,219.26 L534.01,218.64 L533.49,217.97 L533.06,217.24 L532.73,216.45 L532.49,215.59 L532.35,214.62 L532.30,213.30 L532.35,211.98 L532.49,211.01 L532.73,210.15 L533.06,209.36 L533.49,208.63 L534.01,207.96 L534.62,207.34 L535.31,206.77 L536.10,206.25 L536.98,205.79 L537.94,205.37 L538.98,205.01 L540.12,204.70 L541.35,204.46 L542.68,204.36 L544.13,204.57 L545.77,205.13Z"/></clipPath><g clip-path="url(#bc21)">
<path d="M562.76,200.28 Q559.30,213.30 562.13,226.32 L579.40,226.32 L579.40,200.28Z" fill="#e6dfc0" filter="url(#bl4)" opacity="0.88"/>
</g>
<clipPath id="bc22"><path d="M547.60,225.99 L549.77,225.66 L551.37,225.13 L552.79,224.93 L554.09,225.03 L555.28,225.26 L556.39,225.55 L557.41,225.88 L558.34,226.27 L559.20,226.71 L559.96,227.19 L560.64,227.72 L561.24,228.30 L561.74,228.93 L562.16,229.61 L562.48,230.35 L562.71,231.16 L562.85,232.06 L562.90,233.30 L562.85,234.54 L562.71,235.44 L562.48,236.25 L562.16,236.99 L561.74,237.67 L561.24,238.30 L560.64,238.88 L559.96,239.41 L559.20,239.89 L558.34,240.33 L557.41,240.72 L556.39,241.05 L555.28,241.34 L554.09,241.58 L552.79,241.74 L551.37,241.71 L549.77,241.38 L547.60,241.13 L545.43,241.38 L543.83,241.71 L542.41,241.74 L541.11,241.58 L539.92,241.34 L538.81,241.05 L537.79,240.72 L536.86,240.33 L536.00,239.89 L535.24,239.41 L534.56,238.88 L533.96,238.30 L533.46,237.67 L533.04,236.99 L532.72,236.25 L532.49,235.44 L532.35,234.54 L532.30,233.30 L532.35,232.06 L532.49,231.16 L532.72,230.35 L533.04,229.61 L533.46,228.93 L533.96,228.30 L534.56,227.72 L535.24,227.19 L536.00,226.71 L536.86,226.27 L537.79,225.88 L538.81,225.55 L539.92,225.26 L541.11,225.03 L542.41,224.93 L543.83,225.13 L545.43,225.66Z"/></clipPath><g clip-path="url(#bc22)">
<path d="M555.86,221.12 Q552.50,233.30 555.25,245.48 L578.20,245.48 L578.20,221.12Z" fill="#e6dfc0" filter="url(#bl4)" opacity="0.88"/>
</g>
<clipPath id="bc23"><path d="M546.90,246.20 L548.77,245.87 L550.15,245.33 L551.38,245.14 L552.50,245.24 L553.53,245.46 L554.48,245.75 L555.36,246.09 L556.17,246.48 L556.90,246.92 L557.57,247.41 L558.15,247.94 L558.67,248.52 L559.10,249.16 L559.46,249.84 L559.74,250.58 L559.94,251.39 L560.06,252.31 L560.10,253.55 L560.06,254.79 L559.94,255.71 L559.74,256.52 L559.46,257.26 L559.10,257.94 L558.67,258.58 L558.15,259.16 L557.57,259.69 L556.90,260.18 L556.17,260.62 L555.36,261.01 L554.48,261.35 L553.53,261.64 L552.50,261.87 L551.38,262.03 L550.15,262.01 L548.77,261.68 L546.90,261.43 L545.03,261.68 L543.65,262.01 L542.42,262.03 L541.30,261.87 L540.27,261.64 L539.32,261.35 L538.44,261.01 L537.63,260.62 L536.90,260.18 L536.23,259.69 L535.65,259.16 L535.13,258.58 L534.70,257.94 L534.34,257.26 L534.06,256.52 L533.86,255.71 L533.74,254.79 L533.70,253.55 L533.74,252.31 L533.86,251.39 L534.06,250.58 L534.34,249.84 L534.70,249.16 L535.13,248.52 L535.65,247.94 L536.23,247.41 L536.90,246.92 L537.63,246.48 L538.44,246.09 L539.32,245.75 L540.27,245.46 L541.30,245.24 L542.42,245.14 L543.65,245.33 L545.03,245.87Z"/></clipPath><g clip-path="url(#bc23)">
<path d="M551.12,241.30 Q548.22,253.55 550.60,265.80 L573.30,265.80 L573.30,241.30Z" fill="#e6dfc0" filter="url(#bl4)" opacity="0.88"/>
</g>
<clipPath id="bc24"><path d="M546.90,266.29 L548.58,266.01 L549.81,265.55 L550.90,265.39 L551.90,265.47 L552.82,265.66 L553.68,265.91 L554.46,266.20 L555.19,266.53 L555.84,266.90 L556.43,267.32 L556.96,267.77 L557.42,268.27 L557.81,268.81 L558.13,269.39 L558.38,270.02 L558.56,270.71 L558.66,271.49 L558.70,272.55 L558.66,273.61 L558.56,274.39 L558.38,275.08 L558.13,275.71 L557.81,276.29 L557.42,276.83 L556.96,277.33 L556.43,277.78 L555.84,278.20 L555.19,278.57 L554.46,278.90 L553.68,279.19 L552.82,279.44 L551.90,279.64 L550.90,279.77 L549.81,279.75 L548.58,279.47 L546.90,279.25 L545.22,279.47 L543.99,279.75 L542.90,279.77 L541.90,279.64 L540.98,279.44 L540.12,279.19 L539.34,278.90 L538.61,278.57 L537.96,278.20 L537.37,277.78 L536.84,277.33 L536.38,276.83 L535.99,276.29 L535.67,275.71 L535.42,275.08 L535.24,274.39 L535.14,273.61 L535.10,272.55 L535.14,271.49 L535.24,270.71 L535.42,270.02 L535.67,269.39 L535.99,268.81 L536.38,268.27 L536.84,267.77 L537.37,267.32 L537.96,266.90 L538.61,266.53 L539.34,266.20 L540.12,265.91 L540.98,265.66 L541.90,265.47 L542.90,265.39 L543.99,265.55 L545.22,266.01Z"/></clipPath><g clip-path="url(#bc24)">
<path d="M554.45,262.12 Q551.86,272.55 553.98,282.98 L570.50,282.98 L570.50,262.12Z" fill="#e6dfc0" filter="url(#bl4)" opacity="0.88"/>
<ellipse cx="545.01" cy="273.74" rx="2.83" ry="2.98" fill="#e6cdb8" filter="url(#bl2)"/>
</g>
<clipPath id="bc27"><path d="M585.45,210.19 L587.36,209.86 L588.76,209.33 L590.01,209.13 L591.15,209.23 L592.20,209.46 L593.17,209.75 L594.07,210.08 L594.89,210.47 L595.64,210.91 L596.32,211.39 L596.92,211.92 L597.44,212.50 L597.88,213.13 L598.25,213.81 L598.53,214.55 L598.74,215.36 L598.86,216.26 L598.90,217.50 L598.86,218.74 L598.74,219.64 L598.53,220.45 L598.25,221.19 L597.88,221.87 L597.44,222.50 L596.92,223.08 L596.32,223.61 L595.64,224.09 L594.89,224.53 L594.07,224.92 L593.17,225.25 L592.20,225.54 L591.15,225.78 L590.01,225.94 L588.76,225.91 L587.36,225.58 L585.45,225.33 L583.54,225.58 L582.14,225.91 L580.89,225.94 L579.75,225.78 L578.70,225.54 L577.73,225.25 L576.83,224.92 L576.01,224.53 L575.26,224.09 L574.58,223.61 L573.98,223.08 L573.46,222.50 L573.02,221.87 L572.65,221.19 L572.37,220.45 L572.16,219.64 L572.04,218.74 L572.00,217.50 L572.04,216.26 L572.16,215.36 L572.37,214.55 L572.65,213.81 L573.02,213.13 L573.46,212.50 L573.98,211.92 L574.58,211.39 L575.26,210.91 L576.01,210.47 L576.83,210.08 L577.73,209.75 L578.70,209.46 L579.75,209.23 L580.89,209.13 L582.14,209.33 L583.54,209.86Z"/></clipPath><g clip-path="url(#bc27)">
<path d="M596.75,205.32 Q593.79,217.50 596.21,229.68 L612.35,229.68 L612.35,205.32Z" fill="#e6dfc0" filter="url(#bl4)" opacity="0.88"/>
</g>
<clipPath id="bc28"><path d="M585.75,231.04 L587.62,230.70 L588.99,230.15 L590.21,229.95 L591.32,230.05 L592.35,230.28 L593.30,230.58 L594.18,230.93 L594.98,231.33 L595.72,231.78 L596.37,232.28 L596.96,232.83 L597.47,233.43 L597.90,234.08 L598.26,234.79 L598.54,235.55 L598.74,236.38 L598.86,237.32 L598.90,238.60 L598.86,239.88 L598.74,240.82 L598.54,241.65 L598.26,242.41 L597.90,243.12 L597.47,243.77 L596.96,244.37 L596.37,244.92 L595.72,245.42 L594.98,245.87 L594.18,246.27 L593.30,246.62 L592.35,246.92 L591.32,247.16 L590.21,247.33 L588.99,247.30 L587.62,246.96 L585.75,246.70 L583.88,246.96 L582.51,247.30 L581.29,247.33 L580.18,247.16 L579.15,246.92 L578.20,246.62 L577.32,246.27 L576.52,245.87 L575.78,245.42 L575.13,244.92 L574.54,244.37 L574.03,243.77 L573.60,243.12 L573.24,242.41 L572.96,241.65 L572.76,240.82 L572.64,239.88 L572.60,238.60 L572.64,237.32 L572.76,236.38 L572.96,235.55 L573.24,234.79 L573.60,234.08 L574.03,233.43 L574.54,232.83 L575.13,232.28 L575.78,231.78 L576.52,231.33 L577.32,230.93 L578.20,230.58 L579.15,230.28 L580.18,230.05 L581.29,229.95 L582.51,230.15 L583.88,230.70Z"/></clipPath><g clip-path="url(#bc28)">
<path d="M595.48,226.00 Q592.59,238.60 594.95,251.20 L612.05,251.20 L612.05,226.00Z" fill="#e6dfc0" filter="url(#bl4)" opacity="0.88"/>
</g>
<clipPath id="bc29"><path d="M586.45,250.68 L588.22,250.40 L589.52,249.95 L590.67,249.78 L591.73,249.87 L592.70,250.06 L593.60,250.30 L594.43,250.58 L595.19,250.91 L595.89,251.28 L596.51,251.69 L597.06,252.14 L597.55,252.63 L597.96,253.16 L598.30,253.73 L598.56,254.36 L598.75,255.04 L598.86,255.81 L598.90,256.85 L598.86,257.89 L598.75,258.66 L598.56,259.34 L598.30,259.97 L597.96,260.54 L597.55,261.07 L597.06,261.56 L596.51,262.01 L595.89,262.42 L595.19,262.79 L594.43,263.12 L593.60,263.40 L592.70,263.64 L591.73,263.84 L590.67,263.98 L589.52,263.96 L588.22,263.68 L586.45,263.47 L584.68,263.68 L583.38,263.96 L582.23,263.98 L581.17,263.84 L580.20,263.64 L579.30,263.40 L578.47,263.12 L577.71,262.79 L577.01,262.42 L576.39,262.01 L575.84,261.56 L575.35,261.07 L574.94,260.54 L574.60,259.97 L574.34,259.34 L574.15,258.66 L574.04,257.89 L574.00,256.85 L574.04,255.81 L574.15,255.04 L574.34,254.36 L574.60,253.73 L574.94,253.16 L575.35,252.63 L575.84,252.14 L576.39,251.69 L577.01,251.28 L577.71,250.91 L578.47,250.58 L579.30,250.30 L580.20,250.06 L581.17,249.87 L582.23,249.78 L583.38,249.95 L584.68,250.40Z"/></clipPath><g clip-path="url(#bc29)">
<path d="M596.91,246.56 Q594.17,256.85 596.41,267.14 L611.35,267.14 L611.35,246.56Z" fill="#e6dfc0" filter="url(#bl4)" opacity="0.88"/>
</g>
<g clip-path="url(#brains)"><rect x="424" y="165" width="182" height="118" filter="url(#tex)"/></g>
<path d="M440.80,169.22 L442.49,168.93 L443.73,168.46 L444.84,168.29 L445.84,168.38 L446.77,168.58 L447.63,168.83 L448.43,169.12 L449.16,169.46 L449.82,169.84 L450.42,170.26 L450.94,170.73 L451.41,171.23 L451.80,171.78 L452.12,172.38 L452.37,173.02 L452.56,173.73 L452.66,174.52 L452.70,175.60 L452.66,176.68 L452.56,177.47 L452.37,178.18 L452.12,178.82 L451.80,179.42 L451.41,179.97 L450.94,180.47 L450.42,180.94 L449.82,181.36 L449.16,181.74 L448.43,182.08 L447.63,182.37 L446.77,182.62 L445.84,182.83 L444.84,182.97 L443.73,182.95 L442.49,182.66 L440.80,182.44 L439.11,182.66 L437.87,182.95 L436.76,182.97 L435.76,182.83 L434.83,182.62 L433.97,182.37 L433.17,182.08 L432.44,181.74 L431.78,181.36 L431.18,180.94 L430.66,180.47 L430.19,179.97 L429.80,179.42 L429.48,178.82 L429.23,178.18 L429.04,177.47 L428.94,176.68 L428.90,175.60 L428.94,174.52 L429.04,173.73 L429.23,173.02 L429.48,172.38 L429.80,171.78 L430.19,171.23 L430.66,170.73 L431.18,170.26 L431.78,169.84 L432.44,169.46 L433.17,169.12 L433.97,168.83 L434.83,168.58 L435.76,168.38 L436.76,168.29 L437.87,168.46 L439.11,168.93Z M440.00,187.04 L441.85,186.72 L443.20,186.21 L444.41,186.02 L445.51,186.12 L446.53,186.33 L447.47,186.61 L448.33,186.93 L449.13,187.30 L449.85,187.72 L450.50,188.19 L451.08,188.70 L451.59,189.25 L452.02,189.86 L452.37,190.51 L452.64,191.22 L452.84,191.99 L452.96,192.86 L453.00,194.05 L452.96,195.24 L452.84,196.11 L452.64,196.88 L452.37,197.59 L452.02,198.24 L451.59,198.85 L451.08,199.40 L450.50,199.91 L449.85,200.38 L449.13,200.80 L448.33,201.17 L447.47,201.49 L446.53,201.77 L445.51,201.99 L444.41,202.15 L443.20,202.12 L441.85,201.81 L440.00,201.57 L438.15,201.81 L436.80,202.12 L435.59,202.15 L434.49,201.99 L433.47,201.77 L432.53,201.49 L431.67,201.17 L430.87,200.80 L430.15,200.38 L429.50,199.91 L428.92,199.40 L428.41,198.85 L427.98,198.24 L427.63,197.59 L427.36,196.88 L427.16,196.11 L427.04,195.24 L427.00,194.05 L427.04,192.86 L427.16,191.99 L427.36,191.22 L427.63,190.51 L427.98,189.86 L428.41,189.25 L428.92,188.70 L429.50,188.19 L430.15,187.72 L430.87,187.30 L431.67,186.93 L432.53,186.61 L433.47,186.33 L434.49,186.12 L435.59,186.02 L436.80,186.21 L438.15,186.72Z M440.90,204.54 L442.73,204.22 L444.08,203.71 L445.28,203.52 L446.37,203.62 L447.38,203.83 L448.31,204.11 L449.17,204.43 L449.96,204.80 L450.68,205.22 L451.32,205.69 L451.90,206.20 L452.40,206.75 L452.82,207.36 L453.17,208.01 L453.45,208.72 L453.64,209.49 L453.76,210.36 L453.80,211.55 L453.76,212.74 L453.64,213.61 L453.45,214.38 L453.17,215.09 L452.82,215.74 L452.40,216.35 L451.90,216.90 L451.32,217.41 L450.68,217.88 L449.96,218.30 L449.17,218.67 L448.31,218.99 L447.38,219.27 L446.37,219.49 L445.28,219.65 L444.08,219.62 L442.73,219.31 L440.90,219.07 L439.07,219.31 L437.72,219.62 L436.52,219.65 L435.43,219.49 L434.42,219.27 L433.49,218.99 L432.63,218.67 L431.84,218.30 L431.12,217.88 L430.48,217.41 L429.90,216.90 L429.40,216.35 L428.98,215.74 L428.63,215.09 L428.35,214.38 L428.16,213.61 L428.04,212.74 L428.00,211.55 L428.04,210.36 L428.16,209.49 L428.35,208.72 L428.63,208.01 L428.98,207.36 L429.40,206.75 L429.90,206.20 L430.48,205.69 L431.12,205.22 L431.84,204.80 L432.63,204.43 L433.49,204.11 L434.42,203.83 L435.43,203.62 L436.52,203.52 L437.72,203.71 L439.07,204.22Z M441.35,225.38 L443.25,225.05 L444.64,224.52 L445.88,224.33 L447.01,224.43 L448.05,224.65 L449.02,224.93 L449.91,225.27 L450.72,225.65 L451.47,226.08 L452.14,226.56 L452.73,227.09 L453.25,227.66 L453.69,228.28 L454.05,228.95 L454.33,229.68 L454.54,230.48 L454.66,231.38 L454.70,232.60 L454.66,233.82 L454.54,234.72 L454.33,235.52 L454.05,236.25 L453.69,236.92 L453.25,237.54 L452.73,238.11 L452.14,238.64 L451.47,239.12 L450.72,239.55 L449.91,239.93 L449.02,240.27 L448.05,240.55 L447.01,240.78 L445.88,240.94 L444.64,240.91 L443.25,240.59 L441.35,240.34 L439.45,240.59 L438.06,240.91 L436.82,240.94 L435.69,240.78 L434.65,240.55 L433.68,240.27 L432.79,239.93 L431.98,239.55 L431.23,239.12 L430.56,238.64 L429.97,238.11 L429.45,237.54 L429.01,236.92 L428.65,236.25 L428.37,235.52 L428.16,234.72 L428.04,233.82 L428.00,232.60 L428.04,231.38 L428.16,230.48 L428.37,229.68 L428.65,228.95 L429.01,228.28 L429.45,227.66 L429.97,227.09 L430.56,226.56 L431.23,226.08 L431.98,225.65 L432.79,225.27 L433.68,224.93 L434.65,224.65 L435.69,224.43 L436.82,224.33 L438.06,224.52 L439.45,225.05Z M442.60,245.68 L444.43,245.35 L445.78,244.82 L446.98,244.63 L448.07,244.73 L449.08,244.95 L450.01,245.23 L450.87,245.57 L451.66,245.95 L452.38,246.38 L453.02,246.86 L453.60,247.39 L454.10,247.96 L454.52,248.58 L454.87,249.25 L455.15,249.98 L455.34,250.78 L455.46,251.68 L455.50,252.90 L455.46,254.12 L455.34,255.02 L455.15,255.82 L454.87,256.55 L454.52,257.22 L454.10,257.84 L453.60,258.41 L453.02,258.94 L452.38,259.42 L451.66,259.85 L450.87,260.23 L450.01,260.57 L449.08,260.85 L448.07,261.08 L446.98,261.24 L445.78,261.21 L444.43,260.89 L442.60,260.64 L440.77,260.89 L439.42,261.21 L438.22,261.24 L437.13,261.08 L436.12,260.85 L435.19,260.57 L434.33,260.23 L433.54,259.85 L432.82,259.42 L432.18,258.94 L431.60,258.41 L431.10,257.84 L430.68,257.22 L430.33,256.55 L430.05,255.82 L429.86,255.02 L429.74,254.12 L429.70,252.90 L429.74,251.68 L429.86,250.78 L430.05,249.98 L430.33,249.25 L430.68,248.58 L431.10,247.96 L431.60,247.39 L432.18,246.86 L432.82,246.38 L433.54,245.95 L434.33,245.57 L435.19,245.23 L436.12,244.95 L437.13,244.73 L438.22,244.63 L439.42,244.82 L440.77,245.35Z M442.60,265.54 L444.32,265.22 L445.58,264.71 L446.70,264.52 L447.73,264.62 L448.67,264.83 L449.55,265.11 L450.36,265.43 L451.10,265.80 L451.77,266.22 L452.38,266.69 L452.92,267.20 L453.38,267.75 L453.78,268.36 L454.11,269.01 L454.37,269.72 L454.55,270.49 L454.66,271.36 L454.70,272.55 L454.66,273.74 L454.55,274.61 L454.37,275.38 L454.11,276.09 L453.78,276.74 L453.38,277.35 L452.92,277.90 L452.38,278.41 L451.77,278.88 L451.10,279.30 L450.36,279.67 L449.55,279.99 L448.67,280.27 L447.73,280.49 L446.70,280.65 L445.58,280.62 L444.32,280.31 L442.60,280.06 L440.88,280.31 L439.62,280.62 L438.50,280.65 L437.47,280.49 L436.53,280.27 L435.65,279.99 L434.84,279.67 L434.10,279.30 L433.43,278.88 L432.82,278.41 L432.28,277.90 L431.82,277.35 L431.42,276.74 L431.09,276.09 L430.83,275.38 L430.65,274.61 L430.54,273.74 L430.50,272.55 L430.54,271.36 L430.65,270.49 L430.83,269.72 L431.09,269.01 L431.42,268.36 L431.82,267.75 L432.28,267.20 L432.82,266.69 L433.43,266.22 L434.10,265.80 L434.84,265.43 L435.65,265.11 L436.53,264.83 L437.47,264.62 L438.50,264.52 L439.62,264.71 L440.88,265.22Z M478.25,169.26 L480.22,168.96 L481.66,168.48 L482.95,168.30 L484.12,168.39 L485.20,168.60 L486.20,168.86 L487.13,169.17 L487.98,169.52 L488.75,169.91 L489.44,170.35 L490.06,170.84 L490.59,171.36 L491.05,171.93 L491.43,172.55 L491.72,173.22 L491.93,173.95 L492.06,174.78 L492.10,175.90 L492.06,177.02 L491.93,177.85 L491.72,178.58 L491.43,179.25 L491.05,179.87 L490.59,180.44 L490.06,180.96 L489.44,181.45 L488.75,181.89 L487.98,182.28 L487.13,182.63 L486.20,182.94 L485.20,183.20 L484.12,183.41 L482.95,183.56 L481.66,183.54 L480.22,183.24 L478.25,183.01 L476.28,183.24 L474.84,183.54 L473.55,183.56 L472.38,183.41 L471.30,183.20 L470.30,182.94 L469.37,182.63 L468.52,182.28 L467.75,181.89 L467.06,181.45 L466.44,180.96 L465.91,180.44 L465.45,179.87 L465.07,179.25 L464.78,178.58 L464.57,177.85 L464.44,177.02 L464.40,175.90 L464.44,174.78 L464.57,173.95 L464.78,173.22 L465.07,172.55 L465.45,171.93 L465.91,171.36 L466.44,170.84 L467.06,170.35 L467.75,169.91 L468.52,169.52 L469.37,169.17 L470.30,168.86 L471.30,168.60 L472.38,168.39 L473.55,168.30 L474.84,168.48 L476.28,168.96Z M478.25,186.53 L480.22,186.21 L481.66,185.71 L482.95,185.52 L484.12,185.61 L485.20,185.83 L486.20,186.10 L487.13,186.42 L487.98,186.79 L488.75,187.21 L489.44,187.67 L490.06,188.18 L490.59,188.73 L491.05,189.33 L491.43,189.98 L491.72,190.69 L491.93,191.45 L492.06,192.32 L492.10,193.50 L492.06,194.68 L491.93,195.55 L491.72,196.31 L491.43,197.02 L491.05,197.67 L490.59,198.27 L490.06,198.82 L489.44,199.33 L488.75,199.79 L487.98,200.21 L487.13,200.58 L486.20,200.90 L485.20,201.17 L484.12,201.40 L482.95,201.55 L481.66,201.52 L480.22,201.21 L478.25,200.97 L476.28,201.21 L474.84,201.52 L473.55,201.55 L472.38,201.40 L471.30,201.17 L470.30,200.90 L469.37,200.58 L468.52,200.21 L467.75,199.79 L467.06,199.33 L466.44,198.82 L465.91,198.27 L465.45,197.67 L465.07,197.02 L464.78,196.31 L464.57,195.55 L464.44,194.68 L464.40,193.50 L464.44,192.32 L464.57,191.45 L464.78,190.69 L465.07,189.98 L465.45,189.33 L465.91,188.73 L466.44,188.18 L467.06,187.67 L467.75,187.21 L468.52,186.79 L469.37,186.42 L470.30,186.10 L471.30,185.83 L472.38,185.61 L473.55,185.52 L474.84,185.71 L476.28,186.21Z M478.50,206.59 L480.50,206.26 L481.98,205.73 L483.28,205.53 L484.48,205.63 L485.58,205.86 L486.60,206.15 L487.54,206.48 L488.40,206.87 L489.19,207.31 L489.89,207.79 L490.52,208.32 L491.07,208.90 L491.53,209.53 L491.92,210.21 L492.21,210.95 L492.43,211.76 L492.56,212.66 L492.60,213.90 L492.56,215.14 L492.43,216.04 L492.21,216.85 L491.92,217.59 L491.53,218.27 L491.07,218.90 L490.52,219.48 L489.89,220.01 L489.19,220.49 L488.40,220.93 L487.54,221.32 L486.60,221.65 L485.58,221.94 L484.48,222.18 L483.28,222.34 L481.98,222.31 L480.50,221.98 L478.50,221.73 L476.50,221.98 L475.02,222.31 L473.72,222.34 L472.52,222.18 L471.42,221.94 L470.40,221.65 L469.46,221.32 L468.60,220.93 L467.81,220.49 L467.11,220.01 L466.48,219.48 L465.93,218.90 L465.47,218.27 L465.08,217.59 L464.79,216.85 L464.57,216.04 L464.44,215.14 L464.40,213.90 L464.44,212.66 L464.57,211.76 L464.79,210.95 L465.08,210.21 L465.47,209.53 L465.93,208.90 L466.48,208.32 L467.11,207.79 L467.81,207.31 L468.60,206.87 L469.46,206.48 L470.40,206.15 L471.42,205.86 L472.52,205.63 L473.72,205.53 L475.02,205.73 L476.50,206.26Z M479.20,226.80 L481.10,226.47 L482.50,225.93 L483.74,225.74 L484.88,225.84 L485.93,226.06 L486.90,226.35 L487.79,226.69 L488.61,227.08 L489.36,227.52 L490.03,228.01 L490.62,228.54 L491.14,229.12 L491.59,229.76 L491.95,230.44 L492.23,231.18 L492.44,231.99 L492.56,232.91 L492.60,234.15 L492.56,235.39 L492.44,236.31 L492.23,237.12 L491.95,237.86 L491.59,238.54 L491.14,239.18 L490.62,239.76 L490.03,240.29 L489.36,240.78 L488.61,241.22 L487.79,241.61 L486.90,241.95 L485.93,242.24 L484.88,242.47 L483.74,242.63 L482.50,242.61 L481.10,242.28 L479.20,242.03 L477.30,242.28 L475.90,242.61 L474.66,242.63 L473.52,242.47 L472.47,242.24 L471.50,241.95 L470.61,241.61 L469.79,241.22 L469.04,240.78 L468.37,240.29 L467.78,239.76 L467.26,239.18 L466.81,238.54 L466.45,237.86 L466.17,237.12 L465.96,236.31 L465.84,235.39 L465.80,234.15 L465.84,232.91 L465.96,231.99 L466.17,231.18 L466.45,230.44 L466.81,229.76 L467.26,229.12 L467.78,228.54 L468.37,228.01 L469.04,227.52 L469.79,227.08 L470.61,226.69 L471.50,226.35 L472.47,226.06 L473.52,225.84 L474.66,225.74 L475.90,225.93 L477.30,226.47Z M478.95,246.14 L480.82,245.82 L482.19,245.31 L483.41,245.12 L484.52,245.22 L485.55,245.43 L486.50,245.71 L487.38,246.03 L488.18,246.40 L488.92,246.82 L489.57,247.29 L490.16,247.80 L490.67,248.35 L491.10,248.96 L491.46,249.61 L491.74,250.32 L491.94,251.09 L492.06,251.96 L492.10,253.15 L492.06,254.34 L491.94,255.21 L491.74,255.98 L491.46,256.69 L491.10,257.34 L490.67,257.95 L490.16,258.50 L489.57,259.01 L488.92,259.48 L488.18,259.90 L487.38,260.27 L486.50,260.59 L485.55,260.87 L484.52,261.09 L483.41,261.25 L482.19,261.22 L480.82,260.91 L478.95,260.67 L477.08,260.91 L475.71,261.22 L474.49,261.25 L473.38,261.09 L472.35,260.87 L471.40,260.59 L470.52,260.27 L469.72,259.90 L468.98,259.48 L468.33,259.01 L467.74,258.50 L467.23,257.95 L466.80,257.34 L466.44,256.69 L466.16,255.98 L465.96,255.21 L465.84,254.34 L465.80,253.15 L465.84,251.96 L465.96,251.09 L466.16,250.32 L466.44,249.61 L466.80,248.96 L467.23,248.35 L467.74,247.80 L468.33,247.29 L468.98,246.82 L469.72,246.40 L470.52,246.03 L471.40,245.71 L472.35,245.43 L473.38,245.22 L474.49,245.12 L475.71,245.31 L477.08,245.82Z M480.30,266.20 L481.98,265.91 L483.21,265.46 L484.30,265.29 L485.30,265.37 L486.22,265.57 L487.08,265.82 L487.86,266.11 L488.59,266.44 L489.24,266.82 L489.83,267.23 L490.36,267.69 L490.82,268.19 L491.21,268.73 L491.53,269.32 L491.78,269.96 L491.96,270.65 L492.06,271.44 L492.10,272.50 L492.06,273.56 L491.96,274.35 L491.78,275.04 L491.53,275.68 L491.21,276.27 L490.82,276.81 L490.36,277.31 L489.83,277.77 L489.24,278.18 L488.59,278.56 L487.86,278.89 L487.08,279.18 L486.22,279.43 L485.30,279.63 L484.30,279.77 L483.21,279.75 L481.98,279.47 L480.30,279.25 L478.62,279.47 L477.39,279.75 L476.30,279.77 L475.30,279.63 L474.38,279.43 L473.52,279.18 L472.74,278.89 L472.01,278.56 L471.36,278.18 L470.77,277.77 L470.24,277.31 L469.78,276.81 L469.39,276.27 L469.07,275.68 L468.82,275.04 L468.64,274.35 L468.54,273.56 L468.50,272.50 L468.54,271.44 L468.64,270.65 L468.82,269.96 L469.07,269.32 L469.39,268.73 L469.78,268.19 L470.24,267.69 L470.77,267.23 L471.36,266.82 L472.01,266.44 L472.74,266.11 L473.52,265.82 L474.38,265.57 L475.30,265.37 L476.30,265.29 L477.39,265.46 L478.62,265.91Z M512.90,168.38 L514.87,168.10 L516.33,167.65 L517.61,167.48 L518.79,167.57 L519.88,167.76 L520.88,168.00 L521.81,168.28 L522.66,168.61 L523.43,168.98 L524.13,169.39 L524.75,169.84 L525.29,170.33 L525.75,170.86 L526.13,171.43 L526.42,172.06 L526.63,172.74 L526.76,173.51 L526.80,174.55 L526.76,175.59 L526.63,176.36 L526.42,177.04 L526.13,177.67 L525.75,178.24 L525.29,178.77 L524.75,179.26 L524.13,179.71 L523.43,180.12 L522.66,180.49 L521.81,180.82 L520.88,181.10 L519.88,181.34 L518.79,181.54 L517.61,181.68 L516.33,181.66 L514.87,181.38 L512.90,181.17 L510.93,181.38 L509.47,181.66 L508.19,181.68 L507.01,181.54 L505.92,181.34 L504.92,181.10 L503.99,180.82 L503.14,180.49 L502.37,180.12 L501.67,179.71 L501.05,179.26 L500.51,178.77 L500.05,178.24 L499.67,177.67 L499.38,177.04 L499.17,176.36 L499.04,175.59 L499.00,174.55 L499.04,173.51 L499.17,172.74 L499.38,172.06 L499.67,171.43 L500.05,170.86 L500.51,170.33 L501.05,169.84 L501.67,169.39 L502.37,168.98 L503.14,168.61 L503.99,168.28 L504.92,168.00 L505.92,167.76 L507.01,167.57 L508.19,167.48 L509.47,167.65 L510.93,168.10Z M512.95,186.49 L515.12,186.18 L516.71,185.69 L518.12,185.51 L519.41,185.60 L520.61,185.81 L521.71,186.08 L522.73,186.39 L523.66,186.75 L524.51,187.15 L525.27,187.60 L525.95,188.09 L526.54,188.63 L527.05,189.21 L527.46,189.84 L527.78,190.52 L528.01,191.27 L528.15,192.11 L528.20,193.25 L528.15,194.39 L528.01,195.23 L527.78,195.98 L527.46,196.66 L527.05,197.29 L526.54,197.87 L525.95,198.41 L525.27,198.90 L524.51,199.35 L523.66,199.75 L522.73,200.11 L521.71,200.42 L520.61,200.69 L519.41,200.91 L518.12,201.06 L516.71,201.03 L515.12,200.73 L512.95,200.50 L510.78,200.73 L509.19,201.03 L507.78,201.06 L506.49,200.91 L505.29,200.69 L504.19,200.42 L503.17,200.11 L502.24,199.75 L501.39,199.35 L500.63,198.90 L499.95,198.41 L499.36,197.87 L498.85,197.29 L498.44,196.66 L498.12,195.98 L497.89,195.23 L497.75,194.39 L497.70,193.25 L497.75,192.11 L497.89,191.27 L498.12,190.52 L498.44,189.84 L498.85,189.21 L499.36,188.63 L499.95,188.09 L500.63,187.60 L501.39,187.15 L502.24,186.75 L503.17,186.39 L504.19,186.08 L505.29,185.81 L506.49,185.60 L507.78,185.51 L509.19,185.69 L510.78,186.18Z M512.50,205.98 L514.53,205.65 L516.02,205.12 L517.35,204.93 L518.56,205.03 L519.68,205.25 L520.71,205.53 L521.67,205.87 L522.54,206.25 L523.34,206.68 L524.05,207.16 L524.69,207.69 L525.25,208.26 L525.72,208.88 L526.11,209.55 L526.41,210.28 L526.63,211.08 L526.76,211.98 L526.80,213.20 L526.76,214.42 L526.63,215.32 L526.41,216.12 L526.11,216.85 L525.72,217.52 L525.25,218.14 L524.69,218.71 L524.05,219.24 L523.34,219.72 L522.54,220.15 L521.67,220.53 L520.71,220.87 L519.68,221.15 L518.56,221.38 L517.35,221.54 L516.02,221.51 L514.53,221.19 L512.50,220.94 L510.47,221.19 L508.98,221.51 L507.65,221.54 L506.44,221.38 L505.32,221.15 L504.29,220.87 L503.33,220.53 L502.46,220.15 L501.66,219.72 L500.95,219.24 L500.31,218.71 L499.75,218.14 L499.28,217.52 L498.89,216.85 L498.59,216.12 L498.37,215.32 L498.24,214.42 L498.20,213.20 L498.24,211.98 L498.37,211.08 L498.59,210.28 L498.89,209.55 L499.28,208.88 L499.75,208.26 L500.31,207.69 L500.95,207.16 L501.66,206.68 L502.46,206.25 L503.33,205.87 L504.29,205.53 L505.32,205.25 L506.44,205.03 L507.65,204.93 L508.98,205.12 L510.47,205.65Z M514.30,226.73 L516.27,226.41 L517.73,225.91 L519.01,225.72 L520.19,225.81 L521.28,226.03 L522.28,226.30 L523.21,226.62 L524.06,226.99 L524.83,227.41 L525.53,227.87 L526.15,228.38 L526.69,228.93 L527.15,229.53 L527.53,230.18 L527.82,230.89 L528.03,231.65 L528.16,232.52 L528.20,233.70 L528.16,234.88 L528.03,235.75 L527.82,236.51 L527.53,237.22 L527.15,237.87 L526.69,238.47 L526.15,239.02 L525.53,239.53 L524.83,239.99 L524.06,240.41 L523.21,240.78 L522.28,241.10 L521.28,241.37 L520.19,241.60 L519.01,241.75 L517.73,241.72 L516.27,241.41 L514.30,241.17 L512.33,241.41 L510.87,241.72 L509.59,241.75 L508.41,241.60 L507.32,241.37 L506.32,241.10 L505.39,240.78 L504.54,240.41 L503.77,239.99 L503.07,239.53 L502.45,239.02 L501.91,238.47 L501.45,237.87 L501.07,237.22 L500.78,236.51 L500.57,235.75 L500.44,234.88 L500.40,233.70 L500.44,232.52 L500.57,231.65 L500.78,230.89 L501.07,230.18 L501.45,229.53 L501.91,228.93 L502.45,228.38 L503.07,227.87 L503.77,227.41 L504.54,226.99 L505.39,226.62 L506.32,226.30 L507.32,226.03 L508.41,225.81 L509.59,225.72 L510.87,225.91 L512.33,226.41Z M511.55,247.54 L513.52,247.22 L514.96,246.71 L516.25,246.52 L517.42,246.62 L518.50,246.83 L519.50,247.11 L520.43,247.43 L521.28,247.80 L522.05,248.22 L522.74,248.69 L523.36,249.20 L523.89,249.75 L524.35,250.36 L524.73,251.01 L525.02,251.72 L525.23,252.49 L525.36,253.36 L525.40,254.55 L525.36,255.74 L525.23,256.61 L525.02,257.38 L524.73,258.09 L524.35,258.74 L523.89,259.35 L523.36,259.90 L522.74,260.41 L522.05,260.88 L521.28,261.30 L520.43,261.67 L519.50,261.99 L518.50,262.27 L517.42,262.49 L516.25,262.65 L514.96,262.62 L513.52,262.31 L511.55,262.06 L509.58,262.31 L508.14,262.62 L506.85,262.65 L505.68,262.49 L504.60,262.27 L503.60,261.99 L502.67,261.67 L501.82,261.30 L501.05,260.88 L500.36,260.41 L499.74,259.90 L499.21,259.35 L498.75,258.74 L498.37,258.09 L498.08,257.38 L497.87,256.61 L497.74,255.74 L497.70,254.55 L497.74,253.36 L497.87,252.49 L498.08,251.72 L498.37,251.01 L498.75,250.36 L499.21,249.75 L499.74,249.20 L500.36,248.69 L501.05,248.22 L501.82,247.80 L502.67,247.43 L503.60,247.11 L504.60,246.83 L505.68,246.62 L506.85,246.52 L508.14,246.71 L509.58,247.22Z M509.45,268.11 L511.12,267.85 L512.35,267.42 L513.44,267.27 L514.43,267.35 L515.35,267.53 L516.20,267.76 L516.98,268.03 L517.70,268.33 L518.35,268.68 L518.94,269.07 L519.47,269.49 L519.92,269.96 L520.31,270.46 L520.63,271.00 L520.88,271.59 L521.06,272.24 L521.16,272.96 L521.20,273.95 L521.16,274.94 L521.06,275.66 L520.88,276.31 L520.63,276.90 L520.31,277.44 L519.92,277.94 L519.47,278.41 L518.94,278.83 L518.35,279.22 L517.70,279.57 L516.98,279.87 L516.20,280.14 L515.35,280.37 L514.43,280.56 L513.44,280.69 L512.35,280.67 L511.12,280.41 L509.45,280.20 L507.78,280.41 L506.55,280.67 L505.46,280.69 L504.47,280.56 L503.55,280.37 L502.70,280.14 L501.92,279.87 L501.20,279.57 L500.55,279.22 L499.96,278.83 L499.43,278.41 L498.98,277.94 L498.59,277.44 L498.27,276.90 L498.02,276.31 L497.84,275.66 L497.74,274.94 L497.70,273.95 L497.74,272.96 L497.84,272.24 L498.02,271.59 L498.27,271.00 L498.59,270.46 L498.98,269.96 L499.43,269.49 L499.96,269.07 L500.55,268.68 L501.20,268.33 L501.92,268.03 L502.70,267.76 L503.55,267.53 L504.47,267.35 L505.46,267.27 L506.55,267.42 L507.78,267.85Z M551.75,167.48 L553.72,167.20 L555.16,166.75 L556.45,166.58 L557.62,166.67 L558.70,166.86 L559.70,167.10 L560.63,167.38 L561.48,167.71 L562.25,168.08 L562.94,168.49 L563.56,168.94 L564.09,169.43 L564.55,169.96 L564.93,170.53 L565.22,171.16 L565.43,171.84 L565.56,172.61 L565.60,173.65 L565.56,174.69 L565.43,175.46 L565.22,176.14 L564.93,176.77 L564.55,177.34 L564.09,177.87 L563.56,178.36 L562.94,178.81 L562.25,179.22 L561.48,179.59 L560.63,179.92 L559.70,180.20 L558.70,180.44 L557.62,180.64 L556.45,180.78 L555.16,180.76 L553.72,180.48 L551.75,180.26 L549.78,180.48 L548.34,180.76 L547.05,180.78 L545.88,180.64 L544.80,180.44 L543.80,180.20 L542.87,179.92 L542.02,179.59 L541.25,179.22 L540.56,178.81 L539.94,178.36 L539.41,177.87 L538.95,177.34 L538.57,176.77 L538.28,176.14 L538.07,175.46 L537.94,174.69 L537.90,173.65 L537.94,172.61 L538.07,171.84 L538.28,171.16 L538.57,170.53 L538.95,169.96 L539.41,169.43 L539.94,168.94 L540.56,168.49 L541.25,168.08 L542.02,167.71 L542.87,167.38 L543.80,167.10 L544.80,166.86 L545.88,166.67 L547.05,166.58 L548.34,166.75 L549.78,167.20Z M549.65,185.29 L551.72,184.93 L553.24,184.37 L554.58,184.16 L555.82,184.26 L556.96,184.50 L558.01,184.81 L558.98,185.17 L559.87,185.59 L560.68,186.05 L561.41,186.57 L562.05,187.14 L562.62,187.76 L563.10,188.43 L563.49,189.16 L563.80,189.95 L564.02,190.81 L564.16,191.78 L564.20,193.10 L564.16,194.42 L564.02,195.39 L563.80,196.25 L563.49,197.04 L563.10,197.77 L562.62,198.44 L562.05,199.06 L561.41,199.63 L560.68,200.15 L559.87,200.61 L558.98,201.03 L558.01,201.39 L556.96,201.70 L555.82,201.95 L554.58,202.12 L553.24,202.09 L551.72,201.74 L549.65,201.47 L547.58,201.74 L546.06,202.09 L544.72,202.12 L543.48,201.95 L542.34,201.70 L541.29,201.39 L540.32,201.03 L539.43,200.61 L538.62,200.15 L537.89,199.63 L537.25,199.06 L536.68,198.44 L536.20,197.77 L535.81,197.04 L535.50,196.25 L535.28,195.39 L535.14,194.42 L535.10,193.10 L535.14,191.78 L535.28,190.81 L535.50,189.95 L535.81,189.16 L536.20,188.43 L536.68,187.76 L537.25,187.14 L537.89,186.57 L538.62,186.05 L539.43,185.59 L540.32,185.17 L541.29,184.81 L542.34,184.50 L543.48,184.26 L544.72,184.16 L546.06,184.37 L547.58,184.93Z M548.00,205.49 L550.23,205.13 L551.87,204.57 L553.32,204.36 L554.65,204.46 L555.88,204.70 L557.02,205.01 L558.06,205.37 L559.02,205.79 L559.90,206.25 L560.69,206.77 L561.38,207.34 L561.99,207.96 L562.51,208.63 L562.94,209.36 L563.27,210.15 L563.51,211.01 L563.65,211.98 L563.70,213.30 L563.65,214.62 L563.51,215.59 L563.27,216.45 L562.94,217.24 L562.51,217.97 L561.99,218.64 L561.38,219.26 L560.69,219.83 L559.90,220.35 L559.02,220.81 L558.06,221.23 L557.02,221.59 L555.88,221.90 L554.65,222.15 L553.32,222.32 L551.87,222.29 L550.23,221.94 L548.00,221.67 L545.77,221.94 L544.13,222.29 L542.68,222.32 L541.35,222.15 L540.12,221.90 L538.98,221.59 L537.94,221.23 L536.98,220.81 L536.10,220.35 L535.31,219.83 L534.62,219.26 L534.01,218.64 L533.49,217.97 L533.06,217.24 L532.73,216.45 L532.49,215.59 L532.35,214.62 L532.30,213.30 L532.35,211.98 L532.49,211.01 L532.73,210.15 L533.06,209.36 L533.49,208.63 L534.01,207.96 L534.62,207.34 L535.31,206.77 L536.10,206.25 L536.98,205.79 L537.94,205.37 L538.98,205.01 L540.12,204.70 L541.35,204.46 L542.68,204.36 L544.13,204.57 L545.77,205.13Z M547.60,225.99 L549.77,225.66 L551.37,225.13 L552.79,224.93 L554.09,225.03 L555.28,225.26 L556.39,225.55 L557.41,225.88 L558.34,226.27 L559.20,226.71 L559.96,227.19 L560.64,227.72 L561.24,228.30 L561.74,228.93 L562.16,229.61 L562.48,230.35 L562.71,231.16 L562.85,232.06 L562.90,233.30 L562.85,234.54 L562.71,235.44 L562.48,236.25 L562.16,236.99 L561.74,237.67 L561.24,238.30 L560.64,238.88 L559.96,239.41 L559.20,239.89 L558.34,240.33 L557.41,240.72 L556.39,241.05 L555.28,241.34 L554.09,241.58 L552.79,241.74 L551.37,241.71 L549.77,241.38 L547.60,241.13 L545.43,241.38 L543.83,241.71 L542.41,241.74 L541.11,241.58 L539.92,241.34 L538.81,241.05 L537.79,240.72 L536.86,240.33 L536.00,239.89 L535.24,239.41 L534.56,238.88 L533.96,238.30 L533.46,237.67 L533.04,236.99 L532.72,236.25 L532.49,235.44 L532.35,234.54 L532.30,233.30 L532.35,232.06 L532.49,231.16 L532.72,230.35 L533.04,229.61 L533.46,228.93 L533.96,228.30 L534.56,227.72 L535.24,227.19 L536.00,226.71 L536.86,226.27 L537.79,225.88 L538.81,225.55 L539.92,225.26 L541.11,225.03 L542.41,224.93 L543.83,225.13 L545.43,225.66Z M546.90,246.20 L548.77,245.87 L550.15,245.33 L551.38,245.14 L552.50,245.24 L553.53,245.46 L554.48,245.75 L555.36,246.09 L556.17,246.48 L556.90,246.92 L557.57,247.41 L558.15,247.94 L558.67,248.52 L559.10,249.16 L559.46,249.84 L559.74,250.58 L559.94,251.39 L560.06,252.31 L560.10,253.55 L560.06,254.79 L559.94,255.71 L559.74,256.52 L559.46,257.26 L559.10,257.94 L558.67,258.58 L558.15,259.16 L557.57,259.69 L556.90,260.18 L556.17,260.62 L555.36,261.01 L554.48,261.35 L553.53,261.64 L552.50,261.87 L551.38,262.03 L550.15,262.01 L548.77,261.68 L546.90,261.43 L545.03,261.68 L543.65,262.01 L542.42,262.03 L541.30,261.87 L540.27,261.64 L539.32,261.35 L538.44,261.01 L537.63,260.62 L536.90,260.18 L536.23,259.69 L535.65,259.16 L535.13,258.58 L534.70,257.94 L534.34,257.26 L534.06,256.52 L533.86,255.71 L533.74,254.79 L533.70,253.55 L533.74,252.31 L533.86,251.39 L534.06,250.58 L534.34,249.84 L534.70,249.16 L535.13,248.52 L535.65,247.94 L536.23,247.41 L536.90,246.92 L537.63,246.48 L538.44,246.09 L539.32,245.75 L540.27,245.46 L541.30,245.24 L542.42,245.14 L543.65,245.33 L545.03,245.87Z M546.90,266.29 L548.58,266.01 L549.81,265.55 L550.90,265.39 L551.90,265.47 L552.82,265.66 L553.68,265.91 L554.46,266.20 L555.19,266.53 L555.84,266.90 L556.43,267.32 L556.96,267.77 L557.42,268.27 L557.81,268.81 L558.13,269.39 L558.38,270.02 L558.56,270.71 L558.66,271.49 L558.70,272.55 L558.66,273.61 L558.56,274.39 L558.38,275.08 L558.13,275.71 L557.81,276.29 L557.42,276.83 L556.96,277.33 L556.43,277.78 L555.84,278.20 L555.19,278.57 L554.46,278.90 L553.68,279.19 L552.82,279.44 L551.90,279.64 L550.90,279.77 L549.81,279.75 L548.58,279.47 L546.90,279.25 L545.22,279.47 L543.99,279.75 L542.90,279.77 L541.90,279.64 L540.98,279.44 L540.12,279.19 L539.34,278.90 L538.61,278.57 L537.96,278.20 L537.37,277.78 L536.84,277.33 L536.38,276.83 L535.99,276.29 L535.67,275.71 L535.42,275.08 L535.24,274.39 L535.14,273.61 L535.10,272.55 L535.14,271.49 L535.24,270.71 L535.42,270.02 L535.67,269.39 L535.99,268.81 L536.38,268.27 L536.84,267.77 L537.37,267.32 L537.96,266.90 L538.61,266.53 L539.34,266.20 L540.12,265.91 L540.98,265.66 L541.90,265.47 L542.90,265.39 L543.99,265.55 L545.22,266.01Z M585.45,169.95 L587.47,169.60 L588.96,169.05 L590.28,168.85 L591.49,168.95 L592.60,169.19 L593.63,169.48 L594.58,169.83 L595.46,170.24 L596.25,170.69 L596.96,171.20 L597.60,171.75 L598.15,172.35 L598.62,173.01 L599.01,173.71 L599.31,174.48 L599.53,175.32 L599.66,176.27 L599.70,177.55 L599.66,178.83 L599.53,179.78 L599.31,180.62 L599.01,181.39 L598.62,182.09 L598.15,182.75 L597.60,183.35 L596.96,183.90 L596.25,184.41 L595.46,184.86 L594.58,185.27 L593.63,185.62 L592.60,185.92 L591.49,186.16 L590.28,186.33 L588.96,186.30 L587.47,185.96 L585.45,185.70 L583.43,185.96 L581.94,186.30 L580.62,186.33 L579.41,186.16 L578.30,185.92 L577.27,185.62 L576.32,185.27 L575.44,184.86 L574.65,184.41 L573.94,183.90 L573.30,183.35 L572.75,182.75 L572.28,182.09 L571.89,181.39 L571.59,180.62 L571.37,179.78 L571.24,178.83 L571.20,177.55 L571.24,176.27 L571.37,175.32 L571.59,174.48 L571.89,173.71 L572.28,173.01 L572.75,172.35 L573.30,171.75 L573.94,171.20 L574.65,170.69 L575.44,170.24 L576.32,169.83 L577.27,169.48 L578.30,169.19 L579.41,168.95 L580.62,168.85 L581.94,169.05 L583.43,169.60Z M585.45,190.84 L587.47,190.50 L588.96,189.95 L590.28,189.75 L591.49,189.85 L592.60,190.08 L593.63,190.38 L594.58,190.73 L595.46,191.13 L596.25,191.58 L596.96,192.08 L597.60,192.63 L598.15,193.23 L598.62,193.88 L599.01,194.59 L599.31,195.35 L599.53,196.18 L599.66,197.12 L599.70,198.40 L599.66,199.68 L599.53,200.62 L599.31,201.45 L599.01,202.21 L598.62,202.92 L598.15,203.57 L597.60,204.17 L596.96,204.72 L596.25,205.22 L595.46,205.67 L594.58,206.07 L593.63,206.42 L592.60,206.72 L591.49,206.96 L590.28,207.13 L588.96,207.10 L587.47,206.76 L585.45,206.50 L583.43,206.76 L581.94,207.10 L580.62,207.13 L579.41,206.96 L578.30,206.72 L577.27,206.42 L576.32,206.07 L575.44,205.67 L574.65,205.22 L573.94,204.72 L573.30,204.17 L572.75,203.57 L572.28,202.92 L571.89,202.21 L571.59,201.45 L571.37,200.62 L571.24,199.68 L571.20,198.40 L571.24,197.12 L571.37,196.18 L571.59,195.35 L571.89,194.59 L572.28,193.88 L572.75,193.23 L573.30,192.63 L573.94,192.08 L574.65,191.58 L575.44,191.13 L576.32,190.73 L577.27,190.38 L578.30,190.08 L579.41,189.85 L580.62,189.75 L581.94,189.95 L583.43,190.50Z M585.45,210.19 L587.36,209.86 L588.76,209.33 L590.01,209.13 L591.15,209.23 L592.20,209.46 L593.17,209.75 L594.07,210.08 L594.89,210.47 L595.64,210.91 L596.32,211.39 L596.92,211.92 L597.44,212.50 L597.88,213.13 L598.25,213.81 L598.53,214.55 L598.74,215.36 L598.86,216.26 L598.90,217.50 L598.86,218.74 L598.74,219.64 L598.53,220.45 L598.25,221.19 L597.88,221.87 L597.44,222.50 L596.92,223.08 L596.32,223.61 L595.64,224.09 L594.89,224.53 L594.07,224.92 L593.17,225.25 L592.20,225.54 L591.15,225.78 L590.01,225.94 L588.76,225.91 L587.36,225.58 L585.45,225.33 L583.54,225.58 L582.14,225.91 L580.89,225.94 L579.75,225.78 L578.70,225.54 L577.73,225.25 L576.83,224.92 L576.01,224.53 L575.26,224.09 L574.58,223.61 L573.98,223.08 L573.46,222.50 L573.02,221.87 L572.65,221.19 L572.37,220.45 L572.16,219.64 L572.04,218.74 L572.00,217.50 L572.04,216.26 L572.16,215.36 L572.37,214.55 L572.65,213.81 L573.02,213.13 L573.46,212.50 L573.98,211.92 L574.58,211.39 L575.26,210.91 L576.01,210.47 L576.83,210.08 L577.73,209.75 L578.70,209.46 L579.75,209.23 L580.89,209.13 L582.14,209.33 L583.54,209.86Z M585.75,231.04 L587.62,230.70 L588.99,230.15 L590.21,229.95 L591.32,230.05 L592.35,230.28 L593.30,230.58 L594.18,230.93 L594.98,231.33 L595.72,231.78 L596.37,232.28 L596.96,232.83 L597.47,233.43 L597.90,234.08 L598.26,234.79 L598.54,235.55 L598.74,236.38 L598.86,237.32 L598.90,238.60 L598.86,239.88 L598.74,240.82 L598.54,241.65 L598.26,242.41 L597.90,243.12 L597.47,243.77 L596.96,244.37 L596.37,244.92 L595.72,245.42 L594.98,245.87 L594.18,246.27 L593.30,246.62 L592.35,246.92 L591.32,247.16 L590.21,247.33 L588.99,247.30 L587.62,246.96 L585.75,246.70 L583.88,246.96 L582.51,247.30 L581.29,247.33 L580.18,247.16 L579.15,246.92 L578.20,246.62 L577.32,246.27 L576.52,245.87 L575.78,245.42 L575.13,244.92 L574.54,244.37 L574.03,243.77 L573.60,243.12 L573.24,242.41 L572.96,241.65 L572.76,240.82 L572.64,239.88 L572.60,238.60 L572.64,237.32 L572.76,236.38 L572.96,235.55 L573.24,234.79 L573.60,234.08 L574.03,233.43 L574.54,232.83 L575.13,232.28 L575.78,231.78 L576.52,231.33 L577.32,230.93 L578.20,230.58 L579.15,230.28 L580.18,230.05 L581.29,229.95 L582.51,230.15 L583.88,230.70Z M586.45,250.68 L588.22,250.40 L589.52,249.95 L590.67,249.78 L591.73,249.87 L592.70,250.06 L593.60,250.30 L594.43,250.58 L595.19,250.91 L595.89,251.28 L596.51,251.69 L597.06,252.14 L597.55,252.63 L597.96,253.16 L598.30,253.73 L598.56,254.36 L598.75,255.04 L598.86,255.81 L598.90,256.85 L598.86,257.89 L598.75,258.66 L598.56,259.34 L598.30,259.97 L597.96,260.54 L597.55,261.07 L597.06,261.56 L596.51,262.01 L595.89,262.42 L595.19,262.79 L594.43,263.12 L593.60,263.40 L592.70,263.64 L591.73,263.84 L590.67,263.98 L589.52,263.96 L588.22,263.68 L586.45,263.47 L584.68,263.68 L583.38,263.96 L582.23,263.98 L581.17,263.84 L580.20,263.64 L579.30,263.40 L578.47,263.12 L577.71,262.79 L577.01,262.42 L576.39,262.01 L575.84,261.56 L575.35,261.07 L574.94,260.54 L574.60,259.97 L574.34,259.34 L574.15,258.66 L574.04,257.89 L574.00,256.85 L574.04,255.81 L574.15,255.04 L574.34,254.36 L574.60,253.73 L574.94,253.16 L575.35,252.63 L575.84,252.14 L576.39,251.69 L577.01,251.28 L577.71,250.91 L578.47,250.58 L579.30,250.30 L580.20,250.06 L581.17,249.87 L582.23,249.78 L583.38,249.95 L584.68,250.40Z M586.40,268.94 L587.98,268.69 L589.14,268.30 L590.16,268.15 L591.11,268.22 L591.97,268.39 L592.78,268.61 L593.52,268.86 L594.19,269.15 L594.81,269.47 L595.37,269.84 L595.86,270.23 L596.29,270.67 L596.66,271.14 L596.96,271.64 L597.20,272.20 L597.36,272.80 L597.47,273.48 L597.50,274.40 L597.47,275.32 L597.36,276.00 L597.20,276.60 L596.96,277.16 L596.66,277.66 L596.29,278.13 L595.86,278.57 L595.37,278.96 L594.81,279.33 L594.19,279.65 L593.52,279.94 L592.78,280.19 L591.97,280.41 L591.11,280.58 L590.16,280.70 L589.14,280.68 L587.98,280.44 L586.40,280.25 L584.82,280.44 L583.66,280.68 L582.64,280.70 L581.69,280.58 L580.83,280.41 L580.02,280.19 L579.28,279.94 L578.61,279.65 L577.99,279.33 L577.43,278.96 L576.94,278.57 L576.51,278.13 L576.14,277.66 L575.84,277.16 L575.60,276.60 L575.44,276.00 L575.33,275.32 L575.30,274.40 L575.33,273.48 L575.44,272.80 L575.60,272.20 L575.84,271.64 L576.14,271.14 L576.51,270.67 L576.94,270.23 L577.43,269.84 L577.99,269.47 L578.61,269.15 L579.28,268.86 L580.02,268.61 L580.83,268.39 L581.69,268.22 L582.64,268.15 L583.66,268.30 L584.82,268.69Z" fill="none" stroke="#a80c18" stroke-width="1.3" opacity="0.5"/>
</g>
<text x="7.00" y="318.80" font-size="10.5" text-anchor="start" fill="#111">E.</text>
<line x1="66.00" y1="317.40" x2="66.00" y2="430.60" stroke="#111" stroke-width="1.4" stroke-linecap="butt"/>
<line x1="61.80" y1="429.90" x2="257.60" y2="429.90" stroke="#111" stroke-width="1.6" stroke-linecap="butt"/>
<line x1="62.00" y1="318.11" x2="66.00" y2="318.11" stroke="#111" stroke-width="1.3" stroke-linecap="butt"/>
<text x="59.50" y="321.71" font-size="10" text-anchor="end" fill="#111">150</text>
<line x1="62.00" y1="355.27" x2="66.00" y2="355.27" stroke="#111" stroke-width="1.3" stroke-linecap="butt"/>
<text x="59.50" y="358.87" font-size="10" text-anchor="end" fill="#111">100</text>
<line x1="62.00" y1="392.44" x2="66.00" y2="392.44" stroke="#111" stroke-width="1.3" stroke-linecap="butt"/>
<text x="59.50" y="396.04" font-size="10" text-anchor="end" fill="#111">50</text>
<line x1="62.00" y1="429.60" x2="66.00" y2="429.60" stroke="#111" stroke-width="1.3" stroke-linecap="butt"/>
<text x="59.50" y="433.20" font-size="10" text-anchor="end" fill="#111">0</text>
<line x1="77.80" y1="429.90" x2="77.80" y2="433.20" stroke="#111" stroke-width="1.3" stroke-linecap="butt"/>
<text x="77.60" y="443.80" font-size="9.8" text-anchor="middle" fill="#111" textLength="5.20" lengthAdjust="spacingAndGlyphs">0</text>
<line x1="101.80" y1="429.90" x2="101.80" y2="433.20" stroke="#111" stroke-width="1.3" stroke-linecap="butt"/>
<text x="99.00" y="443.80" font-size="9.8" text-anchor="middle" fill="#111" textLength="10.20" lengthAdjust="spacingAndGlyphs">20</text>
<line x1="125.80" y1="429.90" x2="125.80" y2="433.20" stroke="#111" stroke-width="1.3" stroke-linecap="butt"/>
<text x="123.00" y="443.80" font-size="9.8" text-anchor="middle" fill="#111" textLength="10.20" lengthAdjust="spacingAndGlyphs">40</text>
<line x1="149.80" y1="429.90" x2="149.80" y2="433.20" stroke="#111" stroke-width="1.3" stroke-linecap="butt"/>
<text x="147.00" y="443.80" font-size="9.8" text-anchor="middle" fill="#111" textLength="10.20" lengthAdjust="spacingAndGlyphs">60</text>
<line x1="173.80" y1="429.90" x2="173.80" y2="433.20" stroke="#111" stroke-width="1.3" stroke-linecap="butt"/>
<text x="169.90" y="443.80" font-size="9.8" text-anchor="middle" fill="#111" textLength="10.20" lengthAdjust="spacingAndGlyphs">80</text>
<line x1="197.80" y1="429.90" x2="197.80" y2="433.20" stroke="#111" stroke-width="1.3" stroke-linecap="butt"/>
<text x="194.20" y="443.80" font-size="9.8" text-anchor="middle" fill="#111" textLength="14.60" lengthAdjust="spacingAndGlyphs">100</text>
<line x1="221.80" y1="429.90" x2="221.80" y2="433.20" stroke="#111" stroke-width="1.3" stroke-linecap="butt"/>
<text x="221.00" y="443.80" font-size="9.8" text-anchor="middle" fill="#111" textLength="14.60" lengthAdjust="spacingAndGlyphs">120</text>
<line x1="245.80" y1="429.90" x2="245.80" y2="433.20" stroke="#111" stroke-width="1.3" stroke-linecap="butt"/>
<text x="244.80" y="443.80" font-size="9.8" text-anchor="middle" fill="#111" textLength="14.60" lengthAdjust="spacingAndGlyphs">140</text>
<text x="255.80" y="443.80" font-size="9.8" text-anchor="start" fill="#111" textLength="21.00" lengthAdjust="spacingAndGlyphs">(min)</text>
<text x="41.30" y="411.30" font-size="10" text-anchor="start" fill="#111" textLength="83.00" lengthAdjust="spacingAndGlyphs" transform="rotate(-90 41.30 411.30)">rCBF (%baseline)</text>
<polyline points="77.80,355.27 101.80,355.27 125.80,355.27 149.80,355.27 173.80,355.27 197.80,355.27 221.80,355.27 245.80,355.27" fill="none" stroke="#111" stroke-width="1.5" stroke-linejoin="round"/>
<circle cx="77.80" cy="355.27" r="2.4" fill="#111"/>
<circle cx="101.80" cy="355.27" r="2.4" fill="#111"/>
<circle cx="125.80" cy="355.27" r="2.4" fill="#111"/>
<circle cx="149.80" cy="355.27" r="2.4" fill="#111"/>
<circle cx="173.80" cy="355.27" r="2.4" fill="#111"/>
<circle cx="197.80" cy="355.27" r="2.4" fill="#111"/>
<circle cx="221.80" cy="355.27" r="2.4" fill="#111"/>
<circle cx="245.80" cy="355.27" r="2.4" fill="#111"/>
<polyline points="77.80,355.27 101.80,412.88 125.80,414.36 149.80,415.48 173.80,413.25 197.80,414.73 221.80,357.87 245.80,356.76" fill="none" stroke="#ee1c1c" stroke-width="1.2" stroke-linejoin="round"/>
<line x1="149.80" y1="413.62" x2="149.80" y2="417.34" stroke="#ee1c1c" stroke-width="1.5" stroke-linecap="butt"/>
<line x1="146.80" y1="413.62" x2="152.80" y2="413.62" stroke="#ee1c1c" stroke-width="1.5" stroke-linecap="butt"/>
<line x1="146.80" y1="417.34" x2="152.80" y2="417.34" stroke="#ee1c1c" stroke-width="1.5" stroke-linecap="butt"/>
<line x1="197.80" y1="413.62" x2="197.80" y2="415.85" stroke="#ee1c1c" stroke-width="1.5" stroke-linecap="butt"/>
<line x1="194.80" y1="413.62" x2="200.80" y2="413.62" stroke="#ee1c1c" stroke-width="1.5" stroke-linecap="butt"/>
<line x1="194.80" y1="415.85" x2="200.80" y2="415.85" stroke="#ee1c1c" stroke-width="1.5" stroke-linecap="butt"/>
<rect x="75.64" y="353.11" width="4.32" height="4.32" fill="#ee1c1c"/>
<rect x="99.64" y="410.72" width="4.32" height="4.32" fill="#ee1c1c"/>
<rect x="123.64" y="412.20" width="4.32" height="4.32" fill="#ee1c1c"/>
<rect x="147.64" y="413.32" width="4.32" height="4.32" fill="#ee1c1c"/>
<rect x="171.64" y="411.09" width="4.32" height="4.32" fill="#ee1c1c"/>
<rect x="195.64" y="412.57" width="4.32" height="4.32" fill="#ee1c1c"/>
<rect x="219.64" y="355.71" width="4.32" height="4.32" fill="#ee1c1c"/>
<rect x="243.64" y="354.60" width="4.32" height="4.32" fill="#ee1c1c"/>
<polyline points="77.80,355.27 101.80,413.62 125.80,414.73 149.80,414.73 173.80,413.25 197.80,413.99 221.80,357.13 245.80,356.76" fill="none" stroke="#33e633" stroke-width="1.2" stroke-linejoin="round"/>
<polygon points="77.80,352.51 80.56,357.34 75.04,357.34" fill="#33e633"/>
<polygon points="101.80,410.86 104.56,415.69 99.04,415.69" fill="#33e633"/>
<polygon points="125.80,411.97 128.56,416.80 123.04,416.80" fill="#33e633"/>
<polygon points="149.80,411.97 152.56,416.80 147.04,416.80" fill="#33e633"/>
<polygon points="173.80,410.49 176.56,415.32 171.04,415.32" fill="#33e633"/>
<polygon points="197.80,411.23 200.56,416.06 195.04,416.06" fill="#33e633"/>
<polygon points="221.80,354.37 224.56,359.20 219.04,359.20" fill="#33e633"/>
<polygon points="245.80,354.00 248.56,358.83 243.04,358.83" fill="#33e633"/>
<polyline points="77.80,355.27 101.80,411.76 125.80,413.62 149.80,413.99 173.80,412.50 197.80,413.99 221.80,357.50 245.80,356.76" fill="none" stroke="#1a1ab8" stroke-width="1.2" stroke-linejoin="round"/>
<polygon points="77.80,358.03 80.56,353.20 75.04,353.20" fill="#1a1ab8"/>
<polygon points="101.80,414.52 104.56,409.69 99.04,409.69" fill="#1a1ab8"/>
<polygon points="125.80,416.38 128.56,411.55 123.04,411.55" fill="#1a1ab8"/>
<polygon points="149.80,416.75 152.56,411.92 147.04,411.92" fill="#1a1ab8"/>
<polygon points="173.80,415.26 176.56,410.43 171.04,410.43" fill="#1a1ab8"/>
<polygon points="197.80,416.75 200.56,411.92 195.04,411.92" fill="#1a1ab8"/>
<polygon points="221.80,360.26 224.56,355.43 219.04,355.43" fill="#1a1ab8"/>
<polygon points="245.80,359.52 248.56,354.69 243.04,354.69" fill="#1a1ab8"/>
<polyline points="77.80,355.27 101.80,413.62 125.80,413.62 149.80,413.62 173.80,413.25 197.80,413.25 221.80,357.13 245.80,356.76" fill="none" stroke="#ffff1a" stroke-width="1.2" stroke-linejoin="round"/>
<line x1="125.80" y1="412.50" x2="125.80" y2="414.73" stroke="#ffff1a" stroke-width="1.5" stroke-linecap="butt"/>
<line x1="122.80" y1="412.50" x2="128.80" y2="412.50" stroke="#ffff1a" stroke-width="1.5" stroke-linecap="butt"/>
<line x1="122.80" y1="414.73" x2="128.80" y2="414.73" stroke="#ffff1a" stroke-width="1.5" stroke-linecap="butt"/>
<line x1="149.80" y1="411.76" x2="149.80" y2="415.48" stroke="#ffff1a" stroke-width="1.5" stroke-linecap="butt"/>
<line x1="146.80" y1="411.76" x2="152.80" y2="411.76" stroke="#ffff1a" stroke-width="1.5" stroke-linecap="butt"/>
<line x1="146.80" y1="415.48" x2="152.80" y2="415.48" stroke="#ffff1a" stroke-width="1.5" stroke-linecap="butt"/>
<polygon points="77.80,352.39 80.68,355.27 77.80,358.15 74.92,355.27" fill="#ffff1a"/>
<polygon points="101.80,410.74 104.68,413.62 101.80,416.50 98.92,413.62" fill="#ffff1a"/>
<polygon points="125.80,410.74 128.68,413.62 125.80,416.50 122.92,413.62" fill="#ffff1a"/>
<polygon points="149.80,410.74 152.68,413.62 149.80,416.50 146.92,413.62" fill="#ffff1a"/>
<polygon points="173.80,410.37 176.68,413.25 173.80,416.13 170.92,413.25" fill="#ffff1a"/>
<polygon points="197.80,410.37 200.68,413.25 197.80,416.13 194.92,413.25" fill="#ffff1a"/>
<polygon points="221.80,354.25 224.68,357.13 221.80,360.01 218.92,357.13" fill="#ffff1a"/>
<polygon points="245.80,353.88 248.68,356.76 245.80,359.64 242.92,356.76" fill="#ffff1a"/>
<line x1="264.30" y1="336.60" x2="274.80" y2="336.60" stroke="#111" stroke-width="1.5" stroke-linecap="butt"/>
<circle cx="269.55" cy="336.60" r="2.5" fill="#111"/>
<text x="277.80" y="340.10" font-size="10.5" text-anchor="start" fill="#111" textLength="24.80" lengthAdjust="spacingAndGlyphs">Sham</text>
<line x1="264.30" y1="351.70" x2="274.80" y2="351.70" stroke="#ee1c1c" stroke-width="1.5" stroke-linecap="butt"/>
<rect x="267.30" y="349.45" width="4.50" height="4.50" fill="#ee1c1c"/>
<text x="277.80" y="355.20" font-size="10.5" text-anchor="start" fill="#111" textLength="31.50" lengthAdjust="spacingAndGlyphs">Vehicle</text>
<line x1="264.30" y1="367.00" x2="274.80" y2="367.00" stroke="#33e633" stroke-width="1.5" stroke-linecap="butt"/>
<polygon points="269.55,364.12 272.43,369.16 266.68,369.16" fill="#33e633"/>
<text x="278.80" y="370.50" font-size="10.5" text-anchor="start" fill="#111" textLength="34.20" lengthAdjust="spacingAndGlyphs">DHC2.5</text>
<line x1="264.30" y1="381.40" x2="274.80" y2="381.40" stroke="#1a1ab8" stroke-width="1.5" stroke-linecap="butt"/>
<polygon points="269.55,384.27 272.43,379.24 266.68,379.24" fill="#1a1ab8"/>
<text x="279.40" y="384.90" font-size="10.5" text-anchor="start" fill="#111" textLength="25.60" lengthAdjust="spacingAndGlyphs">DHC5</text>
<line x1="264.30" y1="396.50" x2="274.80" y2="396.50" stroke="#ffff1a" stroke-width="1.5" stroke-linecap="butt"/>
<polygon points="269.55,393.50 272.55,396.50 269.55,399.50 266.55,396.50" fill="#ffff1a"/>
<text x="279.40" y="400.00" font-size="10.5" text-anchor="start" fill="#111" textLength="31.60" lengthAdjust="spacingAndGlyphs">DHC10</text>
<text x="279.40" y="412.30" font-size="10.5" text-anchor="start" fill="#111" textLength="32.80" lengthAdjust="spacingAndGlyphs">(mg/kg)</text>
<text x="341.50" y="318.50" font-size="10.5" text-anchor="start" fill="#111">F.</text>
<rect x="444.40" y="321.64" width="32.00" height="98.56" fill="#000"/>
<line x1="460.40" y1="321.64" x2="460.40" y2="314.00" stroke="#000" stroke-width="1.9" stroke-linecap="butt"/>
<line x1="451.90" y1="314.00" x2="468.90" y2="314.00" stroke="#000" stroke-width="1.9" stroke-linecap="butt"/>
<rect x="491.10" y="331.81" width="30.00" height="88.39" fill="#fff" stroke="#000" stroke-width="2"/>
<line x1="506.10" y1="330.81" x2="506.10" y2="318.59" stroke="#000" stroke-width="1.9" stroke-linecap="butt"/>
<line x1="497.60" y1="318.59" x2="514.60" y2="318.59" stroke="#000" stroke-width="1.9" stroke-linecap="butt"/>
<rect x="536.70" y="373.07" width="30.00" height="47.13" fill="#fff" stroke="#000" stroke-width="2"/>
<line x1="551.70" y1="372.07" x2="551.70" y2="359.46" stroke="#000" stroke-width="1.9" stroke-linecap="butt"/>
<line x1="543.20" y1="359.46" x2="560.20" y2="359.46" stroke="#000" stroke-width="1.9" stroke-linecap="butt"/>
<rect x="582.40" y="390.26" width="30.00" height="29.94" fill="#fff" stroke="#000" stroke-width="2"/>
<line x1="597.40" y1="389.26" x2="597.40" y2="383.53" stroke="#000" stroke-width="1.9" stroke-linecap="butt"/>
<line x1="588.90" y1="383.53" x2="605.90" y2="383.53" stroke="#000" stroke-width="1.9" stroke-linecap="butt"/>
<line x1="391.80" y1="304.50" x2="391.80" y2="421.00" stroke="#111" stroke-width="1.7" stroke-linecap="butt"/>
<line x1="399.60" y1="419.00" x2="399.60" y2="420.20" stroke="#111" stroke-width="1.2" stroke-linecap="butt"/>
<line x1="429.70" y1="419.00" x2="429.70" y2="420.20" stroke="#111" stroke-width="1.2" stroke-linecap="butt"/>
<line x1="391.00" y1="420.20" x2="620.40" y2="420.20" stroke="#111" stroke-width="1.7" stroke-linecap="butt"/>
<line x1="387.50" y1="305.60" x2="391.80" y2="305.60" stroke="#111" stroke-width="1.5" stroke-linecap="butt"/>
<text x="387.60" y="309.30" font-size="10.3" text-anchor="end" fill="#111">35</text>
<line x1="387.50" y1="343.80" x2="391.80" y2="343.80" stroke="#111" stroke-width="1.5" stroke-linecap="butt"/>
<text x="387.60" y="347.50" font-size="10.3" text-anchor="end" fill="#111">30</text>
<line x1="387.50" y1="382.00" x2="391.80" y2="382.00" stroke="#111" stroke-width="1.5" stroke-linecap="butt"/>
<text x="387.60" y="385.70" font-size="10.3" text-anchor="end" fill="#111">25</text>
<line x1="387.50" y1="420.20" x2="391.80" y2="420.20" stroke="#111" stroke-width="1.5" stroke-linecap="butt"/>
<text x="387.60" y="423.90" font-size="10.3" text-anchor="end" fill="#111">20</text>
<line x1="414.70" y1="420.20" x2="414.70" y2="424.00" stroke="#111" stroke-width="1.5" stroke-linecap="butt"/>
<line x1="460.40" y1="420.20" x2="460.40" y2="424.00" stroke="#111" stroke-width="1.5" stroke-linecap="butt"/>
<line x1="506.10" y1="420.20" x2="506.10" y2="424.00" stroke="#111" stroke-width="1.5" stroke-linecap="butt"/>
<line x1="551.70" y1="420.20" x2="551.70" y2="424.00" stroke="#111" stroke-width="1.5" stroke-linecap="butt"/>
<line x1="597.40" y1="420.20" x2="597.40" y2="424.00" stroke="#111" stroke-width="1.5" stroke-linecap="butt"/>
<text x="412.80" y="432.80" font-size="10.5" text-anchor="middle" fill="#111" textLength="28.50" lengthAdjust="spacingAndGlyphs">Sham</text>
<text x="460.60" y="433.80" font-size="10.5" text-anchor="middle" fill="#111" textLength="36.50" lengthAdjust="spacingAndGlyphs">Vehicle</text>
<text x="505.40" y="433.30" font-size="10.5" text-anchor="middle" fill="#111" textLength="15.50" lengthAdjust="spacingAndGlyphs">2.5</text>
<text x="551.30" y="433.60" font-size="10.5" text-anchor="middle" fill="#111">5</text>
<text x="597.40" y="433.30" font-size="10.5" text-anchor="middle" fill="#111">10</text>
<line x1="509.40" y1="436.20" x2="598.30" y2="436.20" stroke="#111" stroke-width="1.1" stroke-linecap="butt"/>
<text x="553.30" y="448.20" font-size="10.5" text-anchor="middle" fill="#111" textLength="65.00" lengthAdjust="spacingAndGlyphs">DHC (mg/kg)</text>
<text x="370.20" y="403.40" font-size="10.5" text-anchor="start" fill="#111" textLength="85.40" lengthAdjust="spacingAndGlyphs" transform="rotate(-90 370.20 403.40)">Infarct volume (%)</text>
<text x="459.80" y="314.60" font-size="9.5" text-anchor="middle" fill="#111" textLength="12.40" lengthAdjust="spacingAndGlyphs">***</text>
<text x="551.60" y="356.00" font-size="11" text-anchor="middle" fill="#111" textLength="5.60" lengthAdjust="spacingAndGlyphs">#</text>
<text x="597.20" y="381.90" font-size="11" text-anchor="middle" fill="#111" textLength="13.00" lengthAdjust="spacingAndGlyphs">##</text>
</svg></body></html>
